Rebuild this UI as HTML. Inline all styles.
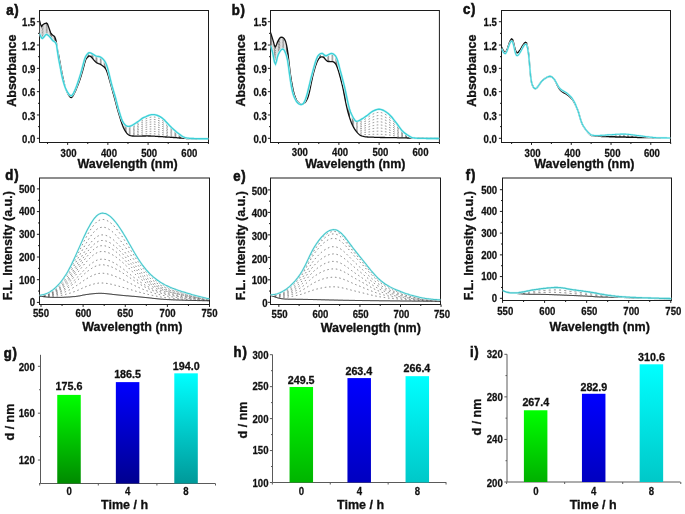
<!DOCTYPE html>
<html><head><meta charset="utf-8"><style>
html,body{margin:0;padding:0;background:#fff;}
svg{display:block;will-change:transform;}
text{font-family:"Liberation Sans",sans-serif;font-weight:bold;fill:#111;}
</style></head><body>
<svg width="685" height="514" viewBox="0 0 685 514">
<defs><clipPath id="ca"><rect x="39.5" y="10.5" width="169.00" height="132.00"/></clipPath><clipPath id="cb"><rect x="270.5" y="10.5" width="168.90" height="132.00"/></clipPath><clipPath id="cc"><rect x="501.5" y="10.5" width="169.00" height="132.00"/></clipPath><clipPath id="cd"><rect x="39.5" y="178.0" width="170.00" height="126.50"/></clipPath><clipPath id="ce"><rect x="270.5" y="178.0" width="170.00" height="126.50"/></clipPath><clipPath id="cf"><rect x="502.5" y="178.0" width="169.00" height="122.50"/></clipPath><linearGradient id="gg0" x1="0" y1="0" x2="0" y2="1"><stop offset="0" stop-color="#00ff00"/><stop offset="1" stop-color="#008a00"/></linearGradient><linearGradient id="gg1" x1="0" y1="0" x2="0" y2="1"><stop offset="0" stop-color="#0000ff"/><stop offset="1" stop-color="#000090"/></linearGradient><linearGradient id="gg2" x1="0" y1="0" x2="0" y2="1"><stop offset="0" stop-color="#00ffff"/><stop offset="1" stop-color="#009999"/></linearGradient><linearGradient id="gh0" x1="0" y1="0" x2="0" y2="1"><stop offset="0" stop-color="#00ff00"/><stop offset="1" stop-color="#00b400"/></linearGradient><linearGradient id="gh1" x1="0" y1="0" x2="0" y2="1"><stop offset="0" stop-color="#0000ff"/><stop offset="1" stop-color="#0000c0"/></linearGradient><linearGradient id="gh2" x1="0" y1="0" x2="0" y2="1"><stop offset="0" stop-color="#00ffff"/><stop offset="1" stop-color="#00c8c8"/></linearGradient><linearGradient id="gi0" x1="0" y1="0" x2="0" y2="1"><stop offset="0" stop-color="#00ff00"/><stop offset="1" stop-color="#00b000"/></linearGradient><linearGradient id="gi1" x1="0" y1="0" x2="0" y2="1"><stop offset="0" stop-color="#0000ff"/><stop offset="1" stop-color="#0000c0"/></linearGradient><linearGradient id="gi2" x1="0" y1="0" x2="0" y2="1"><stop offset="0" stop-color="#00ffff"/><stop offset="1" stop-color="#00c8c8"/></linearGradient></defs>
<rect width="685" height="514" fill="#fff"/>
<rect x="39.50" y="10.50" width="169.00" height="132.00" fill="none" stroke="#1c1c1c" stroke-width="1.0"/>
<path d="M36.90 138.30L39.50 138.30" stroke="#1c1c1c" stroke-width="1.0"/>
<path d="M36.90 114.98L39.50 114.98" stroke="#1c1c1c" stroke-width="1.0"/>
<path d="M36.90 91.66L39.50 91.66" stroke="#1c1c1c" stroke-width="1.0"/>
<path d="M36.90 68.34L39.50 68.34" stroke="#1c1c1c" stroke-width="1.0"/>
<path d="M36.90 45.02L39.50 45.02" stroke="#1c1c1c" stroke-width="1.0"/>
<path d="M36.90 21.71L39.50 21.71" stroke="#1c1c1c" stroke-width="1.0"/>
<path d="M38.00 126.64L39.50 126.64" stroke="#1c1c1c" stroke-width="1.0"/>
<path d="M38.00 103.32L39.50 103.32" stroke="#1c1c1c" stroke-width="1.0"/>
<path d="M38.00 80.00L39.50 80.00" stroke="#1c1c1c" stroke-width="1.0"/>
<path d="M38.00 56.68L39.50 56.68" stroke="#1c1c1c" stroke-width="1.0"/>
<path d="M38.00 33.36L39.50 33.36" stroke="#1c1c1c" stroke-width="1.0"/>
<path d="M67.65 142.50L67.65 144.90" stroke="#1c1c1c" stroke-width="1.0"/>
<path d="M107.87 142.50L107.87 144.90" stroke="#1c1c1c" stroke-width="1.0"/>
<path d="M148.09 142.50L148.09 144.90" stroke="#1c1c1c" stroke-width="1.0"/>
<path d="M188.31 142.50L188.31 144.90" stroke="#1c1c1c" stroke-width="1.0"/>
<path d="M47.54 142.50L47.54 144.00" stroke="#1c1c1c" stroke-width="1.0"/>
<path d="M87.76 142.50L87.76 144.00" stroke="#1c1c1c" stroke-width="1.0"/>
<path d="M127.98 142.50L127.98 144.00" stroke="#1c1c1c" stroke-width="1.0"/>
<path d="M168.20 142.50L168.20 144.00" stroke="#1c1c1c" stroke-width="1.0"/>
<path d="M208.42 142.50L208.42 144.00" stroke="#1c1c1c" stroke-width="1.0"/>
<rect x="270.50" y="10.50" width="168.90" height="132.00" fill="none" stroke="#1c1c1c" stroke-width="1.0"/>
<path d="M267.90 138.30L270.50 138.30" stroke="#1c1c1c" stroke-width="1.0"/>
<path d="M267.90 114.98L270.50 114.98" stroke="#1c1c1c" stroke-width="1.0"/>
<path d="M267.90 91.66L270.50 91.66" stroke="#1c1c1c" stroke-width="1.0"/>
<path d="M267.90 68.34L270.50 68.34" stroke="#1c1c1c" stroke-width="1.0"/>
<path d="M267.90 45.02L270.50 45.02" stroke="#1c1c1c" stroke-width="1.0"/>
<path d="M267.90 21.71L270.50 21.71" stroke="#1c1c1c" stroke-width="1.0"/>
<path d="M269.00 126.64L270.50 126.64" stroke="#1c1c1c" stroke-width="1.0"/>
<path d="M269.00 103.32L270.50 103.32" stroke="#1c1c1c" stroke-width="1.0"/>
<path d="M269.00 80.00L270.50 80.00" stroke="#1c1c1c" stroke-width="1.0"/>
<path d="M269.00 56.68L270.50 56.68" stroke="#1c1c1c" stroke-width="1.0"/>
<path d="M269.00 33.36L270.50 33.36" stroke="#1c1c1c" stroke-width="1.0"/>
<path d="M298.66 142.50L298.66 144.90" stroke="#1c1c1c" stroke-width="1.0"/>
<path d="M338.89 142.50L338.89 144.90" stroke="#1c1c1c" stroke-width="1.0"/>
<path d="M379.12 142.50L379.12 144.90" stroke="#1c1c1c" stroke-width="1.0"/>
<path d="M419.35 142.50L419.35 144.90" stroke="#1c1c1c" stroke-width="1.0"/>
<path d="M278.55 142.50L278.55 144.00" stroke="#1c1c1c" stroke-width="1.0"/>
<path d="M318.78 142.50L318.78 144.00" stroke="#1c1c1c" stroke-width="1.0"/>
<path d="M359.01 142.50L359.01 144.00" stroke="#1c1c1c" stroke-width="1.0"/>
<path d="M399.24 142.50L399.24 144.00" stroke="#1c1c1c" stroke-width="1.0"/>
<path d="M439.47 142.50L439.47 144.00" stroke="#1c1c1c" stroke-width="1.0"/>
<rect x="501.50" y="10.50" width="169.00" height="132.00" fill="none" stroke="#1c1c1c" stroke-width="1.0"/>
<path d="M498.90 138.30L501.50 138.30" stroke="#1c1c1c" stroke-width="1.0"/>
<path d="M498.90 114.98L501.50 114.98" stroke="#1c1c1c" stroke-width="1.0"/>
<path d="M498.90 91.66L501.50 91.66" stroke="#1c1c1c" stroke-width="1.0"/>
<path d="M498.90 68.34L501.50 68.34" stroke="#1c1c1c" stroke-width="1.0"/>
<path d="M498.90 45.02L501.50 45.02" stroke="#1c1c1c" stroke-width="1.0"/>
<path d="M498.90 21.71L501.50 21.71" stroke="#1c1c1c" stroke-width="1.0"/>
<path d="M500.00 126.64L501.50 126.64" stroke="#1c1c1c" stroke-width="1.0"/>
<path d="M500.00 103.32L501.50 103.32" stroke="#1c1c1c" stroke-width="1.0"/>
<path d="M500.00 80.00L501.50 80.00" stroke="#1c1c1c" stroke-width="1.0"/>
<path d="M500.00 56.68L501.50 56.68" stroke="#1c1c1c" stroke-width="1.0"/>
<path d="M500.00 33.36L501.50 33.36" stroke="#1c1c1c" stroke-width="1.0"/>
<path d="M531.50 142.50L531.50 144.90" stroke="#1c1c1c" stroke-width="1.0"/>
<path d="M571.27 142.50L571.27 144.90" stroke="#1c1c1c" stroke-width="1.0"/>
<path d="M611.04 142.50L611.04 144.90" stroke="#1c1c1c" stroke-width="1.0"/>
<path d="M650.81 142.50L650.81 144.90" stroke="#1c1c1c" stroke-width="1.0"/>
<path d="M511.62 142.50L511.62 144.00" stroke="#1c1c1c" stroke-width="1.0"/>
<path d="M551.38 142.50L551.38 144.00" stroke="#1c1c1c" stroke-width="1.0"/>
<path d="M591.15 142.50L591.15 144.00" stroke="#1c1c1c" stroke-width="1.0"/>
<path d="M630.92 142.50L630.92 144.00" stroke="#1c1c1c" stroke-width="1.0"/>
<path d="M670.69 142.50L670.69 144.00" stroke="#1c1c1c" stroke-width="1.0"/>
<g clip-path="url(#ca)" fill="none">
<path d="M39.5 20.5L40.5 24.2L41.5 26.4L42.5 25.0L43.5 24.2L44.5 23.7L45.5 23.4L46.5 23.1L47.5 24.0L48.5 26.6L49.5 29.5L50.5 32.5L51.5 34.1L52.5 35.0L53.5 35.7L54.5 36.5L55.5 38.6L56.5 43.2L57.5 50.0L57.5 51.7L56.5 44.7L55.5 42.6L54.5 41.7L53.5 41.2L52.5 40.3L51.5 39.0L50.5 37.7L49.5 36.6L48.5 35.6L47.5 34.8L46.5 34.3L45.5 34.9L44.5 36.3L43.5 37.5L42.5 38.5L41.5 37.9L40.5 35.9L39.5 33.6Z" fill="#e0e0e0" stroke="none"/>
<path d="M41.8 27.6L42.6 26.4L43.4 25.8M45.9 24.5L46.7 24.4L47.5 25.3M50.1 32.0L50.9 33.8L51.7 34.8M54.2 36.9L55.0 37.9L55.8 40.3M58.4 54.4L59.2 58.6L60.0 62.8M62.5 76.2L63.3 79.8L64.1 83.0M66.7 91.1L67.5 92.9L68.3 94.4M70.8 97.5L71.6 97.4L72.4 96.6M75.0 91.8L75.8 90.0L76.6 88.1M79.1 81.4L79.9 79.1L80.7 76.6M83.3 67.7L84.1 64.7L84.9 61.7M87.4 57.1L88.2 56.3L89.0 55.6M91.6 56.9L92.4 57.8L93.2 58.8M95.7 61.4L96.5 61.9L97.3 62.3M99.9 63.3L100.7 63.7L101.5 64.2M104.0 66.1L104.8 67.0L105.6 68.2M108.2 74.8L109.0 77.7L109.8 80.6M112.3 89.8L113.1 92.7L113.9 95.6M116.5 105.3L117.3 108.2L118.1 111.0M120.6 119.4L121.4 121.9L122.2 124.1M124.8 129.7L125.6 130.9L126.4 132.0M128.9 134.1L129.8 134.4L130.5 134.6M133.1 134.7L133.9 134.7L134.7 134.7M137.2 134.6L138.1 134.5L138.8 134.5M141.4 134.2L142.2 134.1L143.0 134.0M145.6 133.8L146.4 133.8L147.2 133.7M149.7 133.7L150.5 133.7L151.3 133.7M153.9 133.8L154.7 133.8L155.5 133.9M158.0 134.1L158.8 134.2L159.6 134.3M162.2 134.6L163.0 134.8L163.8 134.9M166.3 135.3L167.1 135.5L167.9 135.6M170.5 136.1L171.3 136.2L172.1 136.4M174.6 136.8L175.4 136.9L176.2 137.0M178.8 137.4L179.6 137.6L180.4 137.7M182.9 138.1L183.7 138.2L184.5 138.2M187.1 138.5L187.9 138.5L188.7 138.6M191.2 138.7L192.0 138.7L192.8 138.7M195.4 138.8L196.2 138.8L197.0 138.8M199.5 138.8L200.3 138.8L201.1 138.8M203.7 138.7L204.5 138.7L205.3 138.7M207.8 138.7L208.2 138.7L208.5 138.7" stroke="#777" stroke-width="0.8"/>
<path d="M41.8 28.9L42.6 27.9L43.4 27.2M45.9 25.7L46.7 25.6L47.5 26.5M50.1 32.7L50.9 34.4L51.7 35.4M54.2 37.5L55.0 38.5L55.8 40.6M58.4 54.8L59.2 59.0L60.0 63.2M62.5 76.5L63.3 80.0L64.1 83.2M66.7 91.1L67.5 92.8L68.3 94.3M70.8 97.3L71.6 97.1L72.4 96.4M75.0 91.6L75.8 89.8L76.6 87.8M79.1 81.0L79.9 78.7L80.7 76.2M83.3 67.3L84.1 64.2L84.9 61.3M87.4 56.7L88.2 55.9L89.0 55.2M91.6 56.5L92.4 57.3L93.2 58.2M95.7 60.7L96.5 61.2L97.3 61.6M99.9 62.5L100.7 62.9L101.5 63.4M104.0 65.4L104.8 66.3L105.6 67.5M108.2 74.3L109.0 77.1L109.8 80.1M112.3 89.4L113.1 92.3L113.9 95.2M116.5 104.8L117.3 107.8L118.1 110.6M120.6 119.0L121.4 121.4L122.2 123.7M124.8 129.0L125.6 130.2L126.4 131.2M128.9 133.1L129.8 133.4L130.5 133.5M133.1 133.5L133.9 133.4L134.7 133.3M137.2 133.0L138.1 132.9L138.8 132.8M141.4 132.3L142.2 132.1L143.0 132.0M145.6 131.7L146.4 131.6L147.2 131.5M149.7 131.4L150.5 131.3L151.3 131.3M153.9 131.4L154.7 131.5L155.5 131.5M158.0 131.8L158.8 131.9L159.6 132.1M162.2 132.6L163.0 132.8L163.8 133.0M166.3 133.7L167.1 133.9L167.9 134.2M170.5 134.9L171.3 135.1L172.1 135.3M174.6 136.0L175.4 136.2L176.2 136.4M178.8 137.0L179.6 137.1L180.4 137.3M182.9 137.9L183.7 138.0L184.5 138.1M187.1 138.4L187.9 138.5L188.7 138.5M191.2 138.6L192.0 138.7L192.8 138.7M195.4 138.7L196.2 138.7L197.0 138.8M199.5 138.8L200.3 138.8L201.1 138.8M203.7 138.7L204.5 138.7L205.3 138.7M207.8 138.7L208.2 138.7L208.5 138.7" stroke="#777" stroke-width="0.8"/>
<path d="M41.8 30.3L42.6 29.4L43.4 28.7M45.9 27.0L46.7 26.9L47.5 27.7M50.1 33.3L50.9 34.9L51.7 35.9M54.2 38.1L55.0 39.0L55.8 41.0M58.4 55.2L59.2 59.4L60.0 63.6M62.5 76.8L63.3 80.2L64.1 83.4M66.7 91.0L67.5 92.7L68.3 94.2M70.8 97.0L71.6 96.9L72.4 96.1M75.0 91.3L75.8 89.5L76.6 87.6M79.1 80.6L79.9 78.3L80.7 75.8M83.3 66.8L84.1 63.7L84.9 60.8M87.4 56.3L88.2 55.5L89.0 54.9M91.6 56.0L92.4 56.8L93.2 57.7M95.7 60.0L96.5 60.5L97.3 60.9M99.9 61.7L100.7 62.1L101.5 62.6M104.0 64.7L104.8 65.6L105.6 66.9M108.2 73.7L109.0 76.6L109.8 79.7M112.3 89.1L113.1 91.9L113.9 94.8M116.5 104.4L117.3 107.4L118.1 110.2M120.6 118.6L121.4 121.0L122.2 123.2M124.8 128.4L125.6 129.5L126.4 130.4M128.9 132.2L129.8 132.4L130.5 132.5M133.1 132.2L133.9 132.1L134.7 132.0M137.2 131.5L138.1 131.3L138.8 131.1M141.4 130.4L142.2 130.2L143.0 130.0M145.6 129.5L146.4 129.4L147.2 129.3M149.7 129.0L150.5 129.0L151.3 129.0M153.9 129.0L154.7 129.1L155.5 129.1M158.0 129.5L158.8 129.7L159.6 129.8M162.2 130.5L163.0 130.7L163.8 131.0M166.3 132.0L167.1 132.3L167.9 132.7M170.5 133.7L171.3 134.0L172.1 134.3M174.6 135.2L175.4 135.4L176.2 135.7M178.8 136.5L179.6 136.7L180.4 137.0M182.9 137.7L183.7 137.9L184.5 138.0M187.1 138.4L187.9 138.4L188.7 138.5M191.2 138.6L192.0 138.6L192.8 138.7M195.4 138.7L196.2 138.7L197.0 138.7M199.5 138.7L200.3 138.7L201.1 138.7M203.7 138.7L204.5 138.7L205.3 138.7M207.8 138.7L208.2 138.7L208.5 138.7" stroke="#777" stroke-width="0.8"/>
<path d="M41.8 31.6L42.6 30.9L43.4 30.2M45.9 28.2L46.7 28.1L47.5 28.9M50.1 34.0L50.9 35.4L51.7 36.5M54.2 38.6L55.0 39.5L55.8 41.3M58.4 55.6L59.2 59.8L60.0 64.0M62.5 77.1L63.3 80.5L64.1 83.5M66.7 91.0L67.5 92.6L68.3 94.0M70.8 96.8L71.6 96.7L72.4 95.9M75.0 91.1L75.8 89.3L76.6 87.3M79.1 80.3L79.9 77.9L80.7 75.4M83.3 66.3L84.1 63.2L84.9 60.4M87.4 55.9L88.2 55.1L89.0 54.5M91.6 55.6L92.4 56.3L93.2 57.1M95.7 59.3L96.5 59.8L97.3 60.1M99.9 60.9L100.7 61.3L101.5 61.8M104.0 63.9L104.8 64.9L105.6 66.2M108.2 73.2L109.0 76.1L109.8 79.2M112.3 88.7L113.1 91.6L113.9 94.4M116.5 103.9L117.3 106.9L118.1 109.7M120.6 118.2L121.4 120.6L122.2 122.8M124.8 127.8L125.6 128.8L126.4 129.7M128.9 131.2L129.8 131.4L130.5 131.4M133.1 131.0L133.9 130.8L134.7 130.6M137.2 129.9L138.1 129.7L138.8 129.4M141.4 128.5L142.2 128.2L143.0 128.0M145.6 127.4L146.4 127.3L147.2 127.1M149.7 126.7L150.5 126.6L151.3 126.6M153.9 126.6L154.7 126.7L155.5 126.8M158.0 127.2L158.8 127.4L159.6 127.6M162.2 128.4L163.0 128.7L163.8 129.1M166.3 130.3L167.1 130.8L167.9 131.2M170.5 132.5L171.3 132.9L172.1 133.2M174.6 134.4L175.4 134.7L176.2 135.0M178.8 136.0L179.6 136.3L180.4 136.6M182.9 137.5L183.7 137.8L184.5 137.9M187.1 138.3L187.9 138.4L188.7 138.4M191.2 138.6L192.0 138.6L192.8 138.6M195.4 138.7L196.2 138.7L197.0 138.7M199.5 138.7L200.3 138.7L201.1 138.7M203.7 138.7L204.5 138.7L205.3 138.7M207.8 138.7L208.2 138.7L208.5 138.7" stroke="#777" stroke-width="0.8"/>
<path d="M41.8 32.9L42.6 32.4L43.4 31.7M45.9 29.5L46.7 29.4L47.5 30.1M50.1 34.6L50.9 36.0L51.7 37.0M54.2 39.2L55.0 40.0L55.8 41.7M58.4 56.0L59.2 60.2L60.0 64.4M62.5 77.4L63.3 80.7L64.1 83.7M66.7 90.9L67.5 92.5L68.3 93.9M70.8 96.6L71.6 96.5L72.4 95.7M75.0 90.9L75.8 89.0L76.6 87.0M79.1 79.9L79.9 77.5L80.7 75.0M83.3 65.8L84.1 62.8L84.9 60.0M87.4 55.6L88.2 54.7L89.0 54.1M91.6 55.1L92.4 55.8L93.2 56.6M95.7 58.7L96.5 59.1L97.3 59.4M99.9 60.1L100.7 60.5L101.5 61.0M104.0 63.2L104.8 64.2L105.6 65.5M108.2 72.6L109.0 75.6L109.8 78.7M112.3 88.4L113.1 91.2L113.9 94.0M116.5 103.5L117.3 106.5L118.1 109.3M120.6 117.8L121.4 120.2L122.2 122.3M124.8 127.1L125.6 128.1L126.4 128.9M128.9 130.2L129.8 130.3L130.5 130.3M133.1 129.7L133.9 129.5L134.7 129.2M137.2 128.3L138.1 128.1L138.8 127.7M141.4 126.6L142.2 126.3L143.0 126.0M145.6 125.3L146.4 125.1L147.2 124.9M149.7 124.4L150.5 124.3L151.3 124.2M153.9 124.2L154.7 124.3L155.5 124.4M158.0 124.9L158.8 125.1L159.6 125.4M162.2 126.3L163.0 126.7L163.8 127.1M166.3 128.7L167.1 129.2L167.9 129.7M170.5 131.3L171.3 131.7L172.1 132.2M174.6 133.6L175.4 134.0L176.2 134.4M178.8 135.6L179.6 135.9L180.4 136.3M182.9 137.4L183.7 137.6L184.5 137.8M187.1 138.2L187.9 138.3L188.7 138.4M191.2 138.6L192.0 138.6L192.8 138.6M195.4 138.7L196.2 138.7L197.0 138.7M199.5 138.7L200.3 138.7L201.1 138.7M203.7 138.7L204.5 138.7L205.3 138.7M207.8 138.7L208.2 138.7L208.5 138.7" stroke="#777" stroke-width="0.8"/>
<path d="M41.8 34.3L42.6 33.9L43.4 33.2M45.9 30.7L46.7 30.6L47.5 31.2M50.1 35.3L50.9 36.5L51.7 37.6M54.2 39.8L55.0 40.5L55.8 42.0M58.4 56.4L59.2 60.6L60.0 64.9M62.5 77.8L63.3 81.0L64.1 83.9M66.7 90.9L67.5 92.4L68.3 93.8M70.8 96.4L71.6 96.3L72.4 95.5M75.0 90.7L75.8 88.8L76.6 86.7M79.1 79.6L79.9 77.1L80.7 74.6M83.3 65.3L84.1 62.3L84.9 59.5M87.4 55.2L88.2 54.3L89.0 53.8M91.6 54.7L92.4 55.3L93.2 56.0M95.7 58.0L96.5 58.4L97.3 58.6M99.9 59.3L100.7 59.6L101.5 60.2M104.0 62.4L104.8 63.5L105.6 64.8M108.2 72.1L109.0 75.1L109.8 78.3M112.3 88.0L113.1 90.8L113.9 93.6M116.5 103.0L117.3 106.1L118.1 108.9M120.6 117.4L121.4 119.8L122.2 121.9M124.8 126.5L125.6 127.4L126.4 128.1M128.9 129.3L129.8 129.3L130.5 129.2M133.1 128.5L133.9 128.2L134.7 127.8M137.2 126.8L138.1 126.4L138.8 126.1M141.4 124.7L142.2 124.3L143.0 124.0M145.6 123.1L146.4 122.9L147.2 122.7M149.7 122.1L150.5 122.0L151.3 121.9M153.9 121.8L154.7 121.9L155.5 122.0M158.0 122.6L158.8 122.8L159.6 123.1M162.2 124.3L163.0 124.7L163.8 125.2M166.3 127.0L167.1 127.6L167.9 128.2M170.5 130.1L171.3 130.6L172.1 131.1M174.6 132.7L175.4 133.2L176.2 133.7M178.8 135.1L179.6 135.5L180.4 135.9M182.9 137.2L183.7 137.5L184.5 137.7M187.1 138.2L187.9 138.3L188.7 138.4M191.2 138.5L192.0 138.6L192.8 138.6M195.4 138.7L196.2 138.7L197.0 138.7M199.5 138.7L200.3 138.7L201.1 138.7M203.7 138.7L204.5 138.7L205.3 138.7M207.8 138.7L208.2 138.7L208.5 138.7" stroke="#777" stroke-width="0.8"/>
<path d="M41.8 35.6L42.6 35.5L43.4 34.7M45.9 31.9L46.7 31.9L47.5 32.4M50.1 35.9L50.9 37.1L51.7 38.1M54.2 40.4L55.0 41.1L55.8 42.4M58.4 56.7L59.2 61.1L60.0 65.3M62.5 78.1L63.3 81.2L64.1 84.0M66.7 90.9L67.5 92.4L68.3 93.6M70.8 96.2L71.6 96.1L72.4 95.3M75.0 90.5L75.8 88.5L76.6 86.5M79.1 79.2L79.9 76.7L80.7 74.2M83.3 64.9L84.1 61.8L84.9 59.1M87.4 54.8L88.2 53.9L89.0 53.4M91.6 54.2L92.4 54.8L93.2 55.5M95.7 57.3L96.5 57.7L97.3 57.9M99.9 58.4L100.7 58.8L101.5 59.4M104.0 61.7L104.8 62.8L105.6 64.1M108.2 71.5L109.0 74.6L109.8 77.8M112.3 87.7L113.1 90.5L113.9 93.2M116.5 102.6L117.3 105.6L118.1 108.5M120.6 117.0L121.4 119.4L122.2 121.4M124.8 125.8L125.6 126.7L126.4 127.4M128.9 128.3L129.8 128.3L130.5 128.1M133.1 127.2L133.9 126.9L134.7 126.5M137.2 125.2L138.1 124.8L138.8 124.4M141.4 122.8L142.2 122.3L143.0 122.0M145.6 121.0L146.4 120.7L147.2 120.5M149.7 119.8L150.5 119.6L151.3 119.5M153.9 119.4L154.7 119.5L155.5 119.6M158.0 120.3L158.8 120.6L159.6 120.9M162.2 122.2L163.0 122.7L163.8 123.3M166.3 125.3L167.1 126.0L167.9 126.7M170.5 128.9L171.3 129.5L172.1 130.1M174.6 131.9L175.4 132.5L176.2 133.0M178.8 134.6L179.6 135.1L180.4 135.6M182.9 137.0L183.7 137.4L184.5 137.6M187.1 138.1L187.9 138.2L188.7 138.3M191.2 138.5L192.0 138.5L192.8 138.6M195.4 138.6L196.2 138.7L197.0 138.7M199.5 138.7L200.3 138.7L201.1 138.7M203.7 138.7L204.5 138.7L205.3 138.7M207.8 138.7L208.2 138.7L208.5 138.7" stroke="#777" stroke-width="0.8"/>
<path d="M41.8 37.0L42.6 37.0L43.4 36.2M45.9 33.2L46.7 33.1L47.5 33.6M50.1 36.6L50.9 37.6L51.7 38.7M54.2 41.0L55.0 41.6L55.8 42.8M58.4 57.1L59.2 61.5L60.0 65.7M62.5 78.4L63.3 81.4L64.1 84.2M66.7 90.8L67.5 92.3L68.3 93.5M70.8 96.0L71.6 95.9L72.4 95.1M75.0 90.2L75.8 88.3L76.6 86.2M79.1 78.9L79.9 76.4L80.7 73.8M83.3 64.4L84.1 61.3L84.9 58.7M87.4 54.4L88.2 53.5L89.0 53.0M91.6 53.8L92.4 54.3L93.2 54.9M95.7 56.6L96.5 56.9L97.3 57.1M99.9 57.6L100.7 58.0L101.5 58.6M104.0 60.9L104.8 62.1L105.6 63.5M108.2 71.0L109.0 74.1L109.8 77.3M112.3 87.3L113.1 90.1L113.9 92.8M116.5 102.2L117.3 105.2L118.1 108.1M120.6 116.6L121.4 118.9L122.2 121.0M124.8 125.2L125.6 126.0L126.4 126.6M128.9 127.4L129.8 127.3L130.5 127.1M133.1 126.0L133.9 125.5L134.7 125.1M137.2 123.6L138.1 123.2L138.8 122.7M141.4 120.9L142.2 120.4L143.0 120.0M145.6 118.9L146.4 118.6L147.2 118.3M149.7 117.5L150.5 117.3L151.3 117.1M153.9 117.0L154.7 117.1L155.5 117.2M158.0 118.0L158.8 118.3L159.6 118.6M162.2 120.1L163.0 120.7L163.8 121.3M166.3 123.7L167.1 124.5L167.9 125.3M170.5 127.7L171.3 128.4L172.1 129.0M174.6 131.1L175.4 131.8L176.2 132.4M178.8 134.2L179.6 134.7L180.4 135.2M182.9 136.9L183.7 137.2L184.5 137.5M187.1 138.1L187.9 138.2L188.7 138.3M191.2 138.5L192.0 138.5L192.8 138.5M195.4 138.6L196.2 138.6L197.0 138.6M199.5 138.7L200.3 138.7L201.1 138.7M203.7 138.7L204.5 138.7L205.3 138.7M207.8 138.7L208.2 138.7L208.5 138.7" stroke="#777" stroke-width="0.8"/>
<path d="M39.5 20.5L40.5 24.2L41.5 26.4L42.5 25.0L43.5 24.2L44.5 23.7L45.5 23.4L46.5 23.1L47.5 24.0L48.5 26.6L49.5 29.5L50.5 32.5L51.5 34.1L52.5 35.0L53.5 35.7L54.5 36.5L55.5 38.6L56.5 43.2L57.5 50.0L58.5 54.5L59.5 59.8L60.5 65.0L61.5 70.3L62.5 75.6L63.5 80.1L64.5 84.3L65.5 87.9L66.5 90.7L67.5 93.0L68.5 94.9L69.5 96.4L70.5 97.5L71.5 97.6L72.5 96.7L73.5 95.0L74.5 93.0L75.5 90.9L76.5 88.6L77.5 86.1L78.5 83.5L79.5 80.7L80.5 77.8L81.5 74.6L82.5 71.2L83.5 67.5L84.5 63.6L85.5 60.2L86.5 58.2L87.5 57.5L88.5 56.4L89.5 55.9L90.5 56.3L91.5 57.3L92.5 58.4L93.5 59.7L94.5 60.8L95.5 61.8L96.5 62.6L97.5 63.2L98.5 63.6L99.5 63.9L100.5 64.4L101.5 65.0L102.5 65.7L103.5 66.4L104.5 67.3L105.5 68.7L106.5 70.5L107.5 73.2L108.5 76.4L109.5 80.0L110.5 83.6L111.5 87.1L112.5 90.7L113.5 94.3L114.5 98.0L115.5 101.8L116.5 105.7L117.5 109.3L118.5 112.7L119.5 116.1L120.5 119.3L121.5 122.4L122.5 125.3L123.5 127.7L124.5 129.8L125.5 131.5L126.5 132.9L127.5 133.9L128.5 134.7L129.5 135.3L130.5 135.7L131.5 135.9L132.5 136.0L133.5 136.0L134.5 136.1L135.5 136.1L136.5 136.1L137.5 136.2L138.5 136.1L139.5 136.1L140.5 136.1L141.5 136.1L142.5 136.0L143.5 136.0L144.5 136.0L145.5 136.0L146.5 135.9L147.5 135.9L148.5 136.0L149.5 136.0L150.5 136.0L151.5 136.1L152.5 136.1L153.5 136.2L154.5 136.2L155.5 136.3L156.5 136.3L157.5 136.4L158.5 136.5L159.5 136.5L160.5 136.6L161.5 136.7L162.5 136.7L163.5 136.8L164.5 136.9L165.5 137.0L166.5 137.0L167.5 137.1L168.5 137.2L169.5 137.2L170.5 137.3L171.5 137.4L172.5 137.4L173.5 137.5L174.5 137.6L175.5 137.7L176.5 137.7L177.5 137.8L178.5 137.9L179.5 138.0L180.5 138.0L181.5 138.1L182.5 138.2L183.5 138.3L184.5 138.3L185.5 138.4L186.5 138.5L187.5 138.5L188.5 138.6L189.5 138.6L190.5 138.7L191.5 138.7L192.5 138.7L193.5 138.8L194.5 138.8L195.5 138.8L196.5 138.8L197.5 138.8L198.5 138.8L199.5 138.8L200.5 138.8L201.5 138.8L202.5 138.8L203.5 138.8L204.5 138.7L205.5 138.7L206.5 138.7L207.5 138.7L208.5 138.7" stroke="#111" stroke-width="1.3"/>
<path d="M39.5 33.6L40.5 35.9L41.5 37.9L42.5 38.5L43.5 37.5L44.5 36.3L45.5 34.9L46.5 34.3L47.5 34.8L48.5 35.6L49.5 36.6L50.5 37.7L51.5 39.0L52.5 40.3L53.5 41.2L54.5 41.7L55.5 42.6L56.5 44.7L57.5 51.7L58.5 58.1L59.5 63.5L60.5 68.7L61.5 74.0L62.5 78.5L63.5 82.2L64.5 85.5L65.5 88.2L66.5 90.4L67.5 92.2L68.5 93.7L69.5 94.9L70.5 95.6L71.5 95.7L72.5 94.8L73.5 93.1L74.5 91.1L75.5 88.8L76.5 86.2L77.5 83.4L78.5 80.5L79.5 77.4L80.5 74.2L81.5 70.8L82.5 67.0L83.5 63.1L84.5 59.5L85.5 56.7L86.5 55.1L87.5 53.9L88.5 52.9L89.5 52.6L90.5 52.8L91.5 53.3L92.5 53.9L93.5 54.6L94.5 55.2L95.5 55.8L96.5 56.2L97.5 56.4L98.5 56.5L99.5 56.7L100.5 57.1L101.5 57.8L102.5 58.6L103.5 59.6L104.5 60.8L105.5 62.5L106.5 64.8L107.5 67.9L108.5 71.6L109.5 75.6L110.5 79.8L111.5 83.8L112.5 87.5L113.5 90.9L114.5 94.2L115.5 97.8L116.5 101.7L117.5 105.5L118.5 109.1L119.5 112.4L120.5 115.7L121.5 118.7L122.5 121.1L123.5 122.9L124.5 124.2L125.5 125.2L126.5 125.9L127.5 126.3L128.5 126.4L129.5 126.3L130.5 126.0L131.5 125.6L132.5 125.1L133.5 124.5L134.5 123.9L135.5 123.2L136.5 122.6L137.5 121.9L138.5 121.3L139.5 120.5L140.5 119.7L141.5 118.9L142.5 118.2L143.5 117.7L144.5 117.2L145.5 116.8L146.5 116.3L147.5 115.9L148.5 115.5L149.5 115.2L150.5 114.9L151.5 114.7L152.5 114.6L153.5 114.6L154.5 114.7L155.5 114.9L156.5 115.1L157.5 115.5L158.5 115.9L159.5 116.4L160.5 116.9L161.5 117.6L162.5 118.3L163.5 119.2L164.5 120.1L165.5 121.2L166.5 122.2L167.5 123.3L168.5 124.4L169.5 125.5L170.5 126.5L171.5 127.5L172.5 128.4L173.5 129.3L174.5 130.2L175.5 131.1L176.5 132.0L177.5 132.8L178.5 133.5L179.5 134.2L180.5 135.0L181.5 135.8L182.5 136.5L183.5 137.0L184.5 137.4L185.5 137.7L186.5 137.9L187.5 138.1L188.5 138.2L189.5 138.3L190.5 138.4L191.5 138.5L192.5 138.5L193.5 138.5L194.5 138.6L195.5 138.6L196.5 138.6L197.5 138.6L198.5 138.7L199.5 138.7L200.5 138.7L201.5 138.7L202.5 138.7L203.5 138.7L204.5 138.7L205.5 138.7L206.5 138.7L207.5 138.7L208.5 138.7" stroke="#d0f7f9" stroke-width="2.35"/>
<path d="M39.5 33.6L40.5 35.9L41.5 37.9L42.5 38.5L43.5 37.5L44.5 36.3L45.5 34.9L46.5 34.3L47.5 34.8L48.5 35.6L49.5 36.6L50.5 37.7L51.5 39.0L52.5 40.3L53.5 41.2L54.5 41.7L55.5 42.6L56.5 44.7L57.5 51.7L58.5 58.1L59.5 63.5L60.5 68.7L61.5 74.0L62.5 78.5L63.5 82.2L64.5 85.5L65.5 88.2L66.5 90.4L67.5 92.2L68.5 93.7L69.5 94.9L70.5 95.6L71.5 95.7L72.5 94.8L73.5 93.1L74.5 91.1L75.5 88.8L76.5 86.2L77.5 83.4L78.5 80.5L79.5 77.4L80.5 74.2L81.5 70.8L82.5 67.0L83.5 63.1L84.5 59.5L85.5 56.7L86.5 55.1L87.5 53.9L88.5 52.9L89.5 52.6L90.5 52.8L91.5 53.3L92.5 53.9L93.5 54.6L94.5 55.2L95.5 55.8L96.5 56.2L97.5 56.4L98.5 56.5L99.5 56.7L100.5 57.1L101.5 57.8L102.5 58.6L103.5 59.6L104.5 60.8L105.5 62.5L106.5 64.8L107.5 67.9L108.5 71.6L109.5 75.6L110.5 79.8L111.5 83.8L112.5 87.5L113.5 90.9L114.5 94.2L115.5 97.8L116.5 101.7L117.5 105.5L118.5 109.1L119.5 112.4L120.5 115.7L121.5 118.7L122.5 121.1L123.5 122.9L124.5 124.2L125.5 125.2L126.5 125.9L127.5 126.3L128.5 126.4L129.5 126.3L130.5 126.0L131.5 125.6L132.5 125.1L133.5 124.5L134.5 123.9L135.5 123.2L136.5 122.6L137.5 121.9L138.5 121.3L139.5 120.5L140.5 119.7L141.5 118.9L142.5 118.2L143.5 117.7L144.5 117.2L145.5 116.8L146.5 116.3L147.5 115.9L148.5 115.5L149.5 115.2L150.5 114.9L151.5 114.7L152.5 114.6L153.5 114.6L154.5 114.7L155.5 114.9L156.5 115.1L157.5 115.5L158.5 115.9L159.5 116.4L160.5 116.9L161.5 117.6L162.5 118.3L163.5 119.2L164.5 120.1L165.5 121.2L166.5 122.2L167.5 123.3L168.5 124.4L169.5 125.5L170.5 126.5L171.5 127.5L172.5 128.4L173.5 129.3L174.5 130.2L175.5 131.1L176.5 132.0L177.5 132.8L178.5 133.5L179.5 134.2L180.5 135.0L181.5 135.8L182.5 136.5L183.5 137.0L184.5 137.4L185.5 137.7L186.5 137.9L187.5 138.1L188.5 138.2L189.5 138.3L190.5 138.4L191.5 138.5L192.5 138.5L193.5 138.5L194.5 138.6L195.5 138.6L196.5 138.6L197.5 138.6L198.5 138.7L199.5 138.7L200.5 138.7L201.5 138.7L202.5 138.7L203.5 138.7L204.5 138.7L205.5 138.7L206.5 138.7L207.5 138.7L208.5 138.7" stroke="#3ccfd6" stroke-width="1.35"/>
</g>
<g clip-path="url(#cb)" fill="none">
<path d="M270.5 32.5L271.5 35.5L272.5 38.6L273.5 41.9L274.5 45.9L275.5 46.9L276.5 44.8L277.5 42.1L278.5 40.1L279.5 38.5L280.5 37.3L281.5 37.1L282.5 37.3L283.5 38.0L284.5 39.1L285.5 41.2L286.5 44.9L287.5 50.4L288.5 58.1L289.5 66.8L289.5 74.1L288.5 66.6L287.5 60.0L286.5 55.9L285.5 52.9L284.5 50.7L283.5 49.4L282.5 49.0L281.5 49.5L280.5 50.6L279.5 52.1L278.5 53.9L277.5 56.7L276.5 61.2L275.5 64.1L274.5 62.2L273.5 57.2L272.5 52.0L271.5 48.5L270.5 45.5Z" fill="#e0e0e0" stroke="none"/>
<path d="M270.5 33.9L271.1 35.8L271.7 37.6M274.2 46.6L275.0 48.7L275.8 48.4M278.3 42.0L279.1 40.6L279.9 39.4M282.4 38.6L283.2 39.0L284.0 39.7M286.5 46.1L287.3 50.2L288.1 55.9M290.6 76.3L291.4 81.4L292.2 85.7M294.7 95.9L295.5 98.0L296.3 99.8M298.8 103.0L299.6 103.7L300.4 104.2M302.9 104.1L303.7 103.6L304.5 102.9M307.0 99.0L307.8 97.0L308.6 94.5M311.1 83.1L311.9 79.2L312.7 75.7M315.2 66.6L316.0 64.1L316.8 62.0M319.3 57.7L320.1 57.1L320.9 56.7M323.4 57.0L324.2 57.7L325.0 58.5M327.5 60.6L328.3 60.7L329.1 60.7M331.6 60.7L332.4 60.7L333.2 60.9M335.7 63.2L336.5 64.6L337.3 66.6M339.8 74.8L340.6 77.8L341.4 80.9M343.9 91.9L344.7 96.0L345.5 100.1M348.0 111.2L348.8 114.1L349.6 116.8M352.1 123.4L352.9 125.1L353.7 126.5M356.2 130.2L357.0 131.1L357.8 131.9M360.3 133.6L361.1 133.9L361.9 134.1M364.4 134.5L365.2 134.6L366.0 134.6M368.5 134.5L369.3 134.5L370.1 134.5M372.6 134.3L373.4 134.3L374.2 134.3M376.7 134.3L377.5 134.3L378.3 134.3M380.8 134.3L381.6 134.4L382.4 134.4M384.9 134.6L385.7 134.7L386.5 134.8M389.0 135.0L389.8 135.1L390.6 135.2M393.1 135.6L393.9 135.7L394.7 135.8M397.2 136.2L398.0 136.4L398.8 136.5M401.3 136.9L402.1 137.0L402.9 137.2M405.4 137.4L406.2 137.5L407.0 137.6M409.5 137.8L410.3 137.9L411.1 137.9M413.6 138.1L414.4 138.1L415.2 138.1M417.7 138.2L418.5 138.2L419.3 138.2M421.8 138.2L422.6 138.2L423.4 138.3M425.9 138.3L426.7 138.3L427.5 138.3M430.0 138.4L430.8 138.4L431.6 138.4M434.1 138.4L434.9 138.4L435.7 138.4M438.2 138.5L438.8 138.5L439.4 138.5" stroke="#777" stroke-width="0.8"/>
<path d="M270.5 35.4L271.1 37.2L271.7 39.0M274.2 48.4L275.0 50.6L275.8 50.3M278.3 43.6L279.1 42.1L279.9 40.9M282.4 39.9L283.2 40.3L284.0 41.0M286.5 47.4L287.3 51.3L288.1 56.8M290.6 77.0L291.4 82.0L292.2 86.3M294.7 96.1L295.5 98.3L296.3 100.0M298.8 103.1L299.6 103.7L300.4 104.2M302.9 104.1L303.7 103.5L304.5 102.8M307.0 98.4L307.8 96.3L308.6 93.7M311.1 82.4L311.9 78.7L312.7 75.2M315.2 66.1L316.0 63.6L316.8 61.5M319.3 57.3L320.1 56.7L320.9 56.3M323.4 56.6L324.2 57.3L325.0 58.2M327.5 59.9L328.3 60.0L329.1 59.9M331.6 59.8L332.4 59.8L333.2 60.0M335.7 62.3L336.5 63.8L337.3 65.7M339.8 74.1L340.6 77.0L341.4 80.1M343.9 91.0L344.7 95.0L345.5 99.0M348.0 110.2L348.8 113.2L349.6 115.9M352.1 122.4L352.9 124.1L353.7 125.5M356.2 129.1L357.0 129.9L357.8 130.5M360.3 131.9L361.1 132.1L361.9 132.2M364.4 132.4L365.2 132.3L366.0 132.3M368.5 132.0L369.3 131.9L370.1 131.8M372.6 131.5L373.4 131.4L374.2 131.3M376.7 131.2L377.5 131.2L378.3 131.1M380.8 131.2L381.6 131.3L382.4 131.4M384.9 131.7L385.7 131.8L386.5 131.9M389.0 132.4L389.8 132.6L390.6 132.8M393.1 133.5L393.9 133.7L394.7 134.0M397.2 134.7L398.0 135.0L398.8 135.2M401.3 136.0L402.1 136.2L402.9 136.4M405.4 137.0L406.2 137.1L407.0 137.2M409.5 137.6L410.3 137.7L411.1 137.8M413.6 138.0L414.4 138.1L415.2 138.1M417.7 138.2L418.5 138.2L419.3 138.2M421.8 138.3L422.6 138.3L423.4 138.3M425.9 138.3L426.7 138.3L427.5 138.3M430.0 138.4L430.8 138.4L431.6 138.4M434.1 138.4L434.9 138.4L435.7 138.4M438.2 138.5L438.8 138.5L439.4 138.5" stroke="#777" stroke-width="0.8"/>
<path d="M270.5 36.8L271.1 38.6L271.7 40.5M274.2 50.2L275.0 52.5L275.8 52.2M278.3 45.1L279.1 43.6L279.9 42.4M282.4 41.2L283.2 41.5L284.0 42.3M286.5 48.6L287.3 52.4L288.1 57.8M290.6 77.7L291.4 82.6L292.2 86.9M294.7 96.4L295.5 98.5L296.3 100.1M298.8 103.2L299.6 103.8L300.4 104.2M302.9 104.0L303.7 103.5L304.5 102.6M307.0 97.8L307.8 95.6L308.6 92.9M311.1 81.7L311.9 78.1L312.7 74.7M315.2 65.7L316.0 63.2L316.8 61.0M319.3 56.9L320.1 56.3L320.9 55.9M323.4 56.3L324.2 57.0L325.0 57.8M327.5 59.3L328.3 59.3L329.1 59.1M331.6 58.9L332.4 58.9L333.2 59.1M335.7 61.5L336.5 62.9L337.3 64.9M339.8 73.3L340.6 76.3L341.4 79.3M343.9 90.0L344.7 93.9L345.5 97.9M348.0 109.2L348.8 112.2L349.6 114.9M352.1 121.4L352.9 123.1L353.7 124.5M356.2 128.0L357.0 128.6L357.8 129.2M360.3 130.2L361.1 130.3L361.9 130.3M364.4 130.2L365.2 130.1L366.0 130.0M368.5 129.5L369.3 129.3L370.1 129.1M372.6 128.6L373.4 128.5L374.2 128.4M376.7 128.1L377.5 128.0L378.3 128.0M380.8 128.1L381.6 128.2L382.4 128.3M384.9 128.8L385.7 128.9L386.5 129.1M389.0 129.8L389.8 130.1L390.6 130.4M393.1 131.4L393.9 131.7L394.7 132.1M397.2 133.2L398.0 133.6L398.8 134.0M401.3 135.1L402.1 135.4L402.9 135.7M405.4 136.5L406.2 136.7L407.0 136.8M409.5 137.4L410.3 137.6L411.1 137.8M413.6 138.0L414.4 138.1L415.2 138.1M417.7 138.2L418.5 138.2L419.3 138.2M421.8 138.3L422.6 138.3L423.4 138.3M425.9 138.3L426.7 138.3L427.5 138.4M430.0 138.4L430.8 138.4L431.6 138.4M434.1 138.4L434.9 138.4L435.7 138.5M438.2 138.5L438.8 138.5L439.4 138.5" stroke="#777" stroke-width="0.8"/>
<path d="M270.5 38.3L271.1 40.1L271.7 41.9M274.2 52.0L275.0 54.4L275.8 54.1M278.3 46.7L279.1 45.2L279.9 43.9M282.4 42.5L283.2 42.8L284.0 43.6M286.5 49.8L287.3 53.5L288.1 58.8M290.6 78.4L291.4 83.3L292.2 87.5M294.7 96.7L295.5 98.7L296.3 100.3M298.8 103.3L299.6 103.9L300.4 104.3M302.9 104.0L303.7 103.4L304.5 102.4M307.0 97.3L307.8 94.9L308.6 92.1M311.1 81.1L311.9 77.5L312.7 74.2M315.2 65.2L316.0 62.7L316.8 60.6M319.3 56.5L320.1 55.9L320.9 55.5M323.4 55.9L324.2 56.6L325.0 57.4M327.5 58.6L328.3 58.5L329.1 58.3M331.6 58.0L332.4 58.0L333.2 58.3M335.7 60.6L336.5 62.0L337.3 64.0M339.8 72.6L340.6 75.5L341.4 78.6M343.9 89.0L344.7 92.9L345.5 96.8M348.0 108.2L348.8 111.3L349.6 114.0M352.1 120.5L352.9 122.1L353.7 123.5M356.2 126.9L357.0 127.4L357.8 127.8M360.3 128.5L361.1 128.5L361.9 128.4M364.4 128.1L365.2 127.9L366.0 127.7M368.5 127.0L369.3 126.7L370.1 126.4M372.6 125.7L373.4 125.6L374.2 125.4M376.7 125.0L377.5 124.9L378.3 124.9M380.8 125.0L381.6 125.1L382.4 125.2M384.9 125.8L385.7 126.1L386.5 126.3M389.0 127.2L389.8 127.6L390.6 127.9M393.1 129.3L393.9 129.7L394.7 130.2M397.2 131.7L398.0 132.2L398.8 132.7M401.3 134.2L402.1 134.7L402.9 135.0M405.4 136.0L406.2 136.3L407.0 136.5M409.5 137.2L410.3 137.5L411.1 137.7M413.6 138.0L414.4 138.0L415.2 138.1M417.7 138.2L418.5 138.2L419.3 138.2M421.8 138.3L422.6 138.3L423.4 138.3M425.9 138.4L426.7 138.4L427.5 138.4M430.0 138.4L430.8 138.4L431.6 138.4M434.1 138.4L434.9 138.5L435.7 138.5M438.2 138.5L438.8 138.5L439.4 138.5" stroke="#777" stroke-width="0.8"/>
<path d="M270.5 39.7L271.1 41.5L271.7 43.4M274.2 53.8L275.0 56.2L275.8 56.0M278.3 48.2L279.1 46.7L279.9 45.4M282.4 43.8L283.2 44.1L284.0 44.8M286.5 51.0L287.3 54.6L288.1 59.7M290.6 79.1L291.4 83.9L292.2 88.1M294.7 97.0L295.5 98.9L296.3 100.5M298.8 103.4L299.6 104.0L300.4 104.3M302.9 104.0L303.7 103.3L304.5 102.3M307.0 96.7L307.8 94.2L308.6 91.3M311.1 80.4L311.9 76.9L312.7 73.7M315.2 64.7L316.0 62.2L316.8 60.1M319.3 56.0L320.1 55.5L320.9 55.1M323.4 55.6L324.2 56.3L325.0 57.0M327.5 57.9L328.3 57.8L329.1 57.5M331.6 57.0L332.4 57.1L333.2 57.4M335.7 59.7L336.5 61.2L337.3 63.1M339.8 71.8L340.6 74.8L341.4 77.8M343.9 88.1L344.7 91.8L345.5 95.7M348.0 107.2L348.8 110.3L349.6 113.0M352.1 119.5L352.9 121.1L353.7 122.5M356.2 125.7L357.0 126.2L357.8 126.5M360.3 126.8L361.1 126.7L361.9 126.5M364.4 125.9L365.2 125.7L366.0 125.4M368.5 124.4L369.3 124.1L370.1 123.7M372.6 122.8L373.4 122.6L374.2 122.4M376.7 121.9L377.5 121.8L378.3 121.8M380.8 121.9L381.6 122.0L382.4 122.2M384.9 122.9L385.7 123.2L386.5 123.5M389.0 124.6L389.8 125.0L390.6 125.5M393.1 127.2L393.9 127.8L394.7 128.4M397.2 130.2L398.0 130.8L398.8 131.4M401.3 133.3L402.1 133.9L402.9 134.3M405.4 135.5L406.2 135.8L407.0 136.1M409.5 137.0L410.3 137.3L411.1 137.6M413.6 138.0L414.4 138.0L415.2 138.1M417.7 138.2L418.5 138.2L419.3 138.3M421.8 138.3L422.6 138.3L423.4 138.3M425.9 138.4L426.7 138.4L427.5 138.4M430.0 138.4L430.8 138.4L431.6 138.4M434.1 138.5L434.9 138.5L435.7 138.5M438.2 138.5L438.8 138.5L439.4 138.5" stroke="#777" stroke-width="0.8"/>
<path d="M270.5 41.2L271.1 43.0L271.7 44.8M274.2 55.5L275.0 58.1L275.8 57.9M278.3 49.7L279.1 48.2L279.9 46.9M282.4 45.1L283.2 45.4L284.0 46.1M286.5 52.2L287.3 55.8L288.1 60.7M290.6 79.8L291.4 84.5L292.2 88.7M294.7 97.3L295.5 99.1L296.3 100.6M298.8 103.5L299.6 104.0L300.4 104.4M302.9 104.0L303.7 103.2L304.5 102.1M307.0 96.1L307.8 93.5L308.6 90.5M311.1 79.7L311.9 76.4L312.7 73.2M315.2 64.2L316.0 61.7L316.8 59.6M319.3 55.6L320.1 55.1L320.9 54.8M323.4 55.2L324.2 55.9L325.0 56.6M327.5 57.3L328.3 57.0L329.1 56.7M331.6 56.1L332.4 56.2L333.2 56.5M335.7 58.9L336.5 60.3L337.3 62.3M339.8 71.1L340.6 74.0L341.4 77.0M343.9 87.1L344.7 90.7L345.5 94.5M348.0 106.1L348.8 109.3L349.6 112.1M352.1 118.5L352.9 120.1L353.7 121.5M356.2 124.6L357.0 125.0L357.8 125.1M360.3 125.1L361.1 124.9L361.9 124.7M364.4 123.8L365.2 123.5L366.0 123.2M368.5 121.9L369.3 121.5L370.1 121.1M372.6 120.0L373.4 119.7L374.2 119.5M376.7 118.8L377.5 118.7L378.3 118.6M380.8 118.8L381.6 118.9L382.4 119.1M384.9 120.0L385.7 120.3L386.5 120.7M389.0 122.0L389.8 122.5L390.6 123.1M393.1 125.1L393.9 125.8L394.7 126.5M397.2 128.7L398.0 129.4L398.8 130.1M401.3 132.4L402.1 133.1L402.9 133.6M405.4 135.0L406.2 135.4L407.0 135.8M409.5 136.8L410.3 137.2L411.1 137.5M413.6 137.9L414.4 138.0L415.2 138.1M417.7 138.2L418.5 138.2L419.3 138.3M421.8 138.3L422.6 138.3L423.4 138.4M425.9 138.4L426.7 138.4L427.5 138.4M430.0 138.4L430.8 138.4L431.6 138.4M434.1 138.5L434.9 138.5L435.7 138.5M438.2 138.5L438.8 138.5L439.4 138.5" stroke="#777" stroke-width="0.8"/>
<path d="M270.5 42.6L271.1 44.4L271.7 46.3M274.2 57.3L275.0 60.0L275.8 59.8M278.3 51.3L279.1 49.7L279.9 48.4M282.4 46.4L283.2 46.6L284.0 47.4M286.5 53.5L287.3 56.9L288.1 61.7M290.6 80.5L291.4 85.2L292.2 89.3M294.7 97.6L295.5 99.4L296.3 100.8M298.8 103.6L299.6 104.1L300.4 104.4M302.9 103.9L303.7 103.2L304.5 102.0M307.0 95.6L307.8 92.8L308.6 89.7M311.1 79.0L311.9 75.8L312.7 72.7M315.2 63.7L316.0 61.3L316.8 59.2M319.3 55.2L320.1 54.7L320.9 54.4M323.4 54.8L324.2 55.6L325.0 56.3M327.5 56.6L328.3 56.3L329.1 55.9M331.6 55.2L332.4 55.4L333.2 55.7M335.7 58.0L336.5 59.4L337.3 61.4M339.8 70.3L340.6 73.3L341.4 76.2M343.9 86.2L344.7 89.7L345.5 93.4M348.0 105.1L348.8 108.4L349.6 111.1M352.1 117.5L352.9 119.1L353.7 120.4M356.2 123.5L357.0 123.7L357.8 123.8M360.3 123.4L361.1 123.1L361.9 122.8M364.4 121.6L365.2 121.3L366.0 120.9M368.5 119.4L369.3 118.9L370.1 118.4M372.6 117.1L373.4 116.8L374.2 116.5M376.7 115.8L377.5 115.6L378.3 115.5M380.8 115.7L381.6 115.8L382.4 116.1M384.9 117.1L385.7 117.4L386.5 117.9M389.0 119.4L389.8 120.0L390.6 120.6M393.1 123.0L393.9 123.8L394.7 124.6M397.2 127.2L398.0 128.0L398.8 128.9M401.3 131.5L402.1 132.3L402.9 132.9M405.4 134.6L406.2 135.0L407.0 135.4M409.5 136.6L410.3 137.0L411.1 137.4M413.6 137.9L414.4 138.0L415.2 138.1M417.7 138.2L418.5 138.3L419.3 138.3M421.8 138.4L422.6 138.4L423.4 138.4M425.9 138.4L426.7 138.4L427.5 138.4M430.0 138.4L430.8 138.5L431.6 138.5M434.1 138.5L434.9 138.5L435.7 138.5M438.2 138.5L438.8 138.5L439.4 138.5" stroke="#777" stroke-width="0.8"/>
<path d="M270.5 44.1L271.1 45.9L271.7 47.7M274.2 59.1L275.0 61.9L275.8 61.8M278.3 52.8L279.1 51.3L279.9 49.9M282.4 47.7L283.2 47.9L284.0 48.7M286.5 54.7L287.3 58.0L288.1 62.6M290.6 81.1L291.4 85.8L292.2 89.9M294.7 97.9L295.5 99.6L296.3 101.0M298.8 103.7L299.6 104.2L300.4 104.5M302.9 103.9L303.7 103.1L304.5 101.8M307.0 95.0L307.8 92.0L308.6 88.9M311.1 78.3L311.9 75.2L312.7 72.2M315.2 63.3L316.0 60.8L316.8 58.7M319.3 54.8L320.1 54.3L320.9 54.0M323.4 54.5L324.2 55.3L325.0 55.9M327.5 55.9L328.3 55.5L329.1 55.1M331.6 54.3L332.4 54.5L333.2 54.8M335.7 57.2L336.5 58.6L337.3 60.5M339.8 69.6L340.6 72.5L341.4 75.4M343.9 85.2L344.7 88.6L345.5 92.3M348.0 104.1L348.8 107.4L349.6 110.2M352.1 116.5L352.9 118.1L353.7 119.4M356.2 122.4L357.0 122.5L357.8 122.5M360.3 121.7L361.1 121.3L361.9 120.9M364.4 119.5L365.2 119.0L366.0 118.6M368.5 116.9L369.3 116.3L370.1 115.7M372.6 114.2L373.4 113.9L374.2 113.5M376.7 112.7L377.5 112.5L378.3 112.4M380.8 112.5L381.6 112.7L382.4 113.0M384.9 114.1L385.7 114.6L386.5 115.1M389.0 116.8L389.8 117.5L390.6 118.2M393.1 120.9L393.9 121.8L394.7 122.8M397.2 125.7L398.0 126.6L398.8 127.6M401.3 130.6L402.1 131.5L402.9 132.2M405.4 134.1L406.2 134.6L407.0 135.0M409.5 136.4L410.3 136.9L411.1 137.3M413.6 137.9L414.4 138.0L415.2 138.1M417.7 138.3L418.5 138.3L419.3 138.3M421.8 138.4L422.6 138.4L423.4 138.4M425.9 138.4L426.7 138.4L427.5 138.4M430.0 138.5L430.8 138.5L431.6 138.5M434.1 138.5L434.9 138.5L435.7 138.5M438.2 138.5L438.8 138.5L439.4 138.5" stroke="#777" stroke-width="0.8"/>
<path d="M270.5 32.5L271.5 35.5L272.5 38.6L273.5 41.9L274.5 45.9L275.5 46.9L276.5 44.8L277.5 42.1L278.5 40.1L279.5 38.5L280.5 37.3L281.5 37.1L282.5 37.3L283.5 38.0L284.5 39.1L285.5 41.2L286.5 44.9L287.5 50.4L288.5 58.1L289.5 66.8L290.5 74.9L291.5 81.3L292.5 86.6L293.5 91.3L294.5 94.9L295.5 97.8L296.5 100.0L297.5 101.5L298.5 102.6L299.5 103.5L300.5 104.2L301.5 104.4L302.5 104.3L303.5 103.8L304.5 103.1L305.5 102.0L306.5 100.5L307.5 98.5L308.5 95.6L309.5 91.6L310.5 86.8L311.5 81.8L312.5 77.1L313.5 73.1L314.5 69.5L315.5 66.1L316.5 63.2L317.5 60.8L318.5 59.1L319.5 57.9L320.5 57.2L321.5 56.9L322.5 56.9L323.5 57.4L324.5 58.4L325.5 59.5L326.5 60.6L327.5 61.3L328.5 61.5L329.5 61.5L330.5 61.6L331.5 61.6L332.5 61.6L333.5 61.9L334.5 62.6L335.5 63.7L336.5 65.5L337.5 68.0L338.5 71.1L339.5 74.5L340.5 78.2L341.5 82.1L342.5 86.2L343.5 90.9L344.5 96.0L345.5 101.3L346.5 106.1L347.5 110.3L348.5 114.0L349.5 117.4L350.5 120.4L351.5 123.0L352.5 125.2L353.5 127.2L354.5 128.9L355.5 130.4L356.5 131.7L357.5 132.9L358.5 133.9L359.5 134.8L360.5 135.4L361.5 135.9L362.5 136.2L363.5 136.4L364.5 136.7L365.5 136.8L366.5 136.9L367.5 137.0L368.5 137.1L369.5 137.1L370.5 137.1L371.5 137.2L372.5 137.2L373.5 137.2L374.5 137.3L375.5 137.3L376.5 137.3L377.5 137.4L378.5 137.4L379.5 137.4L380.5 137.5L381.5 137.5L382.5 137.5L383.5 137.5L384.5 137.5L385.5 137.6L386.5 137.6L387.5 137.6L388.5 137.6L389.5 137.6L390.5 137.6L391.5 137.7L392.5 137.7L393.5 137.7L394.5 137.7L395.5 137.7L396.5 137.7L397.5 137.8L398.5 137.8L399.5 137.8L400.5 137.8L401.5 137.8L402.5 137.9L403.5 137.9L404.5 137.9L405.5 137.9L406.5 137.9L407.5 138.0L408.5 138.0L409.5 138.0L410.5 138.0L411.5 138.0L412.5 138.1L413.5 138.1L414.5 138.1L415.5 138.1L416.5 138.1L417.5 138.1L418.5 138.2L419.5 138.2L420.5 138.2L421.5 138.2L422.5 138.2L423.5 138.2L424.5 138.3L425.5 138.3L426.5 138.3L427.5 138.3L428.5 138.3L429.5 138.3L430.5 138.4L431.5 138.4L432.5 138.4L433.5 138.4L434.5 138.4L435.5 138.4L436.5 138.5L437.5 138.5L438.5 138.5L439.4 138.5" stroke="#111" stroke-width="1.3"/>
<path d="M270.5 45.5L271.5 48.5L272.5 52.0L273.5 57.2L274.5 62.2L275.5 64.1L276.5 61.2L277.5 56.7L278.5 53.9L279.5 52.1L280.5 50.6L281.5 49.5L282.5 49.0L283.5 49.4L284.5 50.7L285.5 52.9L286.5 55.9L287.5 60.0L288.5 66.6L289.5 74.1L290.5 81.2L291.5 87.0L292.5 91.8L293.5 95.2L294.5 97.7L295.5 99.8L296.5 101.5L297.5 102.7L298.5 103.6L299.5 104.2L300.5 104.6L301.5 104.6L302.5 104.2L303.5 103.3L304.5 101.7L305.5 99.2L306.5 96.2L307.5 92.6L308.5 88.5L309.5 84.3L310.5 80.1L311.5 76.1L312.5 72.4L313.5 68.7L314.5 65.1L315.5 61.8L316.5 58.9L317.5 56.7L318.5 55.2L319.5 54.2L320.5 53.7L321.5 53.5L322.5 53.5L323.5 54.2L324.5 55.2L325.5 55.7L326.5 55.7L327.5 55.2L328.5 54.7L329.5 54.1L330.5 53.6L331.5 53.4L332.5 53.6L333.5 54.1L334.5 54.9L335.5 56.0L336.5 57.7L337.5 60.3L338.5 63.8L339.5 67.7L340.5 71.4L341.5 75.0L342.5 78.8L343.5 82.7L344.5 86.7L345.5 91.2L346.5 96.0L347.5 100.8L348.5 105.2L349.5 108.9L350.5 111.9L351.5 114.3L352.5 116.3L353.5 118.1L354.5 119.7L355.5 121.0L356.5 121.3L357.5 121.2L358.5 120.9L359.5 120.4L360.5 119.8L361.5 119.2L362.5 118.6L363.5 118.0L364.5 117.3L365.5 116.6L366.5 115.9L367.5 115.2L368.5 114.4L369.5 113.5L370.5 112.7L371.5 112.0L372.5 111.4L373.5 110.9L374.5 110.4L375.5 110.0L376.5 109.6L377.5 109.4L378.5 109.2L379.5 109.2L380.5 109.3L381.5 109.6L382.5 110.0L383.5 110.4L384.5 111.0L385.5 111.6L386.5 112.2L387.5 113.0L388.5 113.8L389.5 114.7L390.5 115.7L391.5 116.8L392.5 118.0L393.5 119.3L394.5 120.6L395.5 121.9L396.5 123.2L397.5 124.5L398.5 125.9L399.5 127.3L400.5 128.7L401.5 130.0L402.5 131.1L403.5 132.1L404.5 132.9L405.5 133.7L406.5 134.3L407.5 135.0L408.5 135.5L409.5 136.2L410.5 136.9L411.5 137.4L412.5 137.7L413.5 137.9L414.5 138.0L415.5 138.1L416.5 138.2L417.5 138.3L418.5 138.3L419.5 138.3L420.5 138.4L421.5 138.4L422.5 138.4L423.5 138.4L424.5 138.4L425.5 138.4L426.5 138.5L427.5 138.5L428.5 138.5L429.5 138.5L430.5 138.5L431.5 138.5L432.5 138.5L433.5 138.5L434.5 138.5L435.5 138.5L436.5 138.5L437.5 138.5L438.5 138.5L439.4 138.5" stroke="#d0f7f9" stroke-width="2.35"/>
<path d="M270.5 45.5L271.5 48.5L272.5 52.0L273.5 57.2L274.5 62.2L275.5 64.1L276.5 61.2L277.5 56.7L278.5 53.9L279.5 52.1L280.5 50.6L281.5 49.5L282.5 49.0L283.5 49.4L284.5 50.7L285.5 52.9L286.5 55.9L287.5 60.0L288.5 66.6L289.5 74.1L290.5 81.2L291.5 87.0L292.5 91.8L293.5 95.2L294.5 97.7L295.5 99.8L296.5 101.5L297.5 102.7L298.5 103.6L299.5 104.2L300.5 104.6L301.5 104.6L302.5 104.2L303.5 103.3L304.5 101.7L305.5 99.2L306.5 96.2L307.5 92.6L308.5 88.5L309.5 84.3L310.5 80.1L311.5 76.1L312.5 72.4L313.5 68.7L314.5 65.1L315.5 61.8L316.5 58.9L317.5 56.7L318.5 55.2L319.5 54.2L320.5 53.7L321.5 53.5L322.5 53.5L323.5 54.2L324.5 55.2L325.5 55.7L326.5 55.7L327.5 55.2L328.5 54.7L329.5 54.1L330.5 53.6L331.5 53.4L332.5 53.6L333.5 54.1L334.5 54.9L335.5 56.0L336.5 57.7L337.5 60.3L338.5 63.8L339.5 67.7L340.5 71.4L341.5 75.0L342.5 78.8L343.5 82.7L344.5 86.7L345.5 91.2L346.5 96.0L347.5 100.8L348.5 105.2L349.5 108.9L350.5 111.9L351.5 114.3L352.5 116.3L353.5 118.1L354.5 119.7L355.5 121.0L356.5 121.3L357.5 121.2L358.5 120.9L359.5 120.4L360.5 119.8L361.5 119.2L362.5 118.6L363.5 118.0L364.5 117.3L365.5 116.6L366.5 115.9L367.5 115.2L368.5 114.4L369.5 113.5L370.5 112.7L371.5 112.0L372.5 111.4L373.5 110.9L374.5 110.4L375.5 110.0L376.5 109.6L377.5 109.4L378.5 109.2L379.5 109.2L380.5 109.3L381.5 109.6L382.5 110.0L383.5 110.4L384.5 111.0L385.5 111.6L386.5 112.2L387.5 113.0L388.5 113.8L389.5 114.7L390.5 115.7L391.5 116.8L392.5 118.0L393.5 119.3L394.5 120.6L395.5 121.9L396.5 123.2L397.5 124.5L398.5 125.9L399.5 127.3L400.5 128.7L401.5 130.0L402.5 131.1L403.5 132.1L404.5 132.9L405.5 133.7L406.5 134.3L407.5 135.0L408.5 135.5L409.5 136.2L410.5 136.9L411.5 137.4L412.5 137.7L413.5 137.9L414.5 138.0L415.5 138.1L416.5 138.2L417.5 138.3L418.5 138.3L419.5 138.3L420.5 138.4L421.5 138.4L422.5 138.4L423.5 138.4L424.5 138.4L425.5 138.4L426.5 138.5L427.5 138.5L428.5 138.5L429.5 138.5L430.5 138.5L431.5 138.5L432.5 138.5L433.5 138.5L434.5 138.5L435.5 138.5L436.5 138.5L437.5 138.5L438.5 138.5L439.4 138.5" stroke="#3ccfd6" stroke-width="1.35"/>
</g>
<g clip-path="url(#cc)" fill="none">
<path d="M502.8 50.0L503.6 51.5L504.4 52.5M506.9 50.2L507.7 48.1L508.5 45.7M511.1 39.7L511.9 39.3L512.7 40.4M515.2 50.3L516.0 52.6L516.8 53.5M519.4 51.6L520.2 50.4L521.0 49.1M523.5 44.7L524.3 43.6L525.1 42.9M527.7 47.9L528.5 53.1L529.3 61.3M531.8 83.3L532.6 85.7L533.4 87.3M536.0 88.5L536.8 87.9L537.6 87.0M540.1 83.4L540.9 82.3L541.7 81.3M544.3 79.0L545.1 78.5L545.9 77.9M548.4 76.7L549.2 76.5L550.0 76.4M552.6 77.5L553.4 78.3L554.2 79.3M556.7 83.8L557.5 85.5L558.3 87.0M560.9 90.4L561.7 91.1L562.5 91.6M565.0 93.0L565.8 93.4L566.6 94.0M569.2 96.0L570.0 96.7L570.8 97.4M573.3 100.7L574.1 102.0L574.9 103.6M577.5 109.6L578.3 111.7L579.1 114.2M581.6 122.7L582.4 124.4L583.2 125.9M585.8 129.7L586.6 130.7L587.4 131.6M589.9 134.2L590.7 135.0L591.5 135.4M594.1 135.7L594.9 135.8L595.7 135.9M598.2 136.0L599.0 136.1L599.8 136.1M602.4 136.2L603.2 136.2L604.0 136.2M606.5 136.3L607.3 136.3L608.1 136.3M610.7 136.3L611.5 136.3L612.3 136.3M614.8 136.4L615.6 136.4L616.4 136.4M619.0 136.4L619.8 136.4L620.6 136.4M623.1 136.5L623.9 136.5L624.7 136.5M627.3 136.6L628.1 136.6L628.9 136.6M631.4 136.7L632.2 136.8L633.0 136.8M635.6 136.9L636.4 136.9L637.2 137.0M639.7 137.1L640.5 137.1L641.3 137.1M643.9 137.2L644.7 137.3L645.5 137.3M648.0 137.4L648.8 137.4L649.6 137.5M652.2 137.6L653.0 137.6L653.8 137.7M656.3 137.8L657.1 137.8L657.9 137.8M660.5 137.9L661.3 138.0L662.1 138.0M664.6 138.1L665.4 138.1L666.2 138.2M668.8 138.2L669.6 138.3L670.4 138.3" stroke="#777" stroke-width="0.8"/>
<path d="M502.8 50.3L503.6 51.8L504.4 52.7M506.9 50.5L507.7 48.4L508.5 46.0M511.1 40.1L511.9 39.7L512.7 40.8M515.2 50.9L516.0 53.1L516.8 54.1M519.4 52.1L520.2 50.9L521.0 49.5M523.5 45.2L524.3 44.0L525.1 43.2M527.7 48.2L528.5 53.3L529.3 61.3M531.8 83.3L532.6 85.7L533.4 87.3M536.0 88.5L536.8 87.9L537.6 87.0M540.1 83.4L540.9 82.3L541.7 81.3M544.3 79.0L545.1 78.5L545.9 77.9M548.4 76.7L549.2 76.5L550.0 76.4M552.6 77.5L553.4 78.3L554.2 79.3M556.7 83.7L557.5 85.3L558.3 86.8M560.9 90.2L561.7 90.8L562.5 91.3M565.0 92.7L565.8 93.2L566.6 93.7M569.2 95.8L570.0 96.5L570.8 97.2M573.3 100.5L574.1 101.9L574.9 103.5M577.5 109.5L578.3 111.7L579.1 114.2M581.6 122.7L582.4 124.4L583.2 125.9M585.8 129.7L586.6 130.7L587.4 131.6M589.9 134.2L590.7 134.9L591.5 135.3M594.1 135.7L594.9 135.7L595.7 135.8M598.2 135.9L599.0 135.9L599.8 135.9M602.4 136.0L603.2 136.0L604.0 136.0M606.5 135.9L607.3 135.9L608.1 135.9M610.7 135.9L611.5 135.9L612.3 135.9M614.8 135.9L615.6 135.9L616.4 135.9M619.0 135.9L619.8 135.9L620.6 135.9M623.1 135.9L623.9 135.9L624.7 135.9M627.3 136.0L628.1 136.1L628.9 136.1M631.4 136.2L632.2 136.3L633.0 136.3M635.6 136.5L636.4 136.5L637.2 136.6M639.7 136.7L640.5 136.8L641.3 136.8M643.9 137.0L644.7 137.0L645.5 137.1M648.0 137.3L648.8 137.3L649.6 137.4M652.2 137.5L653.0 137.6L653.8 137.6M656.3 137.8L657.1 137.8L657.9 137.8M660.5 137.9L661.3 137.9L662.1 138.0M664.6 138.0L665.4 138.1L666.2 138.1M668.8 138.2L669.6 138.2L670.4 138.2" stroke="#777" stroke-width="0.8"/>
<path d="M502.8 50.6L503.6 52.0L504.4 53.0M506.9 50.8L507.7 48.6L508.5 46.3M511.1 40.4L511.9 40.1L512.7 41.2M515.2 51.4L516.0 53.7L516.8 54.7M519.4 52.6L520.2 51.4L521.0 50.0M523.5 45.6L524.3 44.3L525.1 43.6M527.7 48.4L528.5 53.4L529.3 61.4M531.8 83.3L532.6 85.7L533.4 87.3M536.0 88.5L536.8 87.9L537.6 87.0M540.1 83.4L540.9 82.3L541.7 81.3M544.3 79.0L545.1 78.5L545.9 77.9M548.4 76.7L549.2 76.5L550.0 76.4M552.6 77.5L553.4 78.3L554.2 79.3M556.7 83.6L557.5 85.1L558.3 86.6M560.9 89.9L561.7 90.5L562.5 91.0M565.0 92.4L565.8 92.9L566.6 93.4M569.2 95.5L570.0 96.2L570.8 97.0M573.3 100.4L574.1 101.8L574.9 103.4M577.5 109.5L578.3 111.7L579.1 114.2M581.6 122.7L582.4 124.4L583.2 125.9M585.8 129.6L586.6 130.6L587.4 131.6M589.9 134.1L590.7 134.8L591.5 135.2M594.1 135.6L594.9 135.6L595.7 135.7M598.2 135.8L599.0 135.8L599.8 135.8M602.4 135.7L603.2 135.7L604.0 135.7M606.5 135.6L607.3 135.6L608.1 135.6M610.7 135.5L611.5 135.5L612.3 135.5M614.8 135.4L615.6 135.4L616.4 135.4M619.0 135.3L619.8 135.3L620.6 135.3M623.1 135.3L623.9 135.3L624.7 135.3M627.3 135.4L628.1 135.5L628.9 135.5M631.4 135.7L632.2 135.8L633.0 135.9M635.6 136.1L636.4 136.1L637.2 136.2M639.7 136.4L640.5 136.5L641.3 136.6M643.9 136.8L644.7 136.8L645.5 136.9M648.0 137.1L648.8 137.2L649.6 137.3M652.2 137.5L653.0 137.5L653.8 137.6M656.3 137.7L657.1 137.8L657.9 137.8M660.5 137.9L661.3 137.9L662.1 137.9M664.6 138.0L665.4 138.0L666.2 138.0M668.8 138.1L669.6 138.1L670.4 138.1" stroke="#777" stroke-width="0.8"/>
<path d="M502.8 50.9L503.6 52.3L504.4 53.2M506.9 51.0L507.7 48.9L508.5 46.6M511.1 40.8L511.9 40.5L512.7 41.7M515.2 52.0L516.0 54.3L516.8 55.2M519.4 53.2L520.2 51.9L521.0 50.5M523.5 46.0L524.3 44.7L525.1 43.9M527.7 48.7L528.5 53.6L529.3 61.4M531.8 83.3L532.6 85.7L533.4 87.3M536.0 88.5L536.8 87.9L537.6 87.0M540.1 83.4L540.9 82.3L541.7 81.3M544.3 79.0L545.1 78.5L545.9 77.9M548.4 76.7L549.2 76.5L550.0 76.4M552.6 77.5L553.4 78.4L554.2 79.3M556.7 83.5L557.5 85.0L558.3 86.4M560.9 89.6L561.7 90.2L562.5 90.7M565.0 92.1L565.8 92.6L566.6 93.2M569.2 95.3L570.0 96.0L570.8 96.8M573.3 100.2L574.1 101.7L574.9 103.3M577.5 109.5L578.3 111.7L579.1 114.2M581.6 122.7L582.4 124.4L583.2 125.9M585.8 129.6L586.6 130.6L587.4 131.5M589.9 134.0L590.7 134.7L591.5 135.1M594.1 135.5L594.9 135.6L595.7 135.6M598.2 135.6L599.0 135.6L599.8 135.6M602.4 135.5L603.2 135.5L604.0 135.4M606.5 135.3L607.3 135.3L608.1 135.2M610.7 135.2L611.5 135.1L612.3 135.1M614.8 134.9L615.6 134.9L616.4 134.9M619.0 134.7L619.8 134.7L620.6 134.7M623.1 134.7L623.9 134.7L624.7 134.7M627.3 134.8L628.1 134.9L628.9 135.0M631.4 135.2L632.2 135.3L633.0 135.4M635.6 135.7L636.4 135.7L637.2 135.8M639.7 136.1L640.5 136.2L641.3 136.3M643.9 136.5L644.7 136.6L645.5 136.7M648.0 137.0L648.8 137.1L649.6 137.2M652.2 137.4L653.0 137.5L653.8 137.5M656.3 137.7L657.1 137.7L657.9 137.8M660.5 137.9L661.3 137.9L662.1 137.9M664.6 138.0L665.4 138.0L666.2 138.0M668.8 138.0L669.6 138.1L670.4 138.1" stroke="#777" stroke-width="0.8"/>
<path d="M501.5 47.0L502.5 49.2L503.5 51.1L504.5 52.3L505.5 52.4L506.5 51.0L507.5 48.4L508.5 45.5L509.5 42.6L510.5 40.3L511.5 39.0L512.5 39.5L513.5 42.6L514.5 46.9L515.5 50.7L516.5 52.6L517.5 52.8L518.5 52.1L519.5 50.8L520.5 49.3L521.5 47.7L522.5 46.0L523.5 44.4L524.5 43.0L525.5 42.4L526.5 43.0L527.5 46.8L528.5 53.2L529.5 63.5L530.5 75.4L531.5 82.1L532.5 85.4L533.5 87.4L534.5 88.4L535.5 88.7L536.5 88.1L537.5 87.1L538.5 85.7L539.5 84.3L540.5 82.9L541.5 81.6L542.5 80.5L543.5 79.7L544.5 78.9L545.5 78.2L546.5 77.6L547.5 77.0L548.5 76.6L549.5 76.4L550.5 76.4L551.5 76.7L552.5 77.4L553.5 78.4L554.5 79.7L555.5 81.4L556.5 83.5L557.5 85.6L558.5 87.5L559.5 89.1L560.5 90.3L561.5 91.2L562.5 91.9L563.5 92.5L564.5 93.0L565.5 93.5L566.5 94.1L567.5 94.9L568.5 95.7L569.5 96.5L570.5 97.4L571.5 98.4L572.5 99.6L573.5 101.1L574.5 102.9L575.5 104.9L576.5 107.2L577.5 109.6L578.5 112.3L579.5 115.7L580.5 119.3L581.5 122.3L582.5 124.6L583.5 126.4L584.5 127.9L585.5 129.4L586.5 130.6L587.5 131.8L588.5 132.9L589.5 133.9L590.5 134.9L591.5 135.5L592.5 135.6L593.5 135.7L594.5 135.8L595.5 135.9L596.5 136.0L597.5 136.1L598.5 136.2L599.5 136.2L600.5 136.3L601.5 136.4L602.5 136.4L603.5 136.4L604.5 136.5L605.5 136.5L606.5 136.6L607.5 136.6L608.5 136.6L609.5 136.7L610.5 136.7L611.5 136.7L612.5 136.8L613.5 136.8L614.5 136.8L615.5 136.9L616.5 136.9L617.5 136.9L618.5 137.0L619.5 137.0L620.5 137.0L621.5 137.0L622.5 137.1L623.5 137.1L624.5 137.1L625.5 137.1L626.5 137.2L627.5 137.2L628.5 137.2L629.5 137.2L630.5 137.2L631.5 137.3L632.5 137.3L633.5 137.3L634.5 137.3L635.5 137.3L636.5 137.3L637.5 137.4L638.5 137.4L639.5 137.4L640.5 137.4L641.5 137.4L642.5 137.4L643.5 137.5L644.5 137.5L645.5 137.5L646.5 137.5L647.5 137.5L648.5 137.6L649.5 137.6L650.5 137.6L651.5 137.6L652.5 137.7L653.5 137.7L654.5 137.7L655.5 137.8L656.5 137.8L657.5 137.8L658.5 137.9L659.5 137.9L660.5 138.0L661.5 138.0L662.5 138.0L663.5 138.1L664.5 138.1L665.5 138.2L666.5 138.2L667.5 138.3L668.5 138.3L669.5 138.3L670.5 138.4" stroke="#111" stroke-width="1.5"/>
<path d="M501.5 48.6L502.5 50.7L503.5 52.5L504.5 53.5L505.5 53.6L506.5 52.2L507.5 49.8L508.5 47.0L509.5 44.3L510.5 42.1L511.5 41.0L512.5 41.6L513.5 45.0L514.5 49.5L515.5 53.5L516.5 55.5L517.5 55.7L518.5 54.9L519.5 53.5L520.5 51.9L521.5 50.1L522.5 48.2L523.5 46.4L524.5 44.9L525.5 44.2L526.5 44.6L527.5 48.1L528.5 53.9L529.5 63.5L530.5 75.3L531.5 82.1L532.5 85.4L533.5 87.4L534.5 88.4L535.5 88.7L536.5 88.1L537.5 87.1L538.5 85.7L539.5 84.3L540.5 82.9L541.5 81.6L542.5 80.5L543.5 79.7L544.5 78.9L545.5 78.2L546.5 77.6L547.5 77.0L548.5 76.6L549.5 76.4L550.5 76.4L551.5 76.8L552.5 77.5L553.5 78.5L554.5 79.7L555.5 81.2L556.5 83.0L557.5 84.8L558.5 86.5L559.5 87.9L560.5 89.0L561.5 89.8L562.5 90.5L563.5 91.0L564.5 91.6L565.5 92.1L566.5 92.8L567.5 93.6L568.5 94.5L569.5 95.3L570.5 96.3L571.5 97.4L572.5 98.8L573.5 100.4L574.5 102.3L575.5 104.5L576.5 107.0L577.5 109.6L578.5 112.3L579.5 115.8L580.5 119.4L581.5 122.3L582.5 124.6L583.5 126.3L584.5 127.8L585.5 129.2L586.5 130.5L587.5 131.6L588.5 132.6L589.5 133.6L590.5 134.4L591.5 135.0L592.5 135.3L593.5 135.4L594.5 135.5L595.5 135.5L596.5 135.5L597.5 135.5L598.5 135.5L599.5 135.5L600.5 135.4L601.5 135.4L602.5 135.3L603.5 135.2L604.5 135.2L605.5 135.1L606.5 135.0L607.5 134.9L608.5 134.9L609.5 134.8L610.5 134.8L611.5 134.7L612.5 134.6L613.5 134.6L614.5 134.5L615.5 134.4L616.5 134.3L617.5 134.3L618.5 134.2L619.5 134.2L620.5 134.1L621.5 134.1L622.5 134.1L623.5 134.1L624.5 134.1L625.5 134.1L626.5 134.2L627.5 134.3L628.5 134.4L629.5 134.5L630.5 134.6L631.5 134.7L632.5 134.8L633.5 135.0L634.5 135.1L635.5 135.2L636.5 135.4L637.5 135.5L638.5 135.6L639.5 135.8L640.5 135.9L641.5 136.0L642.5 136.1L643.5 136.2L644.5 136.4L645.5 136.5L646.5 136.7L647.5 136.8L648.5 136.9L649.5 137.0L650.5 137.2L651.5 137.3L652.5 137.4L653.5 137.5L654.5 137.6L655.5 137.6L656.5 137.7L657.5 137.7L658.5 137.8L659.5 137.8L660.5 137.8L661.5 137.9L662.5 137.9L663.5 137.9L664.5 137.9L665.5 137.9L666.5 137.9L667.5 138.0L668.5 138.0L669.5 138.0L670.5 138.0" stroke="#d0f7f9" stroke-width="2.1"/>
<path d="M501.5 48.6L502.5 50.7L503.5 52.5L504.5 53.5L505.5 53.6L506.5 52.2L507.5 49.8L508.5 47.0L509.5 44.3L510.5 42.1L511.5 41.0L512.5 41.6L513.5 45.0L514.5 49.5L515.5 53.5L516.5 55.5L517.5 55.7L518.5 54.9L519.5 53.5L520.5 51.9L521.5 50.1L522.5 48.2L523.5 46.4L524.5 44.9L525.5 44.2L526.5 44.6L527.5 48.1L528.5 53.9L529.5 63.5L530.5 75.3L531.5 82.1L532.5 85.4L533.5 87.4L534.5 88.4L535.5 88.7L536.5 88.1L537.5 87.1L538.5 85.7L539.5 84.3L540.5 82.9L541.5 81.6L542.5 80.5L543.5 79.7L544.5 78.9L545.5 78.2L546.5 77.6L547.5 77.0L548.5 76.6L549.5 76.4L550.5 76.4L551.5 76.8L552.5 77.5L553.5 78.5L554.5 79.7L555.5 81.2L556.5 83.0L557.5 84.8L558.5 86.5L559.5 87.9L560.5 89.0L561.5 89.8L562.5 90.5L563.5 91.0L564.5 91.6L565.5 92.1L566.5 92.8L567.5 93.6L568.5 94.5L569.5 95.3L570.5 96.3L571.5 97.4L572.5 98.8L573.5 100.4L574.5 102.3L575.5 104.5L576.5 107.0L577.5 109.6L578.5 112.3L579.5 115.8L580.5 119.4L581.5 122.3L582.5 124.6L583.5 126.3L584.5 127.8L585.5 129.2L586.5 130.5L587.5 131.6L588.5 132.6L589.5 133.6L590.5 134.4L591.5 135.0L592.5 135.3L593.5 135.4L594.5 135.5L595.5 135.5L596.5 135.5L597.5 135.5L598.5 135.5L599.5 135.5L600.5 135.4L601.5 135.4L602.5 135.3L603.5 135.2L604.5 135.2L605.5 135.1L606.5 135.0L607.5 134.9L608.5 134.9L609.5 134.8L610.5 134.8L611.5 134.7L612.5 134.6L613.5 134.6L614.5 134.5L615.5 134.4L616.5 134.3L617.5 134.3L618.5 134.2L619.5 134.2L620.5 134.1L621.5 134.1L622.5 134.1L623.5 134.1L624.5 134.1L625.5 134.1L626.5 134.2L627.5 134.3L628.5 134.4L629.5 134.5L630.5 134.6L631.5 134.7L632.5 134.8L633.5 135.0L634.5 135.1L635.5 135.2L636.5 135.4L637.5 135.5L638.5 135.6L639.5 135.8L640.5 135.9L641.5 136.0L642.5 136.1L643.5 136.2L644.5 136.4L645.5 136.5L646.5 136.7L647.5 136.8L648.5 136.9L649.5 137.0L650.5 137.2L651.5 137.3L652.5 137.4L653.5 137.5L654.5 137.6L655.5 137.6L656.5 137.7L657.5 137.7L658.5 137.8L659.5 137.8L660.5 137.8L661.5 137.9L662.5 137.9L663.5 137.9L664.5 137.9L665.5 137.9L666.5 137.9L667.5 138.0L668.5 138.0L669.5 138.0L670.5 138.0" stroke="#3ccfd6" stroke-width="1.1"/>
</g>
<rect x="39.50" y="178.00" width="170.00" height="126.50" fill="none" stroke="#1c1c1c" stroke-width="1.0"/>
<path d="M36.90 302.40L39.50 302.40" stroke="#1c1c1c" stroke-width="1.0"/>
<path d="M36.90 279.70L39.50 279.70" stroke="#1c1c1c" stroke-width="1.0"/>
<path d="M36.90 257.00L39.50 257.00" stroke="#1c1c1c" stroke-width="1.0"/>
<path d="M36.90 234.30L39.50 234.30" stroke="#1c1c1c" stroke-width="1.0"/>
<path d="M36.90 211.60L39.50 211.60" stroke="#1c1c1c" stroke-width="1.0"/>
<path d="M36.90 188.90L39.50 188.90" stroke="#1c1c1c" stroke-width="1.0"/>
<path d="M38.00 291.05L39.50 291.05" stroke="#1c1c1c" stroke-width="1.0"/>
<path d="M38.00 268.35L39.50 268.35" stroke="#1c1c1c" stroke-width="1.0"/>
<path d="M38.00 245.65L39.50 245.65" stroke="#1c1c1c" stroke-width="1.0"/>
<path d="M38.00 222.95L39.50 222.95" stroke="#1c1c1c" stroke-width="1.0"/>
<path d="M38.00 200.25L39.50 200.25" stroke="#1c1c1c" stroke-width="1.0"/>
<path d="M41.00 304.50L41.00 306.90" stroke="#1c1c1c" stroke-width="1.0"/>
<path d="M83.12 304.50L83.12 306.90" stroke="#1c1c1c" stroke-width="1.0"/>
<path d="M125.25 304.50L125.25 306.90" stroke="#1c1c1c" stroke-width="1.0"/>
<path d="M167.38 304.50L167.38 306.90" stroke="#1c1c1c" stroke-width="1.0"/>
<path d="M209.50 304.50L209.50 306.90" stroke="#1c1c1c" stroke-width="1.0"/>
<path d="M62.06 304.50L62.06 306.00" stroke="#1c1c1c" stroke-width="1.0"/>
<path d="M104.19 304.50L104.19 306.00" stroke="#1c1c1c" stroke-width="1.0"/>
<path d="M146.31 304.50L146.31 306.00" stroke="#1c1c1c" stroke-width="1.0"/>
<path d="M188.44 304.50L188.44 306.00" stroke="#1c1c1c" stroke-width="1.0"/>
<rect x="270.50" y="178.00" width="170.00" height="126.50" fill="none" stroke="#1c1c1c" stroke-width="1.0"/>
<path d="M267.90 302.30L270.50 302.30" stroke="#1c1c1c" stroke-width="1.0"/>
<path d="M267.90 279.82L270.50 279.82" stroke="#1c1c1c" stroke-width="1.0"/>
<path d="M267.90 257.34L270.50 257.34" stroke="#1c1c1c" stroke-width="1.0"/>
<path d="M267.90 234.86L270.50 234.86" stroke="#1c1c1c" stroke-width="1.0"/>
<path d="M267.90 212.38L270.50 212.38" stroke="#1c1c1c" stroke-width="1.0"/>
<path d="M267.90 189.90L270.50 189.90" stroke="#1c1c1c" stroke-width="1.0"/>
<path d="M269.00 291.06L270.50 291.06" stroke="#1c1c1c" stroke-width="1.0"/>
<path d="M269.00 268.58L270.50 268.58" stroke="#1c1c1c" stroke-width="1.0"/>
<path d="M269.00 246.10L270.50 246.10" stroke="#1c1c1c" stroke-width="1.0"/>
<path d="M269.00 223.62L270.50 223.62" stroke="#1c1c1c" stroke-width="1.0"/>
<path d="M269.00 201.14L270.50 201.14" stroke="#1c1c1c" stroke-width="1.0"/>
<path d="M278.85 304.50L278.85 306.90" stroke="#1c1c1c" stroke-width="1.0"/>
<path d="M319.40 304.50L319.40 306.90" stroke="#1c1c1c" stroke-width="1.0"/>
<path d="M359.95 304.50L359.95 306.90" stroke="#1c1c1c" stroke-width="1.0"/>
<path d="M400.50 304.50L400.50 306.90" stroke="#1c1c1c" stroke-width="1.0"/>
<path d="M441.05 304.50L441.05 306.90" stroke="#1c1c1c" stroke-width="1.0"/>
<path d="M299.12 304.50L299.12 306.00" stroke="#1c1c1c" stroke-width="1.0"/>
<path d="M339.68 304.50L339.68 306.00" stroke="#1c1c1c" stroke-width="1.0"/>
<path d="M380.23 304.50L380.23 306.00" stroke="#1c1c1c" stroke-width="1.0"/>
<path d="M420.78 304.50L420.78 306.00" stroke="#1c1c1c" stroke-width="1.0"/>
<rect x="502.50" y="178.00" width="169.00" height="122.50" fill="none" stroke="#1c1c1c" stroke-width="1.0"/>
<path d="M499.90 298.30L502.50 298.30" stroke="#1c1c1c" stroke-width="1.0"/>
<path d="M499.90 276.58L502.50 276.58" stroke="#1c1c1c" stroke-width="1.0"/>
<path d="M499.90 254.86L502.50 254.86" stroke="#1c1c1c" stroke-width="1.0"/>
<path d="M499.90 233.14L502.50 233.14" stroke="#1c1c1c" stroke-width="1.0"/>
<path d="M499.90 211.42L502.50 211.42" stroke="#1c1c1c" stroke-width="1.0"/>
<path d="M499.90 189.70L502.50 189.70" stroke="#1c1c1c" stroke-width="1.0"/>
<path d="M501.00 287.44L502.50 287.44" stroke="#1c1c1c" stroke-width="1.0"/>
<path d="M501.00 265.72L502.50 265.72" stroke="#1c1c1c" stroke-width="1.0"/>
<path d="M501.00 244.00L502.50 244.00" stroke="#1c1c1c" stroke-width="1.0"/>
<path d="M501.00 222.28L502.50 222.28" stroke="#1c1c1c" stroke-width="1.0"/>
<path d="M501.00 200.56L502.50 200.56" stroke="#1c1c1c" stroke-width="1.0"/>
<path d="M502.55 300.50L502.55 302.90" stroke="#1c1c1c" stroke-width="1.0"/>
<path d="M544.60 300.50L544.60 302.90" stroke="#1c1c1c" stroke-width="1.0"/>
<path d="M586.65 300.50L586.65 302.90" stroke="#1c1c1c" stroke-width="1.0"/>
<path d="M628.70 300.50L628.70 302.90" stroke="#1c1c1c" stroke-width="1.0"/>
<path d="M670.75 300.50L670.75 302.90" stroke="#1c1c1c" stroke-width="1.0"/>
<path d="M523.58 300.50L523.58 302.00" stroke="#1c1c1c" stroke-width="1.0"/>
<path d="M565.62 300.50L565.62 302.00" stroke="#1c1c1c" stroke-width="1.0"/>
<path d="M607.67 300.50L607.67 302.00" stroke="#1c1c1c" stroke-width="1.0"/>
<path d="M649.73 300.50L649.73 302.00" stroke="#1c1c1c" stroke-width="1.0"/>
<g clip-path="url(#cd)" fill="none">
<path d="M39.5 295.9L40.5 296.0L41.5 296.2L42.5 296.3L43.5 296.4L44.5 296.5L45.5 296.5L46.5 296.6L47.5 296.6L48.5 296.6L49.5 296.6L50.5 296.5L51.5 296.5L52.5 296.4L53.5 296.4L54.5 296.3L55.5 296.2L56.5 296.1L57.5 295.9L58.5 295.8L59.5 295.6L60.5 295.4L61.5 295.3L62.5 295.1L63.5 294.8L64.5 294.6L65.5 294.4L66.5 294.1L67.5 293.8L68.5 293.6L69.5 293.3L70.5 293.0L71.5 292.6L72.5 292.3L73.5 291.9L74.5 291.6L75.5 291.2L76.5 290.8L77.5 290.4L78.5 290.0L79.5 289.5L80.5 289.1L81.5 288.6L82.5 288.1L83.5 287.7L84.5 287.2L85.5 286.8L86.5 286.4L87.5 286.1L88.5 285.7L89.5 285.3L90.5 285.0L91.5 284.7L92.5 284.4L93.5 284.1L94.5 283.8L95.5 283.6L96.5 283.4L97.5 283.3L98.5 283.1L99.5 283.1L100.5 283.0L101.5 283.0L102.5 283.0L103.5 283.1L104.5 283.1L105.5 283.3L106.5 283.4L107.5 283.5L108.5 283.7L109.5 283.9L110.5 284.1L111.5 284.3L112.5 284.6L113.5 284.8L114.5 285.1L115.5 285.3L116.5 285.6L117.5 285.9L118.5 286.1L119.5 286.4L120.5 286.7L121.5 287.0L122.5 287.3L123.5 287.5L124.5 287.8L125.5 288.1L126.5 288.4L127.5 288.7L128.5 289.0L129.5 289.3L130.5 289.6L131.5 289.9L132.5 290.2L133.5 290.5L134.5 290.8L135.5 291.1L136.5 291.4L137.5 291.7L138.5 291.9L139.5 292.2L140.5 292.5L141.5 292.7L142.5 293.0L143.5 293.3L144.5 293.5L145.5 293.8L146.5 294.0L147.5 294.3L148.5 294.5L149.5 294.8L150.5 295.0L151.5 295.2L152.5 295.4L153.5 295.6L154.5 295.8L155.5 296.0L156.5 296.2L157.5 296.4L158.5 296.6L159.5 296.7L160.5 296.9L161.5 297.1L162.5 297.2L163.5 297.3L164.5 297.5L165.5 297.6L166.5 297.7L167.5 297.8L168.5 297.9L169.5 298.0L170.5 298.1L171.5 298.2L172.5 298.3L173.5 298.4L174.5 298.5L175.5 298.6L176.5 298.6L177.5 298.7L178.5 298.8L179.5 298.9L180.5 298.9L181.5 299.0L182.5 299.1L183.5 299.2L184.5 299.2L185.5 299.3L186.5 299.4L187.5 299.4L188.5 299.5L189.5 299.5L190.5 299.6L191.5 299.7L192.5 299.7L193.5 299.8L194.5 299.8L195.5 299.9L196.5 299.9L197.5 300.0L198.5 300.0L199.5 300.1L200.5 300.1L201.5 300.2L202.5 300.2L203.5 300.3L204.5 300.3L205.5 300.4L206.5 300.4L207.5 300.5L208.5 300.5L209.5 300.6" stroke="#707070" stroke-width="0.9" stroke-dasharray="1.5,2.8"/>
<path d="M39.5 295.8L40.5 295.9L41.5 296.0L42.5 296.1L43.5 296.1L44.5 296.2L45.5 296.2L46.5 296.2L47.5 296.1L48.5 296.0L49.5 295.9L50.5 295.8L51.5 295.7L52.5 295.5L53.5 295.4L54.5 295.2L55.5 295.0L56.5 294.7L57.5 294.5L58.5 294.2L59.5 293.9L60.5 293.6L61.5 293.3L62.5 292.9L63.5 292.5L64.5 292.1L65.5 291.7L66.5 291.2L67.5 290.8L68.5 290.3L69.5 289.8L70.5 289.2L71.5 288.7L72.5 288.1L73.5 287.5L74.5 286.9L75.5 286.3L76.5 285.6L77.5 285.0L78.5 284.3L79.5 283.6L80.5 282.9L81.5 282.1L82.5 281.4L83.5 280.7L84.5 280.0L85.5 279.4L86.5 278.7L87.5 278.2L88.5 277.6L89.5 277.0L90.5 276.5L91.5 276.0L92.5 275.5L93.5 275.1L94.5 274.7L95.5 274.3L96.5 274.0L97.5 273.7L98.5 273.5L99.5 273.4L100.5 273.3L101.5 273.2L102.5 273.2L103.5 273.3L104.5 273.4L105.5 273.5L106.5 273.7L107.5 273.9L108.5 274.1L109.5 274.4L110.5 274.7L111.5 275.0L112.5 275.3L113.5 275.7L114.5 276.1L115.5 276.5L116.5 276.9L117.5 277.3L118.5 277.7L119.5 278.2L120.5 278.6L121.5 279.1L122.5 279.5L123.5 280.0L124.5 280.5L125.5 281.0L126.5 281.5L127.5 282.0L128.5 282.5L129.5 283.0L130.5 283.5L131.5 284.0L132.5 284.5L133.5 285.0L134.5 285.5L135.5 286.0L136.5 286.4L137.5 286.9L138.5 287.4L139.5 287.8L140.5 288.2L141.5 288.7L142.5 289.1L143.5 289.5L144.5 289.9L145.5 290.3L146.5 290.7L147.5 291.0L148.5 291.4L149.5 291.8L150.5 292.1L151.5 292.4L152.5 292.7L153.5 293.0L154.5 293.3L155.5 293.6L156.5 293.9L157.5 294.1L158.5 294.4L159.5 294.6L160.5 294.9L161.5 295.1L162.5 295.3L163.5 295.5L164.5 295.7L165.5 295.8L166.5 296.0L167.5 296.2L168.5 296.3L169.5 296.5L170.5 296.6L171.5 296.8L172.5 296.9L173.5 297.0L174.5 297.1L175.5 297.3L176.5 297.4L177.5 297.5L178.5 297.6L179.5 297.7L180.5 297.8L181.5 297.9L182.5 298.1L183.5 298.2L184.5 298.3L185.5 298.4L186.5 298.5L187.5 298.6L188.5 298.6L189.5 298.7L190.5 298.8L191.5 298.9L192.5 299.0L193.5 299.1L194.5 299.2L195.5 299.3L196.5 299.3L197.5 299.4L198.5 299.5L199.5 299.6L200.5 299.6L201.5 299.7L202.5 299.8L203.5 299.9L204.5 299.9L205.5 300.0L206.5 300.1L207.5 300.2L208.5 300.2L209.5 300.3" stroke="#707070" stroke-width="0.9" stroke-dasharray="1.5,2.8"/>
<path d="M39.5 295.8L40.5 295.8L41.5 295.9L42.5 295.9L43.5 295.9L44.5 295.9L45.5 295.9L46.5 295.8L47.5 295.7L48.5 295.5L49.5 295.4L50.5 295.2L51.5 295.0L52.5 294.8L53.5 294.5L54.5 294.2L55.5 293.9L56.5 293.6L57.5 293.3L58.5 292.9L59.5 292.5L60.5 292.0L61.5 291.6L62.5 291.1L63.5 290.5L64.5 290.0L65.5 289.4L66.5 288.8L67.5 288.1L68.5 287.5L69.5 286.8L70.5 286.0L71.5 285.3L72.5 284.5L73.5 283.7L74.5 282.9L75.5 282.0L76.5 281.1L77.5 280.3L78.5 279.3L79.5 278.4L80.5 277.5L81.5 276.6L82.5 275.6L83.5 274.7L84.5 273.8L85.5 273.0L86.5 272.1L87.5 271.3L88.5 270.6L89.5 269.8L90.5 269.1L91.5 268.5L92.5 267.8L93.5 267.3L94.5 266.7L95.5 266.3L96.5 265.9L97.5 265.5L98.5 265.2L99.5 265.0L100.5 264.9L101.5 264.8L102.5 264.8L103.5 264.8L104.5 265.0L105.5 265.1L106.5 265.3L107.5 265.6L108.5 265.9L109.5 266.2L110.5 266.5L111.5 266.9L112.5 267.4L113.5 267.8L114.5 268.3L115.5 268.8L116.5 269.3L117.5 269.9L118.5 270.5L119.5 271.0L120.5 271.6L121.5 272.3L122.5 272.9L123.5 273.5L124.5 274.2L125.5 274.8L126.5 275.5L127.5 276.2L128.5 276.8L129.5 277.5L130.5 278.2L131.5 278.9L132.5 279.6L133.5 280.2L134.5 280.9L135.5 281.5L136.5 282.2L137.5 282.8L138.5 283.4L139.5 284.0L140.5 284.6L141.5 285.2L142.5 285.7L143.5 286.3L144.5 286.8L145.5 287.3L146.5 287.8L147.5 288.3L148.5 288.7L149.5 289.2L150.5 289.6L151.5 290.0L152.5 290.4L153.5 290.8L154.5 291.2L155.5 291.5L156.5 291.9L157.5 292.2L158.5 292.5L159.5 292.8L160.5 293.1L161.5 293.4L162.5 293.6L163.5 293.9L164.5 294.1L165.5 294.3L166.5 294.5L167.5 294.7L168.5 294.9L169.5 295.1L170.5 295.3L171.5 295.5L172.5 295.7L173.5 295.8L174.5 296.0L175.5 296.1L176.5 296.3L177.5 296.5L178.5 296.6L179.5 296.7L180.5 296.9L181.5 297.0L182.5 297.2L183.5 297.3L184.5 297.4L185.5 297.6L186.5 297.7L187.5 297.8L188.5 297.9L189.5 298.0L190.5 298.2L191.5 298.3L192.5 298.4L193.5 298.5L194.5 298.6L195.5 298.7L196.5 298.8L197.5 298.9L198.5 299.0L199.5 299.1L200.5 299.2L201.5 299.3L202.5 299.4L203.5 299.5L204.5 299.6L205.5 299.7L206.5 299.8L207.5 299.9L208.5 300.0L209.5 300.1" stroke="#707070" stroke-width="0.9" stroke-dasharray="1.5,2.8"/>
<path d="M39.5 295.7L40.5 295.8L41.5 295.8L42.5 295.8L43.5 295.8L44.5 295.7L45.5 295.7L46.5 295.5L47.5 295.4L48.5 295.2L49.5 295.0L50.5 294.8L51.5 294.6L52.5 294.3L53.5 294.0L54.5 293.6L55.5 293.3L56.5 292.9L57.5 292.4L58.5 292.0L59.5 291.5L60.5 291.0L61.5 290.4L62.5 289.8L63.5 289.2L64.5 288.5L65.5 287.9L66.5 287.1L67.5 286.4L68.5 285.6L69.5 284.8L70.5 283.9L71.5 283.0L72.5 282.1L73.5 281.1L74.5 280.2L75.5 279.2L76.5 278.1L77.5 277.1L78.5 276.1L79.5 275.0L80.5 273.9L81.5 272.8L82.5 271.8L83.5 270.7L84.5 269.7L85.5 268.7L86.5 267.7L87.5 266.8L88.5 265.9L89.5 265.1L90.5 264.2L91.5 263.5L92.5 262.8L93.5 262.1L94.5 261.5L95.5 260.9L96.5 260.4L97.5 260.0L98.5 259.7L99.5 259.5L100.5 259.3L101.5 259.2L102.5 259.2L103.5 259.2L104.5 259.3L105.5 259.5L106.5 259.7L107.5 260.0L108.5 260.4L109.5 260.7L110.5 261.1L111.5 261.6L112.5 262.1L113.5 262.6L114.5 263.1L115.5 263.7L116.5 264.3L117.5 265.0L118.5 265.6L119.5 266.3L120.5 267.0L121.5 267.7L122.5 268.5L123.5 269.2L124.5 270.0L125.5 270.7L126.5 271.5L127.5 272.3L128.5 273.1L129.5 273.9L130.5 274.7L131.5 275.5L132.5 276.3L133.5 277.1L134.5 277.8L135.5 278.6L136.5 279.3L137.5 280.1L138.5 280.8L139.5 281.5L140.5 282.2L141.5 282.8L142.5 283.5L143.5 284.1L144.5 284.7L145.5 285.3L146.5 285.9L147.5 286.4L148.5 286.9L149.5 287.5L150.5 287.9L151.5 288.4L152.5 288.9L153.5 289.3L154.5 289.7L155.5 290.1L156.5 290.5L157.5 290.9L158.5 291.2L159.5 291.6L160.5 291.9L161.5 292.2L162.5 292.5L163.5 292.8L164.5 293.1L165.5 293.3L166.5 293.6L167.5 293.8L168.5 294.0L169.5 294.2L170.5 294.5L171.5 294.7L172.5 294.8L173.5 295.0L174.5 295.2L175.5 295.4L176.5 295.6L177.5 295.8L178.5 295.9L179.5 296.1L180.5 296.2L181.5 296.4L182.5 296.6L183.5 296.7L184.5 296.9L185.5 297.0L186.5 297.2L187.5 297.3L188.5 297.4L189.5 297.6L190.5 297.7L191.5 297.9L192.5 298.0L193.5 298.1L194.5 298.2L195.5 298.4L196.5 298.5L197.5 298.6L198.5 298.7L199.5 298.8L200.5 299.0L201.5 299.1L202.5 299.2L203.5 299.3L204.5 299.4L205.5 299.5L206.5 299.6L207.5 299.8L208.5 299.9L209.5 300.0" stroke="#707070" stroke-width="0.9" stroke-dasharray="1.5,2.8"/>
<path d="M39.5 295.6L40.5 295.7L41.5 295.7L42.5 295.6L43.5 295.6L44.5 295.5L45.5 295.4L46.5 295.2L47.5 295.0L48.5 294.8L49.5 294.5L50.5 294.2L51.5 293.9L52.5 293.6L53.5 293.2L54.5 292.8L55.5 292.3L56.5 291.8L57.5 291.3L58.5 290.7L59.5 290.1L60.5 289.5L61.5 288.8L62.5 288.1L63.5 287.4L64.5 286.6L65.5 285.7L66.5 284.9L67.5 284.0L68.5 283.0L69.5 282.0L70.5 281.0L71.5 279.9L72.5 278.8L73.5 277.6L74.5 276.4L75.5 275.2L76.5 274.0L77.5 272.8L78.5 271.5L79.5 270.3L80.5 269.0L81.5 267.7L82.5 266.4L83.5 265.2L84.5 264.0L85.5 262.8L86.5 261.7L87.5 260.6L88.5 259.5L89.5 258.5L90.5 257.5L91.5 256.6L92.5 255.7L93.5 254.9L94.5 254.2L95.5 253.5L96.5 253.0L97.5 252.5L98.5 252.1L99.5 251.8L100.5 251.6L101.5 251.5L102.5 251.4L103.5 251.5L104.5 251.6L105.5 251.8L106.5 252.1L107.5 252.4L108.5 252.8L109.5 253.2L110.5 253.7L111.5 254.2L112.5 254.8L113.5 255.4L114.5 256.0L115.5 256.7L116.5 257.4L117.5 258.2L118.5 259.0L119.5 259.8L120.5 260.6L121.5 261.5L122.5 262.3L123.5 263.2L124.5 264.2L125.5 265.1L126.5 266.0L127.5 267.0L128.5 267.9L129.5 268.9L130.5 269.8L131.5 270.8L132.5 271.7L133.5 272.7L134.5 273.6L135.5 274.5L136.5 275.4L137.5 276.3L138.5 277.2L139.5 278.0L140.5 278.8L141.5 279.6L142.5 280.4L143.5 281.1L144.5 281.8L145.5 282.5L146.5 283.2L147.5 283.9L148.5 284.5L149.5 285.1L150.5 285.7L151.5 286.2L152.5 286.7L153.5 287.3L154.5 287.8L155.5 288.2L156.5 288.7L157.5 289.1L158.5 289.5L159.5 289.9L160.5 290.3L161.5 290.6L162.5 291.0L163.5 291.3L164.5 291.6L165.5 291.9L166.5 292.2L167.5 292.5L168.5 292.8L169.5 293.0L170.5 293.3L171.5 293.5L172.5 293.7L173.5 293.9L174.5 294.2L175.5 294.4L176.5 294.6L177.5 294.8L178.5 295.0L179.5 295.2L180.5 295.4L181.5 295.6L182.5 295.7L183.5 295.9L184.5 296.1L185.5 296.3L186.5 296.5L187.5 296.6L188.5 296.8L189.5 297.0L190.5 297.1L191.5 297.3L192.5 297.4L193.5 297.6L194.5 297.7L195.5 297.9L196.5 298.0L197.5 298.2L198.5 298.3L199.5 298.5L200.5 298.6L201.5 298.7L202.5 298.9L203.5 299.0L204.5 299.1L205.5 299.3L206.5 299.4L207.5 299.5L208.5 299.7L209.5 299.8" stroke="#707070" stroke-width="0.9" stroke-dasharray="1.5,2.8"/>
<path d="M39.5 295.6L40.5 295.6L41.5 295.6L42.5 295.5L43.5 295.4L44.5 295.3L45.5 295.1L46.5 295.0L47.5 294.7L48.5 294.5L49.5 294.2L50.5 293.8L51.5 293.5L52.5 293.1L53.5 292.6L54.5 292.1L55.5 291.6L56.5 291.1L57.5 290.5L58.5 289.8L59.5 289.1L60.5 288.4L61.5 287.7L62.5 286.8L63.5 286.0L64.5 285.1L65.5 284.2L66.5 283.2L67.5 282.1L68.5 281.1L69.5 279.9L70.5 278.8L71.5 277.5L72.5 276.3L73.5 275.0L74.5 273.7L75.5 272.3L76.5 270.9L77.5 269.5L78.5 268.1L79.5 266.7L80.5 265.3L81.5 263.9L82.5 262.5L83.5 261.1L84.5 259.7L85.5 258.4L86.5 257.1L87.5 255.9L88.5 254.7L89.5 253.5L90.5 252.4L91.5 251.4L92.5 250.4L93.5 249.6L94.5 248.7L95.5 248.0L96.5 247.4L97.5 246.8L98.5 246.4L99.5 246.0L100.5 245.8L101.5 245.7L102.5 245.6L103.5 245.7L104.5 245.8L105.5 246.0L106.5 246.3L107.5 246.6L108.5 247.1L109.5 247.5L110.5 248.0L111.5 248.6L112.5 249.3L113.5 249.9L114.5 250.7L115.5 251.4L116.5 252.2L117.5 253.1L118.5 254.0L119.5 254.9L120.5 255.8L121.5 256.8L122.5 257.8L123.5 258.8L124.5 259.8L125.5 260.8L126.5 261.9L127.5 263.0L128.5 264.0L129.5 265.1L130.5 266.2L131.5 267.3L132.5 268.3L133.5 269.4L134.5 270.5L135.5 271.5L136.5 272.5L137.5 273.5L138.5 274.5L139.5 275.4L140.5 276.3L141.5 277.2L142.5 278.1L143.5 278.9L144.5 279.7L145.5 280.5L146.5 281.2L147.5 281.9L148.5 282.6L149.5 283.3L150.5 283.9L151.5 284.6L152.5 285.2L153.5 285.7L154.5 286.3L155.5 286.8L156.5 287.3L157.5 287.8L158.5 288.2L159.5 288.7L160.5 289.1L161.5 289.5L162.5 289.8L163.5 290.2L164.5 290.6L165.5 290.9L166.5 291.2L167.5 291.5L168.5 291.8L169.5 292.1L170.5 292.4L171.5 292.6L172.5 292.9L173.5 293.1L174.5 293.4L175.5 293.6L176.5 293.8L177.5 294.1L178.5 294.3L179.5 294.5L180.5 294.7L181.5 294.9L182.5 295.1L183.5 295.3L184.5 295.5L185.5 295.7L186.5 295.9L187.5 296.1L188.5 296.3L189.5 296.5L190.5 296.7L191.5 296.8L192.5 297.0L193.5 297.2L194.5 297.3L195.5 297.5L196.5 297.7L197.5 297.8L198.5 298.0L199.5 298.2L200.5 298.3L201.5 298.5L202.5 298.6L203.5 298.8L204.5 298.9L205.5 299.1L206.5 299.2L207.5 299.4L208.5 299.5L209.5 299.6" stroke="#707070" stroke-width="0.9" stroke-dasharray="1.5,2.8"/>
<path d="M39.5 295.6L40.5 295.5L41.5 295.5L42.5 295.4L43.5 295.3L44.5 295.1L45.5 295.0L46.5 294.7L47.5 294.5L48.5 294.2L49.5 293.8L50.5 293.5L51.5 293.0L52.5 292.6L53.5 292.1L54.5 291.6L55.5 291.0L56.5 290.4L57.5 289.7L58.5 289.0L59.5 288.2L60.5 287.5L61.5 286.6L62.5 285.7L63.5 284.8L64.5 283.8L65.5 282.8L66.5 281.7L67.5 280.5L68.5 279.3L69.5 278.1L70.5 276.8L71.5 275.5L72.5 274.1L73.5 272.6L74.5 271.2L75.5 269.7L76.5 268.2L77.5 266.7L78.5 265.1L79.5 263.6L80.5 262.0L81.5 260.5L82.5 258.9L83.5 257.4L84.5 255.9L85.5 254.5L86.5 253.1L87.5 251.7L88.5 250.4L89.5 249.2L90.5 248.0L91.5 246.8L92.5 245.8L93.5 244.8L94.5 243.9L95.5 243.1L96.5 242.4L97.5 241.8L98.5 241.3L99.5 241.0L100.5 240.7L101.5 240.5L102.5 240.5L103.5 240.5L104.5 240.7L105.5 240.9L106.5 241.2L107.5 241.6L108.5 242.0L109.5 242.5L110.5 243.1L111.5 243.7L112.5 244.4L113.5 245.2L114.5 245.9L115.5 246.8L116.5 247.7L117.5 248.6L118.5 249.5L119.5 250.5L120.5 251.6L121.5 252.6L122.5 253.7L123.5 254.8L124.5 255.9L125.5 257.1L126.5 258.3L127.5 259.4L128.5 260.6L129.5 261.8L130.5 263.0L131.5 264.2L132.5 265.3L133.5 266.5L134.5 267.7L135.5 268.8L136.5 269.9L137.5 271.0L138.5 272.1L139.5 273.1L140.5 274.1L141.5 275.1L142.5 276.0L143.5 276.9L144.5 277.8L145.5 278.6L146.5 279.5L147.5 280.2L148.5 281.0L149.5 281.7L150.5 282.4L151.5 283.1L152.5 283.7L153.5 284.4L154.5 284.9L155.5 285.5L156.5 286.1L157.5 286.6L158.5 287.1L159.5 287.5L160.5 288.0L161.5 288.4L162.5 288.8L163.5 289.2L164.5 289.6L165.5 290.0L166.5 290.3L167.5 290.6L168.5 291.0L169.5 291.3L170.5 291.6L171.5 291.9L172.5 292.1L173.5 292.4L174.5 292.7L175.5 292.9L176.5 293.2L177.5 293.4L178.5 293.7L179.5 293.9L180.5 294.1L181.5 294.4L182.5 294.6L183.5 294.8L184.5 295.0L185.5 295.2L186.5 295.5L187.5 295.7L188.5 295.9L189.5 296.1L190.5 296.3L191.5 296.4L192.5 296.6L193.5 296.8L194.5 297.0L195.5 297.2L196.5 297.4L197.5 297.5L198.5 297.7L199.5 297.9L200.5 298.1L201.5 298.2L202.5 298.4L203.5 298.6L204.5 298.7L205.5 298.9L206.5 299.0L207.5 299.2L208.5 299.4L209.5 299.5" stroke="#707070" stroke-width="0.9" stroke-dasharray="1.5,2.8"/>
<path d="M39.5 295.5L40.5 295.5L41.5 295.4L42.5 295.3L43.5 295.1L44.5 295.0L45.5 294.8L46.5 294.5L47.5 294.2L48.5 293.9L49.5 293.5L50.5 293.1L51.5 292.6L52.5 292.1L53.5 291.5L54.5 290.9L55.5 290.3L56.5 289.6L57.5 288.9L58.5 288.1L59.5 287.3L60.5 286.4L61.5 285.5L62.5 284.5L63.5 283.4L64.5 282.4L65.5 281.2L66.5 280.0L67.5 278.8L68.5 277.5L69.5 276.1L70.5 274.7L71.5 273.2L72.5 271.7L73.5 270.1L74.5 268.5L75.5 266.9L76.5 265.2L77.5 263.5L78.5 261.8L79.5 260.1L80.5 258.4L81.5 256.7L82.5 255.1L83.5 253.4L84.5 251.8L85.5 250.2L86.5 248.7L87.5 247.2L88.5 245.8L89.5 244.4L90.5 243.1L91.5 241.8L92.5 240.7L93.5 239.6L94.5 238.6L95.5 237.8L96.5 237.0L97.5 236.3L98.5 235.8L99.5 235.4L100.5 235.1L101.5 234.9L102.5 234.9L103.5 234.9L104.5 235.1L105.5 235.3L106.5 235.6L107.5 236.0L108.5 236.5L109.5 237.1L110.5 237.7L111.5 238.4L112.5 239.1L113.5 239.9L114.5 240.8L115.5 241.7L116.5 242.7L117.5 243.7L118.5 244.7L119.5 245.8L120.5 246.9L121.5 248.1L122.5 249.3L123.5 250.5L124.5 251.7L125.5 253.0L126.5 254.3L127.5 255.6L128.5 256.9L129.5 258.2L130.5 259.5L131.5 260.8L132.5 262.1L133.5 263.3L134.5 264.6L135.5 265.8L136.5 267.1L137.5 268.3L138.5 269.4L139.5 270.6L140.5 271.7L141.5 272.7L142.5 273.8L143.5 274.8L144.5 275.7L145.5 276.6L146.5 277.5L147.5 278.4L148.5 279.2L149.5 280.0L150.5 280.8L151.5 281.5L152.5 282.2L153.5 282.9L154.5 283.5L155.5 284.1L156.5 284.7L157.5 285.3L158.5 285.8L159.5 286.3L160.5 286.8L161.5 287.3L162.5 287.7L163.5 288.2L164.5 288.6L165.5 289.0L166.5 289.3L167.5 289.7L168.5 290.0L169.5 290.4L170.5 290.7L171.5 291.0L172.5 291.3L173.5 291.6L174.5 291.9L175.5 292.2L176.5 292.5L177.5 292.7L178.5 293.0L179.5 293.2L180.5 293.5L181.5 293.7L182.5 294.0L183.5 294.2L184.5 294.5L185.5 294.7L186.5 294.9L187.5 295.2L188.5 295.4L189.5 295.6L190.5 295.8L191.5 296.0L192.5 296.2L193.5 296.4L194.5 296.6L195.5 296.8L196.5 297.0L197.5 297.2L198.5 297.4L199.5 297.6L200.5 297.8L201.5 298.0L202.5 298.2L203.5 298.3L204.5 298.5L205.5 298.7L206.5 298.9L207.5 299.0L208.5 299.2L209.5 299.4" stroke="#707070" stroke-width="0.9" stroke-dasharray="1.5,2.8"/>
<path d="M39.5 295.4L40.5 295.4L41.5 295.3L42.5 295.1L43.5 294.9L44.5 294.7L45.5 294.5L46.5 294.2L47.5 293.8L48.5 293.4L49.5 293.0L50.5 292.5L51.5 292.0L52.5 291.4L53.5 290.8L54.5 290.1L55.5 289.4L56.5 288.6L57.5 287.8L58.5 286.9L59.5 285.9L60.5 284.9L61.5 283.9L62.5 282.8L63.5 281.6L64.5 280.4L65.5 279.1L66.5 277.8L67.5 276.4L68.5 274.9L69.5 273.3L70.5 271.7L71.5 270.1L72.5 268.4L73.5 266.6L74.5 264.8L75.5 263.0L76.5 261.1L77.5 259.2L78.5 257.3L79.5 255.4L80.5 253.5L81.5 251.6L82.5 249.8L83.5 247.9L84.5 246.1L85.5 244.3L86.5 242.6L87.5 241.0L88.5 239.4L89.5 237.8L90.5 236.4L91.5 235.0L92.5 233.7L93.5 232.5L94.5 231.4L95.5 230.4L96.5 229.6L97.5 228.8L98.5 228.2L99.5 227.8L100.5 227.5L101.5 227.3L102.5 227.2L103.5 227.2L104.5 227.4L105.5 227.6L106.5 228.0L107.5 228.4L108.5 229.0L109.5 229.6L110.5 230.2L111.5 231.0L112.5 231.8L113.5 232.7L114.5 233.7L115.5 234.7L116.5 235.8L117.5 236.9L118.5 238.1L119.5 239.3L120.5 240.6L121.5 241.9L122.5 243.2L123.5 244.6L124.5 246.0L125.5 247.4L126.5 248.8L127.5 250.3L128.5 251.7L129.5 253.2L130.5 254.6L131.5 256.1L132.5 257.6L133.5 259.0L134.5 260.4L135.5 261.8L136.5 263.2L137.5 264.5L138.5 265.8L139.5 267.1L140.5 268.3L141.5 269.5L142.5 270.7L143.5 271.8L144.5 272.9L145.5 273.9L146.5 274.9L147.5 275.9L148.5 276.8L149.5 277.7L150.5 278.5L151.5 279.3L152.5 280.1L153.5 280.8L154.5 281.5L155.5 282.2L156.5 282.9L157.5 283.5L158.5 284.1L159.5 284.7L160.5 285.2L161.5 285.7L162.5 286.2L163.5 286.7L164.5 287.1L165.5 287.6L166.5 288.0L167.5 288.4L168.5 288.8L169.5 289.2L170.5 289.5L171.5 289.9L172.5 290.2L173.5 290.5L174.5 290.8L175.5 291.2L176.5 291.5L177.5 291.8L178.5 292.1L179.5 292.3L180.5 292.6L181.5 292.9L182.5 293.2L183.5 293.5L184.5 293.7L185.5 294.0L186.5 294.2L187.5 294.5L188.5 294.7L189.5 295.0L190.5 295.2L191.5 295.4L192.5 295.7L193.5 295.9L194.5 296.1L195.5 296.3L196.5 296.6L197.5 296.8L198.5 297.0L199.5 297.2L200.5 297.4L201.5 297.6L202.5 297.8L203.5 298.0L204.5 298.2L205.5 298.4L206.5 298.6L207.5 298.8L208.5 299.0L209.5 299.2" stroke="#707070" stroke-width="0.9" stroke-dasharray="1.5,2.8"/>
<path d="M39.5 295.4L40.5 295.3L41.5 295.1L42.5 295.0L43.5 294.7L44.5 294.5L45.5 294.2L46.5 293.8L47.5 293.4L48.5 293.0L49.5 292.5L50.5 291.9L51.5 291.3L52.5 290.7L53.5 290.0L54.5 289.2L55.5 288.4L56.5 287.6L57.5 286.6L58.5 285.7L59.5 284.6L60.5 283.5L61.5 282.3L62.5 281.1L63.5 279.8L64.5 278.4L65.5 277.0L66.5 275.5L67.5 273.9L68.5 272.3L69.5 270.6L70.5 268.8L71.5 267.0L72.5 265.1L73.5 263.1L74.5 261.1L75.5 259.1L76.5 257.0L77.5 254.9L78.5 252.8L79.5 250.7L80.5 248.6L81.5 246.5L82.5 244.5L83.5 242.4L84.5 240.4L85.5 238.5L86.5 236.6L87.5 234.7L88.5 233.0L89.5 231.3L90.5 229.7L91.5 228.1L92.5 226.7L93.5 225.4L94.5 224.2L95.5 223.1L96.5 222.1L97.5 221.3L98.5 220.7L99.5 220.2L100.5 219.8L101.5 219.6L102.5 219.5L103.5 219.5L104.5 219.7L105.5 220.0L106.5 220.3L107.5 220.8L108.5 221.4L109.5 222.1L110.5 222.8L111.5 223.6L112.5 224.6L113.5 225.5L114.5 226.6L115.5 227.7L116.5 228.9L117.5 230.2L118.5 231.5L119.5 232.8L120.5 234.2L121.5 235.6L122.5 237.1L123.5 238.6L124.5 240.2L125.5 241.8L126.5 243.3L127.5 245.0L128.5 246.6L129.5 248.2L130.5 249.8L131.5 251.4L132.5 253.0L133.5 254.6L134.5 256.2L135.5 257.8L136.5 259.3L137.5 260.8L138.5 262.2L139.5 263.6L140.5 265.0L141.5 266.3L142.5 267.6L143.5 268.8L144.5 270.0L145.5 271.2L146.5 272.3L147.5 273.3L148.5 274.3L149.5 275.3L150.5 276.2L151.5 277.1L152.5 278.0L153.5 278.8L154.5 279.6L155.5 280.3L156.5 281.0L157.5 281.7L158.5 282.4L159.5 283.0L160.5 283.6L161.5 284.2L162.5 284.7L163.5 285.2L164.5 285.7L165.5 286.2L166.5 286.7L167.5 287.1L168.5 287.5L169.5 287.9L170.5 288.3L171.5 288.7L172.5 289.1L173.5 289.4L174.5 289.8L175.5 290.1L176.5 290.5L177.5 290.8L178.5 291.1L179.5 291.4L180.5 291.8L181.5 292.1L182.5 292.4L183.5 292.7L184.5 293.0L185.5 293.2L186.5 293.5L187.5 293.8L188.5 294.1L189.5 294.3L190.5 294.6L191.5 294.9L192.5 295.1L193.5 295.4L194.5 295.6L195.5 295.9L196.5 296.1L197.5 296.3L198.5 296.6L199.5 296.8L200.5 297.0L201.5 297.3L202.5 297.5L203.5 297.7L204.5 297.9L205.5 298.2L206.5 298.4L207.5 298.6L208.5 298.8L209.5 299.0" stroke="#707070" stroke-width="0.9" stroke-dasharray="1.5,2.8"/>
<path d="M39.5 296.0L40.5 296.2L41.5 296.3L42.5 296.5L43.5 296.7L44.5 296.8L45.5 296.9L46.5 297.0L47.5 297.1L48.5 297.2L49.5 297.2L50.5 297.3L51.5 297.3L52.5 297.4L53.5 297.4L54.5 297.4L55.5 297.4L56.5 297.4L57.5 297.4L58.5 297.4L59.5 297.4L60.5 297.4L61.5 297.4L62.5 297.3L63.5 297.3L64.5 297.2L65.5 297.2L66.5 297.1L67.5 297.1L68.5 297.0L69.5 297.0L70.5 296.9L71.5 296.8L72.5 296.7L73.5 296.6L74.5 296.6L75.5 296.5L76.5 296.3L77.5 296.2L78.5 296.0L79.5 295.9L80.5 295.7L81.5 295.5L82.5 295.2L83.5 295.0L84.5 294.9L85.5 294.7L86.5 294.5L87.5 294.4L88.5 294.3L89.5 294.1L90.5 294.0L91.5 293.9L92.5 293.8L93.5 293.7L94.5 293.6L95.5 293.5L96.5 293.4L97.5 293.4L98.5 293.3L99.5 293.3L100.5 293.3L101.5 293.3L102.5 293.4L103.5 293.4L104.5 293.5L105.5 293.6L106.5 293.7L107.5 293.8L108.5 293.9L109.5 294.0L110.5 294.1L111.5 294.2L112.5 294.4L113.5 294.5L114.5 294.6L115.5 294.7L116.5 294.8L117.5 294.9L118.5 295.0L119.5 295.1L120.5 295.2L121.5 295.3L122.5 295.4L123.5 295.5L124.5 295.6L125.5 295.7L126.5 295.8L127.5 295.8L128.5 295.9L129.5 296.0L130.5 296.1L131.5 296.2L132.5 296.3L133.5 296.3L134.5 296.4L135.5 296.5L136.5 296.6L137.5 296.7L138.5 296.8L139.5 296.9L140.5 297.0L141.5 297.1L142.5 297.2L143.5 297.3L144.5 297.4L145.5 297.5L146.5 297.6L147.5 297.7L148.5 297.8L149.5 297.9L150.5 298.0L151.5 298.1L152.5 298.3L153.5 298.4L154.5 298.5L155.5 298.6L156.5 298.7L157.5 298.8L158.5 298.9L159.5 299.0L160.5 299.1L161.5 299.2L162.5 299.2L163.5 299.3L164.5 299.4L165.5 299.4L166.5 299.5L167.5 299.6L168.5 299.6L169.5 299.7L170.5 299.7L171.5 299.8L172.5 299.8L173.5 299.9L174.5 299.9L175.5 299.9L176.5 300.0L177.5 300.0L178.5 300.0L179.5 300.1L180.5 300.1L181.5 300.1L182.5 300.2L183.5 300.2L184.5 300.2L185.5 300.3L186.5 300.3L187.5 300.3L188.5 300.4L189.5 300.4L190.5 300.4L191.5 300.4L192.5 300.5L193.5 300.5L194.5 300.5L195.5 300.5L196.5 300.5L197.5 300.6L198.5 300.6L199.5 300.6L200.5 300.6L201.5 300.6L202.5 300.7L203.5 300.7L204.5 300.7L205.5 300.7L206.5 300.7L207.5 300.8L208.5 300.8L209.5 300.8" stroke="#111" stroke-width="1.0"/>
<path d="M39.5 295.3L40.5 295.2L41.5 295.0L42.5 294.8L43.5 294.6L44.5 294.3L45.5 293.9L46.5 293.6L47.5 293.1L48.5 292.6L49.5 292.1L50.5 291.5L51.5 290.8L52.5 290.1L53.5 289.4L54.5 288.5L55.5 287.7L56.5 286.7L57.5 285.7L58.5 284.6L59.5 283.5L60.5 282.3L61.5 281.0L62.5 279.7L63.5 278.3L64.5 276.8L65.5 275.3L66.5 273.7L67.5 272.0L68.5 270.2L69.5 268.3L70.5 266.4L71.5 264.4L72.5 262.3L73.5 260.2L74.5 258.1L75.5 255.9L76.5 253.6L77.5 251.4L78.5 249.1L79.5 246.9L80.5 244.6L81.5 242.4L82.5 240.1L83.5 237.9L84.5 235.8L85.5 233.7L86.5 231.6L87.5 229.6L88.5 227.7L89.5 225.9L90.5 224.1L91.5 222.5L92.5 221.0L93.5 219.5L94.5 218.2L95.5 217.1L96.5 216.0L97.5 215.2L98.5 214.4L99.5 213.9L100.5 213.5L101.5 213.2L102.5 213.1L103.5 213.2L104.5 213.4L105.5 213.6L106.5 214.0L107.5 214.6L108.5 215.2L109.5 215.9L110.5 216.7L111.5 217.6L112.5 218.6L113.5 219.6L114.5 220.8L115.5 222.0L116.5 223.3L117.5 224.6L118.5 226.0L119.5 227.5L120.5 229.0L121.5 230.5L122.5 232.1L123.5 233.8L124.5 235.4L125.5 237.1L126.5 238.8L127.5 240.6L128.5 242.3L129.5 244.1L130.5 245.8L131.5 247.6L132.5 249.3L133.5 251.1L134.5 252.8L135.5 254.4L136.5 256.1L137.5 257.7L138.5 259.3L139.5 260.8L140.5 262.3L141.5 263.7L142.5 265.1L143.5 266.4L144.5 267.7L145.5 268.9L146.5 270.1L147.5 271.2L148.5 272.3L149.5 273.4L150.5 274.4L151.5 275.3L152.5 276.2L153.5 277.1L154.5 277.9L155.5 278.7L156.5 279.5L157.5 280.2L158.5 280.9L159.5 281.6L160.5 282.3L161.5 282.9L162.5 283.5L163.5 284.0L164.5 284.6L165.5 285.1L166.5 285.6L167.5 286.0L168.5 286.5L169.5 286.9L170.5 287.4L171.5 287.8L172.5 288.2L173.5 288.5L174.5 288.9L175.5 289.3L176.5 289.7L177.5 290.0L178.5 290.4L179.5 290.7L180.5 291.0L181.5 291.4L182.5 291.7L183.5 292.0L184.5 292.3L185.5 292.6L186.5 292.9L187.5 293.2L188.5 293.5L189.5 293.8L190.5 294.1L191.5 294.4L192.5 294.7L193.5 294.9L194.5 295.2L195.5 295.5L196.5 295.7L197.5 296.0L198.5 296.2L199.5 296.5L200.5 296.7L201.5 297.0L202.5 297.2L203.5 297.5L204.5 297.7L205.5 297.9L206.5 298.2L207.5 298.4L208.5 298.6L209.5 298.9" stroke="#d0f7f9" stroke-width="2.05"/>
<path d="M39.5 295.3L40.5 295.2L41.5 295.0L42.5 294.8L43.5 294.6L44.5 294.3L45.5 293.9L46.5 293.6L47.5 293.1L48.5 292.6L49.5 292.1L50.5 291.5L51.5 290.8L52.5 290.1L53.5 289.4L54.5 288.5L55.5 287.7L56.5 286.7L57.5 285.7L58.5 284.6L59.5 283.5L60.5 282.3L61.5 281.0L62.5 279.7L63.5 278.3L64.5 276.8L65.5 275.3L66.5 273.7L67.5 272.0L68.5 270.2L69.5 268.3L70.5 266.4L71.5 264.4L72.5 262.3L73.5 260.2L74.5 258.1L75.5 255.9L76.5 253.6L77.5 251.4L78.5 249.1L79.5 246.9L80.5 244.6L81.5 242.4L82.5 240.1L83.5 237.9L84.5 235.8L85.5 233.7L86.5 231.6L87.5 229.6L88.5 227.7L89.5 225.9L90.5 224.1L91.5 222.5L92.5 221.0L93.5 219.5L94.5 218.2L95.5 217.1L96.5 216.0L97.5 215.2L98.5 214.4L99.5 213.9L100.5 213.5L101.5 213.2L102.5 213.1L103.5 213.2L104.5 213.4L105.5 213.6L106.5 214.0L107.5 214.6L108.5 215.2L109.5 215.9L110.5 216.7L111.5 217.6L112.5 218.6L113.5 219.6L114.5 220.8L115.5 222.0L116.5 223.3L117.5 224.6L118.5 226.0L119.5 227.5L120.5 229.0L121.5 230.5L122.5 232.1L123.5 233.8L124.5 235.4L125.5 237.1L126.5 238.8L127.5 240.6L128.5 242.3L129.5 244.1L130.5 245.8L131.5 247.6L132.5 249.3L133.5 251.1L134.5 252.8L135.5 254.4L136.5 256.1L137.5 257.7L138.5 259.3L139.5 260.8L140.5 262.3L141.5 263.7L142.5 265.1L143.5 266.4L144.5 267.7L145.5 268.9L146.5 270.1L147.5 271.2L148.5 272.3L149.5 273.4L150.5 274.4L151.5 275.3L152.5 276.2L153.5 277.1L154.5 277.9L155.5 278.7L156.5 279.5L157.5 280.2L158.5 280.9L159.5 281.6L160.5 282.3L161.5 282.9L162.5 283.5L163.5 284.0L164.5 284.6L165.5 285.1L166.5 285.6L167.5 286.0L168.5 286.5L169.5 286.9L170.5 287.4L171.5 287.8L172.5 288.2L173.5 288.5L174.5 288.9L175.5 289.3L176.5 289.7L177.5 290.0L178.5 290.4L179.5 290.7L180.5 291.0L181.5 291.4L182.5 291.7L183.5 292.0L184.5 292.3L185.5 292.6L186.5 292.9L187.5 293.2L188.5 293.5L189.5 293.8L190.5 294.1L191.5 294.4L192.5 294.7L193.5 294.9L194.5 295.2L195.5 295.5L196.5 295.7L197.5 296.0L198.5 296.2L199.5 296.5L200.5 296.7L201.5 297.0L202.5 297.2L203.5 297.5L204.5 297.7L205.5 297.9L206.5 298.2L207.5 298.4L208.5 298.6L209.5 298.9" stroke="#45c4c8" stroke-width="1.05"/>
</g>
<g clip-path="url(#ce)" fill="none">
<path d="M270.5 295.4L271.5 295.6L272.5 295.9L273.5 296.2L274.5 296.4L275.5 296.6L276.5 296.8L277.5 297.0L278.5 297.2L279.5 297.3L280.5 297.4L281.5 297.4L282.5 297.5L283.5 297.4L284.5 297.4L285.5 297.3L286.5 297.2L287.5 297.1L288.5 296.9L289.5 296.8L290.5 296.7L291.5 296.5L292.5 296.3L293.5 296.1L294.5 295.9L295.5 295.7L296.5 295.5L297.5 295.3L298.5 295.0L299.5 294.8L300.5 294.5L301.5 294.2L302.5 293.9L303.5 293.6L304.5 293.2L305.5 292.9L306.5 292.5L307.5 292.1L308.5 291.7L309.5 291.4L310.5 291.0L311.5 290.6L312.5 290.3L313.5 290.0L314.5 289.7L315.5 289.4L316.5 289.1L317.5 288.9L318.5 288.6L319.5 288.4L320.5 288.2L321.5 288.0L322.5 287.8L323.5 287.6L324.5 287.5L325.5 287.3L326.5 287.2L327.5 287.1L328.5 287.0L329.5 286.9L330.5 286.9L331.5 286.8L332.5 286.8L333.5 286.8L334.5 286.8L335.5 286.9L336.5 287.0L337.5 287.0L338.5 287.2L339.5 287.3L340.5 287.5L341.5 287.7L342.5 287.9L343.5 288.1L344.5 288.3L345.5 288.6L346.5 288.8L347.5 289.1L348.5 289.3L349.5 289.6L350.5 289.9L351.5 290.2L352.5 290.4L353.5 290.7L354.5 290.9L355.5 291.2L356.5 291.4L357.5 291.7L358.5 291.9L359.5 292.2L360.5 292.4L361.5 292.6L362.5 292.9L363.5 293.1L364.5 293.4L365.5 293.6L366.5 293.9L367.5 294.1L368.5 294.4L369.5 294.6L370.5 294.8L371.5 295.1L372.5 295.3L373.5 295.5L374.5 295.8L375.5 296.0L376.5 296.2L377.5 296.4L378.5 296.6L379.5 296.8L380.5 296.9L381.5 297.1L382.5 297.2L383.5 297.4L384.5 297.5L385.5 297.7L386.5 297.8L387.5 297.9L388.5 298.1L389.5 298.2L390.5 298.3L391.5 298.4L392.5 298.5L393.5 298.6L394.5 298.7L395.5 298.8L396.5 298.8L397.5 298.9L398.5 299.0L399.5 299.1L400.5 299.2L401.5 299.3L402.5 299.3L403.5 299.4L404.5 299.5L405.5 299.6L406.5 299.6L407.5 299.7L408.5 299.8L409.5 299.8L410.5 299.9L411.5 300.0L412.5 300.0L413.5 300.1L414.5 300.1L415.5 300.2L416.5 300.2L417.5 300.3L418.5 300.3L419.5 300.4L420.5 300.4L421.5 300.5L422.5 300.5L423.5 300.6L424.5 300.6L425.5 300.6L426.5 300.7L427.5 300.7L428.5 300.8L429.5 300.8L430.5 300.8L431.5 300.8L432.5 300.9L433.5 300.9L434.5 300.9L435.5 300.9L436.5 301.0L437.5 301.0L438.5 301.0L439.5 301.0L440.5 301.0L440.6 301.0" stroke="#707070" stroke-width="0.9" stroke-dasharray="1.5,2.8"/>
<path d="M270.5 295.3L271.5 295.5L272.5 295.7L273.5 295.9L274.5 296.1L275.5 296.2L276.5 296.3L277.5 296.5L278.5 296.6L279.5 296.6L280.5 296.6L281.5 296.5L282.5 296.5L283.5 296.3L284.5 296.2L285.5 296.0L286.5 295.8L287.5 295.6L288.5 295.4L289.5 295.1L290.5 294.8L291.5 294.5L292.5 294.2L293.5 293.9L294.5 293.5L295.5 293.2L296.5 292.8L297.5 292.4L298.5 291.9L299.5 291.5L300.5 291.0L301.5 290.5L302.5 290.0L303.5 289.4L304.5 288.8L305.5 288.2L306.5 287.5L307.5 286.8L308.5 286.2L309.5 285.5L310.5 284.8L311.5 284.2L312.5 283.6L313.5 283.0L314.5 282.5L315.5 282.0L316.5 281.5L317.5 281.1L318.5 280.6L319.5 280.2L320.5 279.9L321.5 279.5L322.5 279.1L323.5 278.8L324.5 278.5L325.5 278.3L326.5 278.0L327.5 277.8L328.5 277.6L329.5 277.5L330.5 277.4L331.5 277.3L332.5 277.2L333.5 277.2L334.5 277.3L335.5 277.3L336.5 277.4L337.5 277.6L338.5 277.8L339.5 278.0L340.5 278.3L341.5 278.6L342.5 278.9L343.5 279.3L344.5 279.7L345.5 280.1L346.5 280.5L347.5 280.9L348.5 281.4L349.5 281.8L350.5 282.3L351.5 282.7L352.5 283.2L353.5 283.6L354.5 284.1L355.5 284.5L356.5 284.9L357.5 285.3L358.5 285.7L359.5 286.1L360.5 286.5L361.5 286.9L362.5 287.3L363.5 287.8L364.5 288.2L365.5 288.6L366.5 289.0L367.5 289.4L368.5 289.8L369.5 290.2L370.5 290.6L371.5 291.0L372.5 291.4L373.5 291.8L374.5 292.2L375.5 292.5L376.5 292.9L377.5 293.2L378.5 293.6L379.5 293.9L380.5 294.2L381.5 294.4L382.5 294.7L383.5 294.9L384.5 295.2L385.5 295.4L386.5 295.6L387.5 295.8L388.5 296.0L389.5 296.2L390.5 296.4L391.5 296.6L392.5 296.7L393.5 296.9L394.5 297.1L395.5 297.2L396.5 297.4L397.5 297.5L398.5 297.6L399.5 297.8L400.5 297.9L401.5 298.0L402.5 298.2L403.5 298.3L404.5 298.4L405.5 298.5L406.5 298.6L407.5 298.7L408.5 298.9L409.5 299.0L410.5 299.1L411.5 299.2L412.5 299.3L413.5 299.4L414.5 299.5L415.5 299.5L416.5 299.6L417.5 299.7L418.5 299.8L419.5 299.9L420.5 299.9L421.5 300.0L422.5 300.1L423.5 300.1L424.5 300.2L425.5 300.3L426.5 300.3L427.5 300.4L428.5 300.4L429.5 300.5L430.5 300.5L431.5 300.6L432.5 300.6L433.5 300.6L434.5 300.7L435.5 300.7L436.5 300.7L437.5 300.7L438.5 300.8L439.5 300.8L440.5 300.8L440.6 300.8" stroke="#707070" stroke-width="0.9" stroke-dasharray="1.5,2.8"/>
<path d="M270.5 295.2L271.5 295.4L272.5 295.5L273.5 295.7L274.5 295.8L275.5 295.9L276.5 295.9L277.5 296.0L278.5 296.0L279.5 295.9L280.5 295.9L281.5 295.7L282.5 295.6L283.5 295.4L284.5 295.2L285.5 294.9L286.5 294.6L287.5 294.3L288.5 294.0L289.5 293.6L290.5 293.2L291.5 292.8L292.5 292.4L293.5 291.9L294.5 291.4L295.5 290.9L296.5 290.4L297.5 289.8L298.5 289.2L299.5 288.6L300.5 287.9L301.5 287.2L302.5 286.5L303.5 285.7L304.5 284.9L305.5 284.0L306.5 283.1L307.5 282.2L308.5 281.3L309.5 280.4L310.5 279.4L311.5 278.6L312.5 277.7L313.5 276.9L314.5 276.2L315.5 275.5L316.5 274.9L317.5 274.2L318.5 273.6L319.5 273.1L320.5 272.5L321.5 272.0L322.5 271.6L323.5 271.1L324.5 270.7L325.5 270.3L326.5 270.0L327.5 269.7L328.5 269.5L329.5 269.2L330.5 269.1L331.5 269.0L332.5 268.9L333.5 268.9L334.5 268.9L335.5 269.0L336.5 269.1L337.5 269.3L338.5 269.6L339.5 269.9L340.5 270.2L341.5 270.7L342.5 271.1L343.5 271.6L344.5 272.1L345.5 272.7L346.5 273.2L347.5 273.8L348.5 274.4L349.5 275.0L350.5 275.7L351.5 276.3L352.5 276.9L353.5 277.5L354.5 278.0L355.5 278.6L356.5 279.2L357.5 279.7L358.5 280.3L359.5 280.8L360.5 281.4L361.5 281.9L362.5 282.5L363.5 283.0L364.5 283.6L365.5 284.2L366.5 284.7L367.5 285.3L368.5 285.9L369.5 286.4L370.5 287.0L371.5 287.5L372.5 288.0L373.5 288.6L374.5 289.1L375.5 289.5L376.5 290.0L377.5 290.5L378.5 290.9L379.5 291.3L380.5 291.7L381.5 292.1L382.5 292.5L383.5 292.8L384.5 293.1L385.5 293.4L386.5 293.7L387.5 294.0L388.5 294.3L389.5 294.5L390.5 294.8L391.5 295.0L392.5 295.2L393.5 295.4L394.5 295.7L395.5 295.9L396.5 296.0L397.5 296.2L398.5 296.4L399.5 296.6L400.5 296.8L401.5 297.0L402.5 297.1L403.5 297.3L404.5 297.5L405.5 297.6L406.5 297.8L407.5 297.9L408.5 298.1L409.5 298.2L410.5 298.3L411.5 298.5L412.5 298.6L413.5 298.7L414.5 298.9L415.5 299.0L416.5 299.1L417.5 299.2L418.5 299.3L419.5 299.4L420.5 299.5L421.5 299.6L422.5 299.7L423.5 299.8L424.5 299.9L425.5 299.9L426.5 300.0L427.5 300.1L428.5 300.2L429.5 300.2L430.5 300.3L431.5 300.3L432.5 300.4L433.5 300.4L434.5 300.5L435.5 300.5L436.5 300.5L437.5 300.6L438.5 300.6L439.5 300.6L440.5 300.6L440.6 300.6" stroke="#707070" stroke-width="0.9" stroke-dasharray="1.5,2.8"/>
<path d="M270.5 295.1L271.5 295.2L272.5 295.4L273.5 295.4L274.5 295.5L275.5 295.5L276.5 295.6L277.5 295.5L278.5 295.5L279.5 295.4L280.5 295.2L281.5 295.0L282.5 294.8L283.5 294.5L284.5 294.2L285.5 293.9L286.5 293.5L287.5 293.1L288.5 292.7L289.5 292.2L290.5 291.8L291.5 291.3L292.5 290.7L293.5 290.2L294.5 289.6L295.5 288.9L296.5 288.3L297.5 287.6L298.5 286.8L299.5 286.0L300.5 285.2L301.5 284.4L302.5 283.4L303.5 282.5L304.5 281.5L305.5 280.4L306.5 279.3L307.5 278.1L308.5 276.9L309.5 275.8L310.5 274.6L311.5 273.5L312.5 272.5L313.5 271.5L314.5 270.6L315.5 269.7L316.5 268.9L317.5 268.1L318.5 267.4L319.5 266.7L320.5 266.0L321.5 265.4L322.5 264.8L323.5 264.3L324.5 263.7L325.5 263.3L326.5 262.9L327.5 262.5L328.5 262.2L329.5 261.9L330.5 261.7L331.5 261.5L332.5 261.4L333.5 261.4L334.5 261.4L335.5 261.5L336.5 261.7L337.5 261.9L338.5 262.2L339.5 262.6L340.5 263.1L341.5 263.6L342.5 264.1L343.5 264.7L344.5 265.4L345.5 266.1L346.5 266.8L347.5 267.5L348.5 268.2L349.5 269.0L350.5 269.7L351.5 270.5L352.5 271.2L353.5 272.0L354.5 272.7L355.5 273.4L356.5 274.1L357.5 274.7L358.5 275.4L359.5 276.1L360.5 276.8L361.5 277.5L362.5 278.2L363.5 278.9L364.5 279.6L365.5 280.3L366.5 281.0L367.5 281.6L368.5 282.3L369.5 283.0L370.5 283.7L371.5 284.4L372.5 285.0L373.5 285.7L374.5 286.3L375.5 286.9L376.5 287.5L377.5 288.0L378.5 288.6L379.5 289.1L380.5 289.6L381.5 290.0L382.5 290.5L383.5 290.9L384.5 291.3L385.5 291.7L386.5 292.0L387.5 292.4L388.5 292.7L389.5 293.0L390.5 293.3L391.5 293.6L392.5 293.9L393.5 294.1L394.5 294.4L395.5 294.6L396.5 294.9L397.5 295.1L398.5 295.3L399.5 295.6L400.5 295.8L401.5 296.0L402.5 296.2L403.5 296.4L404.5 296.6L405.5 296.8L406.5 297.0L407.5 297.2L408.5 297.4L409.5 297.5L410.5 297.7L411.5 297.9L412.5 298.0L413.5 298.2L414.5 298.3L415.5 298.5L416.5 298.6L417.5 298.7L418.5 298.9L419.5 299.0L420.5 299.1L421.5 299.2L422.5 299.3L423.5 299.5L424.5 299.6L425.5 299.6L426.5 299.7L427.5 299.8L428.5 299.9L429.5 300.0L430.5 300.0L431.5 300.1L432.5 300.2L433.5 300.2L434.5 300.3L435.5 300.3L436.5 300.4L437.5 300.4L438.5 300.4L439.5 300.4L440.5 300.4L440.6 300.4" stroke="#707070" stroke-width="0.9" stroke-dasharray="1.5,2.8"/>
<path d="M270.5 295.0L271.5 295.1L272.5 295.2L273.5 295.2L274.5 295.3L275.5 295.2L276.5 295.2L277.5 295.1L278.5 295.0L279.5 294.8L280.5 294.6L281.5 294.3L282.5 294.0L283.5 293.7L284.5 293.3L285.5 292.9L286.5 292.5L287.5 292.0L288.5 291.5L289.5 290.9L290.5 290.3L291.5 289.7L292.5 289.1L293.5 288.4L294.5 287.7L295.5 286.9L296.5 286.1L297.5 285.3L298.5 284.4L299.5 283.5L300.5 282.5L301.5 281.5L302.5 280.4L303.5 279.2L304.5 278.0L305.5 276.7L306.5 275.4L307.5 274.0L308.5 272.6L309.5 271.2L310.5 269.8L311.5 268.5L312.5 267.3L313.5 266.1L314.5 265.0L315.5 264.0L316.5 263.0L317.5 262.1L318.5 261.2L319.5 260.3L320.5 259.5L321.5 258.8L322.5 258.1L323.5 257.4L324.5 256.8L325.5 256.2L326.5 255.7L327.5 255.3L328.5 254.9L329.5 254.5L330.5 254.3L331.5 254.1L332.5 254.0L333.5 253.9L334.5 254.0L335.5 254.1L336.5 254.3L337.5 254.6L338.5 254.9L339.5 255.4L340.5 255.9L341.5 256.5L342.5 257.2L343.5 257.9L344.5 258.6L345.5 259.5L346.5 260.3L347.5 261.2L348.5 262.0L349.5 262.9L350.5 263.8L351.5 264.7L352.5 265.6L353.5 266.5L354.5 267.3L355.5 268.1L356.5 269.0L357.5 269.8L358.5 270.6L359.5 271.4L360.5 272.2L361.5 273.0L362.5 273.8L363.5 274.7L364.5 275.5L365.5 276.3L366.5 277.2L367.5 278.0L368.5 278.8L369.5 279.6L370.5 280.4L371.5 281.2L372.5 282.0L373.5 282.7L374.5 283.5L375.5 284.2L376.5 284.9L377.5 285.6L378.5 286.2L379.5 286.8L380.5 287.4L381.5 288.0L382.5 288.5L383.5 289.0L384.5 289.5L385.5 289.9L386.5 290.3L387.5 290.7L388.5 291.1L389.5 291.5L390.5 291.9L391.5 292.2L392.5 292.5L393.5 292.8L394.5 293.1L395.5 293.4L396.5 293.7L397.5 294.0L398.5 294.3L399.5 294.5L400.5 294.8L401.5 295.0L402.5 295.3L403.5 295.5L404.5 295.8L405.5 296.0L406.5 296.2L407.5 296.4L408.5 296.6L409.5 296.9L410.5 297.1L411.5 297.2L412.5 297.4L413.5 297.6L414.5 297.8L415.5 298.0L416.5 298.1L417.5 298.3L418.5 298.4L419.5 298.6L420.5 298.7L421.5 298.9L422.5 299.0L423.5 299.1L424.5 299.2L425.5 299.4L426.5 299.5L427.5 299.6L428.5 299.7L429.5 299.7L430.5 299.8L431.5 299.9L432.5 300.0L433.5 300.0L434.5 300.1L435.5 300.1L436.5 300.2L437.5 300.2L438.5 300.2L439.5 300.3L440.5 300.3L440.6 300.3" stroke="#707070" stroke-width="0.9" stroke-dasharray="1.5,2.8"/>
<path d="M270.5 294.9L271.5 295.0L272.5 295.0L273.5 295.0L274.5 295.0L275.5 294.9L276.5 294.8L277.5 294.7L278.5 294.5L279.5 294.3L280.5 294.0L281.5 293.7L282.5 293.3L283.5 292.9L284.5 292.4L285.5 291.9L286.5 291.4L287.5 290.8L288.5 290.2L289.5 289.6L290.5 288.9L291.5 288.2L292.5 287.5L293.5 286.7L294.5 285.9L295.5 285.0L296.5 284.1L297.5 283.1L298.5 282.1L299.5 281.0L300.5 279.9L301.5 278.7L302.5 277.4L303.5 276.0L304.5 274.6L305.5 273.1L306.5 271.6L307.5 270.0L308.5 268.4L309.5 266.8L310.5 265.2L311.5 263.7L312.5 262.2L313.5 260.9L314.5 259.6L315.5 258.4L316.5 257.2L317.5 256.1L318.5 255.1L319.5 254.1L320.5 253.2L321.5 252.3L322.5 251.5L323.5 250.7L324.5 250.0L325.5 249.4L326.5 248.8L327.5 248.2L328.5 247.8L329.5 247.4L330.5 247.1L331.5 246.9L332.5 246.7L333.5 246.7L334.5 246.7L335.5 246.8L336.5 247.1L337.5 247.4L338.5 247.8L339.5 248.3L340.5 248.9L341.5 249.6L342.5 250.4L343.5 251.2L344.5 252.1L345.5 253.0L346.5 254.0L347.5 255.0L348.5 256.0L349.5 257.0L350.5 258.1L351.5 259.1L352.5 260.1L353.5 261.1L354.5 262.1L355.5 263.1L356.5 264.0L357.5 264.9L358.5 265.9L359.5 266.8L360.5 267.8L361.5 268.7L362.5 269.6L363.5 270.6L364.5 271.5L365.5 272.5L366.5 273.5L367.5 274.4L368.5 275.4L369.5 276.3L370.5 277.2L371.5 278.2L372.5 279.1L373.5 279.9L374.5 280.8L375.5 281.6L376.5 282.4L377.5 283.2L378.5 283.9L379.5 284.6L380.5 285.3L381.5 285.9L382.5 286.5L383.5 287.1L384.5 287.7L385.5 288.2L386.5 288.7L387.5 289.2L388.5 289.6L389.5 290.0L390.5 290.4L391.5 290.8L392.5 291.2L393.5 291.6L394.5 291.9L395.5 292.3L396.5 292.6L397.5 292.9L398.5 293.2L399.5 293.5L400.5 293.8L401.5 294.1L402.5 294.4L403.5 294.7L404.5 294.9L405.5 295.2L406.5 295.5L407.5 295.7L408.5 296.0L409.5 296.2L410.5 296.4L411.5 296.7L412.5 296.9L413.5 297.1L414.5 297.3L415.5 297.5L416.5 297.7L417.5 297.9L418.5 298.0L419.5 298.2L420.5 298.4L421.5 298.5L422.5 298.7L423.5 298.8L424.5 298.9L425.5 299.1L426.5 299.2L427.5 299.3L428.5 299.4L429.5 299.5L430.5 299.6L431.5 299.7L432.5 299.8L433.5 299.8L434.5 299.9L435.5 300.0L436.5 300.0L437.5 300.0L438.5 300.1L439.5 300.1L440.5 300.1L440.6 300.1" stroke="#707070" stroke-width="0.9" stroke-dasharray="1.5,2.8"/>
<path d="M270.5 294.8L271.5 294.9L272.5 294.9L273.5 294.8L274.5 294.7L275.5 294.6L276.5 294.4L277.5 294.2L278.5 293.9L279.5 293.6L280.5 293.3L281.5 292.9L282.5 292.4L283.5 291.9L284.5 291.4L285.5 290.8L286.5 290.2L287.5 289.6L288.5 288.9L289.5 288.1L290.5 287.3L291.5 286.5L292.5 285.7L293.5 284.7L294.5 283.8L295.5 282.8L296.5 281.7L297.5 280.6L298.5 279.4L299.5 278.2L300.5 276.8L301.5 275.4L302.5 274.0L303.5 272.4L304.5 270.8L305.5 269.1L306.5 267.2L307.5 265.4L308.5 263.5L309.5 261.7L310.5 259.8L311.5 258.1L312.5 256.4L313.5 254.8L314.5 253.3L315.5 251.9L316.5 250.6L317.5 249.4L318.5 248.2L319.5 247.1L320.5 246.0L321.5 245.0L322.5 244.0L323.5 243.1L324.5 242.3L325.5 241.5L326.5 240.8L327.5 240.2L328.5 239.7L329.5 239.2L330.5 238.9L331.5 238.6L332.5 238.4L333.5 238.4L334.5 238.4L335.5 238.6L336.5 238.8L337.5 239.2L338.5 239.7L339.5 240.3L340.5 241.0L341.5 241.8L342.5 242.6L343.5 243.6L344.5 244.6L345.5 245.7L346.5 246.8L347.5 247.9L348.5 249.1L349.5 250.3L350.5 251.5L351.5 252.7L352.5 253.8L353.5 255.0L354.5 256.1L355.5 257.2L356.5 258.3L357.5 259.4L358.5 260.5L359.5 261.6L360.5 262.6L361.5 263.7L362.5 264.8L363.5 265.9L364.5 267.0L365.5 268.1L366.5 269.2L367.5 270.3L368.5 271.4L369.5 272.5L370.5 273.6L371.5 274.6L372.5 275.7L373.5 276.7L374.5 277.7L375.5 278.6L376.5 279.6L377.5 280.5L378.5 281.3L379.5 282.1L380.5 282.9L381.5 283.6L382.5 284.3L383.5 285.0L384.5 285.6L385.5 286.2L386.5 286.8L387.5 287.3L388.5 287.9L389.5 288.4L390.5 288.8L391.5 289.3L392.5 289.7L393.5 290.1L394.5 290.5L395.5 290.9L396.5 291.3L397.5 291.7L398.5 292.0L399.5 292.4L400.5 292.7L401.5 293.0L402.5 293.4L403.5 293.7L404.5 294.0L405.5 294.3L406.5 294.6L407.5 294.9L408.5 295.2L409.5 295.4L410.5 295.7L411.5 296.0L412.5 296.2L413.5 296.5L414.5 296.7L415.5 296.9L416.5 297.1L417.5 297.3L418.5 297.6L419.5 297.7L420.5 297.9L421.5 298.1L422.5 298.3L423.5 298.4L424.5 298.6L425.5 298.7L426.5 298.9L427.5 299.0L428.5 299.1L429.5 299.2L430.5 299.3L431.5 299.4L432.5 299.5L433.5 299.6L434.5 299.7L435.5 299.8L436.5 299.8L437.5 299.9L438.5 299.9L439.5 299.9L440.5 299.9L440.6 299.9" stroke="#707070" stroke-width="0.9" stroke-dasharray="1.5,2.8"/>
<path d="M270.5 294.8L271.5 294.8L272.5 294.8L273.5 294.7L274.5 294.6L275.5 294.4L276.5 294.2L277.5 293.9L278.5 293.6L279.5 293.3L280.5 292.9L281.5 292.4L282.5 292.0L283.5 291.4L284.5 290.9L285.5 290.2L286.5 289.6L287.5 288.9L288.5 288.1L289.5 287.3L290.5 286.5L291.5 285.6L292.5 284.7L293.5 283.7L294.5 282.7L295.5 281.6L296.5 280.5L297.5 279.3L298.5 278.0L299.5 276.6L300.5 275.2L301.5 273.7L302.5 272.1L303.5 270.5L304.5 268.7L305.5 266.9L306.5 264.9L307.5 262.9L308.5 260.9L309.5 258.9L310.5 257.0L311.5 255.1L312.5 253.3L313.5 251.6L314.5 250.0L315.5 248.5L316.5 247.1L317.5 245.8L318.5 244.5L319.5 243.3L320.5 242.1L321.5 241.0L322.5 240.0L323.5 239.0L324.5 238.1L325.5 237.3L326.5 236.6L327.5 235.9L328.5 235.3L329.5 234.9L330.5 234.5L331.5 234.2L332.5 234.0L333.5 233.9L334.5 234.0L335.5 234.1L336.5 234.4L337.5 234.8L338.5 235.3L339.5 236.0L340.5 236.7L341.5 237.6L342.5 238.5L343.5 239.5L344.5 240.6L345.5 241.7L346.5 242.9L347.5 244.2L348.5 245.4L349.5 246.7L350.5 248.0L351.5 249.2L352.5 250.5L353.5 251.7L354.5 252.9L355.5 254.1L356.5 255.3L357.5 256.5L358.5 257.6L359.5 258.8L360.5 259.9L361.5 261.1L362.5 262.3L363.5 263.4L364.5 264.6L365.5 265.8L366.5 267.0L367.5 268.2L368.5 269.3L369.5 270.5L370.5 271.6L371.5 272.8L372.5 273.9L373.5 275.0L374.5 276.0L375.5 277.1L376.5 278.0L377.5 279.0L378.5 279.9L379.5 280.8L380.5 281.6L381.5 282.4L382.5 283.1L383.5 283.9L384.5 284.5L385.5 285.2L386.5 285.8L387.5 286.4L388.5 286.9L389.5 287.5L390.5 288.0L391.5 288.4L392.5 288.9L393.5 289.3L394.5 289.8L395.5 290.2L396.5 290.6L397.5 291.0L398.5 291.4L399.5 291.7L400.5 292.1L401.5 292.5L402.5 292.8L403.5 293.2L404.5 293.5L405.5 293.8L406.5 294.1L407.5 294.4L408.5 294.7L409.5 295.0L410.5 295.3L411.5 295.6L412.5 295.9L413.5 296.1L414.5 296.4L415.5 296.6L416.5 296.9L417.5 297.1L418.5 297.3L419.5 297.5L420.5 297.7L421.5 297.9L422.5 298.1L423.5 298.2L424.5 298.4L425.5 298.6L426.5 298.7L427.5 298.9L428.5 299.0L429.5 299.1L430.5 299.2L431.5 299.3L432.5 299.4L433.5 299.5L434.5 299.6L435.5 299.6L436.5 299.7L437.5 299.8L438.5 299.8L439.5 299.8L440.5 299.8L440.6 299.8" stroke="#707070" stroke-width="0.9" stroke-dasharray="1.5,2.8"/>
<path d="M270.5 294.8L271.5 294.8L272.5 294.7L273.5 294.6L274.5 294.5L275.5 294.3L276.5 294.1L277.5 293.8L278.5 293.5L279.5 293.1L280.5 292.7L281.5 292.2L282.5 291.7L283.5 291.1L284.5 290.5L285.5 289.9L286.5 289.2L287.5 288.5L288.5 287.7L289.5 286.9L290.5 286.0L291.5 285.1L292.5 284.1L293.5 283.1L294.5 282.0L295.5 280.9L296.5 279.7L297.5 278.5L298.5 277.2L299.5 275.8L300.5 274.3L301.5 272.7L302.5 271.1L303.5 269.4L304.5 267.5L305.5 265.6L306.5 263.6L307.5 261.5L308.5 259.5L309.5 257.4L310.5 255.3L311.5 253.4L312.5 251.5L313.5 249.8L314.5 248.1L315.5 246.6L316.5 245.1L317.5 243.7L318.5 242.4L319.5 241.1L320.5 239.9L321.5 238.8L322.5 237.7L323.5 236.7L324.5 235.7L325.5 234.9L326.5 234.1L327.5 233.4L328.5 232.9L329.5 232.4L330.5 232.0L331.5 231.7L332.5 231.5L333.5 231.4L334.5 231.4L335.5 231.6L336.5 231.9L337.5 232.3L338.5 232.8L339.5 233.5L340.5 234.3L341.5 235.2L342.5 236.1L343.5 237.2L344.5 238.3L345.5 239.5L346.5 240.7L347.5 242.0L348.5 243.3L349.5 244.6L350.5 246.0L351.5 247.3L352.5 248.6L353.5 249.9L354.5 251.1L355.5 252.3L356.5 253.6L357.5 254.8L358.5 256.0L359.5 257.2L360.5 258.4L361.5 259.6L362.5 260.8L363.5 262.0L364.5 263.2L365.5 264.5L366.5 265.7L367.5 266.9L368.5 268.1L369.5 269.3L370.5 270.5L371.5 271.7L372.5 272.9L373.5 274.0L374.5 275.1L375.5 276.1L376.5 277.2L377.5 278.2L378.5 279.1L379.5 280.0L380.5 280.9L381.5 281.7L382.5 282.5L383.5 283.2L384.5 283.9L385.5 284.6L386.5 285.2L387.5 285.8L388.5 286.4L389.5 286.9L390.5 287.5L391.5 288.0L392.5 288.4L393.5 288.9L394.5 289.4L395.5 289.8L396.5 290.2L397.5 290.6L398.5 291.0L399.5 291.4L400.5 291.8L401.5 292.1L402.5 292.5L403.5 292.9L404.5 293.2L405.5 293.5L406.5 293.9L407.5 294.2L408.5 294.5L409.5 294.8L410.5 295.1L411.5 295.4L412.5 295.7L413.5 295.9L414.5 296.2L415.5 296.4L416.5 296.7L417.5 296.9L418.5 297.1L419.5 297.4L420.5 297.6L421.5 297.8L422.5 298.0L423.5 298.1L424.5 298.3L425.5 298.5L426.5 298.6L427.5 298.8L428.5 298.9L429.5 299.0L430.5 299.1L431.5 299.2L432.5 299.3L433.5 299.4L434.5 299.5L435.5 299.6L436.5 299.6L437.5 299.7L438.5 299.7L439.5 299.8L440.5 299.8L440.6 299.8" stroke="#707070" stroke-width="0.9" stroke-dasharray="1.5,2.8"/>
<path d="M270.5 295.5L271.5 295.8L272.5 296.2L273.5 296.5L274.5 296.8L275.5 297.2L276.5 297.5L277.5 297.8L278.5 298.1L279.5 298.3L280.5 298.5L281.5 298.7L282.5 298.8L283.5 298.9L284.5 299.0L285.5 299.1L286.5 299.1L287.5 299.1L288.5 299.2L289.5 299.2L290.5 299.2L291.5 299.2L292.5 299.2L293.5 299.2L294.5 299.2L295.5 299.2L296.5 299.3L297.5 299.3L298.5 299.3L299.5 299.3L300.5 299.3L301.5 299.3L302.5 299.3L303.5 299.4L304.5 299.4L305.5 299.4L306.5 299.4L307.5 299.4L308.5 299.5L309.5 299.5L310.5 299.5L311.5 299.5L312.5 299.5L313.5 299.6L314.5 299.6L315.5 299.6L316.5 299.6L317.5 299.7L318.5 299.7L319.5 299.7L320.5 299.7L321.5 299.8L322.5 299.8L323.5 299.8L324.5 299.8L325.5 299.9L326.5 299.9L327.5 299.9L328.5 299.9L329.5 300.0L330.5 300.0L331.5 300.0L332.5 300.0L333.5 300.0L334.5 300.1L335.5 300.1L336.5 300.1L337.5 300.1L338.5 300.2L339.5 300.2L340.5 300.2L341.5 300.2L342.5 300.2L343.5 300.3L344.5 300.3L345.5 300.3L346.5 300.3L347.5 300.3L348.5 300.3L349.5 300.4L350.5 300.4L351.5 300.4L352.5 300.4L353.5 300.4L354.5 300.4L355.5 300.5L356.5 300.5L357.5 300.5L358.5 300.5L359.5 300.5L360.5 300.5L361.5 300.5L362.5 300.6L363.5 300.6L364.5 300.6L365.5 300.6L366.5 300.6L367.5 300.6L368.5 300.6L369.5 300.6L370.5 300.7L371.5 300.7L372.5 300.7L373.5 300.7L374.5 300.7L375.5 300.7L376.5 300.7L377.5 300.7L378.5 300.7L379.5 300.8L380.5 300.8L381.5 300.8L382.5 300.8L383.5 300.8L384.5 300.8L385.5 300.8L386.5 300.8L387.5 300.8L388.5 300.8L389.5 300.8L390.5 300.9L391.5 300.9L392.5 300.9L393.5 300.9L394.5 300.9L395.5 300.9L396.5 300.9L397.5 300.9L398.5 300.9L399.5 300.9L400.5 301.0L401.5 301.0L402.5 301.0L403.5 301.0L404.5 301.0L405.5 301.0L406.5 301.0L407.5 301.0L408.5 301.0L409.5 301.0L410.5 301.0L411.5 301.0L412.5 301.1L413.5 301.1L414.5 301.1L415.5 301.1L416.5 301.1L417.5 301.1L418.5 301.1L419.5 301.1L420.5 301.1L421.5 301.1L422.5 301.1L423.5 301.2L424.5 301.2L425.5 301.2L426.5 301.2L427.5 301.2L428.5 301.2L429.5 301.2L430.5 301.2L431.5 301.2L432.5 301.2L433.5 301.2L434.5 301.2L435.5 301.3L436.5 301.3L437.5 301.3L438.5 301.3L439.5 301.3L440.5 301.3L440.6 301.3" stroke="#111" stroke-width="1.0"/>
<path d="M270.5 294.8L271.5 294.7L272.5 294.7L273.5 294.6L274.5 294.4L275.5 294.2L276.5 294.0L277.5 293.7L278.5 293.3L279.5 293.0L280.5 292.5L281.5 292.0L282.5 291.5L283.5 290.9L284.5 290.3L285.5 289.7L286.5 289.0L287.5 288.2L288.5 287.4L289.5 286.6L290.5 285.7L291.5 284.7L292.5 283.7L293.5 282.7L294.5 281.6L295.5 280.5L296.5 279.2L297.5 278.0L298.5 276.6L299.5 275.2L300.5 273.7L301.5 272.1L302.5 270.4L303.5 268.6L304.5 266.7L305.5 264.8L306.5 262.7L307.5 260.6L308.5 258.4L309.5 256.3L310.5 254.2L311.5 252.2L312.5 250.3L313.5 248.5L314.5 246.8L315.5 245.2L316.5 243.7L317.5 242.3L318.5 240.9L319.5 239.6L320.5 238.4L321.5 237.2L322.5 236.1L323.5 235.1L324.5 234.1L325.5 233.2L326.5 232.4L327.5 231.7L328.5 231.1L329.5 230.6L330.5 230.2L331.5 229.9L332.5 229.7L333.5 229.6L334.5 229.7L335.5 229.8L336.5 230.1L337.5 230.5L338.5 231.1L339.5 231.8L340.5 232.6L341.5 233.5L342.5 234.5L343.5 235.6L344.5 236.7L345.5 237.9L346.5 239.2L347.5 240.5L348.5 241.9L349.5 243.2L350.5 244.6L351.5 245.9L352.5 247.3L353.5 248.6L354.5 249.8L355.5 251.1L356.5 252.4L357.5 253.6L358.5 254.8L359.5 256.1L360.5 257.3L361.5 258.5L362.5 259.8L363.5 261.0L364.5 262.3L365.5 263.5L366.5 264.8L367.5 266.1L368.5 267.3L369.5 268.5L370.5 269.8L371.5 271.0L372.5 272.1L373.5 273.3L374.5 274.4L375.5 275.5L376.5 276.6L377.5 277.6L378.5 278.6L379.5 279.5L380.5 280.4L381.5 281.2L382.5 282.0L383.5 282.8L384.5 283.5L385.5 284.2L386.5 284.8L387.5 285.4L388.5 286.0L389.5 286.6L390.5 287.1L391.5 287.6L392.5 288.1L393.5 288.6L394.5 289.1L395.5 289.5L396.5 289.9L397.5 290.3L398.5 290.7L399.5 291.1L400.5 291.5L401.5 291.9L402.5 292.3L403.5 292.7L404.5 293.0L405.5 293.4L406.5 293.7L407.5 294.0L408.5 294.3L409.5 294.7L410.5 295.0L411.5 295.2L412.5 295.5L413.5 295.8L414.5 296.1L415.5 296.3L416.5 296.6L417.5 296.8L418.5 297.0L419.5 297.3L420.5 297.5L421.5 297.7L422.5 297.9L423.5 298.1L424.5 298.2L425.5 298.4L426.5 298.6L427.5 298.7L428.5 298.8L429.5 299.0L430.5 299.1L431.5 299.2L432.5 299.3L433.5 299.4L434.5 299.5L435.5 299.5L436.5 299.6L437.5 299.7L438.5 299.7L439.5 299.7L440.5 299.8L440.6 299.8" stroke="#d0f7f9" stroke-width="2.05"/>
<path d="M270.5 294.8L271.5 294.7L272.5 294.7L273.5 294.6L274.5 294.4L275.5 294.2L276.5 294.0L277.5 293.7L278.5 293.3L279.5 293.0L280.5 292.5L281.5 292.0L282.5 291.5L283.5 290.9L284.5 290.3L285.5 289.7L286.5 289.0L287.5 288.2L288.5 287.4L289.5 286.6L290.5 285.7L291.5 284.7L292.5 283.7L293.5 282.7L294.5 281.6L295.5 280.5L296.5 279.2L297.5 278.0L298.5 276.6L299.5 275.2L300.5 273.7L301.5 272.1L302.5 270.4L303.5 268.6L304.5 266.7L305.5 264.8L306.5 262.7L307.5 260.6L308.5 258.4L309.5 256.3L310.5 254.2L311.5 252.2L312.5 250.3L313.5 248.5L314.5 246.8L315.5 245.2L316.5 243.7L317.5 242.3L318.5 240.9L319.5 239.6L320.5 238.4L321.5 237.2L322.5 236.1L323.5 235.1L324.5 234.1L325.5 233.2L326.5 232.4L327.5 231.7L328.5 231.1L329.5 230.6L330.5 230.2L331.5 229.9L332.5 229.7L333.5 229.6L334.5 229.7L335.5 229.8L336.5 230.1L337.5 230.5L338.5 231.1L339.5 231.8L340.5 232.6L341.5 233.5L342.5 234.5L343.5 235.6L344.5 236.7L345.5 237.9L346.5 239.2L347.5 240.5L348.5 241.9L349.5 243.2L350.5 244.6L351.5 245.9L352.5 247.3L353.5 248.6L354.5 249.8L355.5 251.1L356.5 252.4L357.5 253.6L358.5 254.8L359.5 256.1L360.5 257.3L361.5 258.5L362.5 259.8L363.5 261.0L364.5 262.3L365.5 263.5L366.5 264.8L367.5 266.1L368.5 267.3L369.5 268.5L370.5 269.8L371.5 271.0L372.5 272.1L373.5 273.3L374.5 274.4L375.5 275.5L376.5 276.6L377.5 277.6L378.5 278.6L379.5 279.5L380.5 280.4L381.5 281.2L382.5 282.0L383.5 282.8L384.5 283.5L385.5 284.2L386.5 284.8L387.5 285.4L388.5 286.0L389.5 286.6L390.5 287.1L391.5 287.6L392.5 288.1L393.5 288.6L394.5 289.1L395.5 289.5L396.5 289.9L397.5 290.3L398.5 290.7L399.5 291.1L400.5 291.5L401.5 291.9L402.5 292.3L403.5 292.7L404.5 293.0L405.5 293.4L406.5 293.7L407.5 294.0L408.5 294.3L409.5 294.7L410.5 295.0L411.5 295.2L412.5 295.5L413.5 295.8L414.5 296.1L415.5 296.3L416.5 296.6L417.5 296.8L418.5 297.0L419.5 297.3L420.5 297.5L421.5 297.7L422.5 297.9L423.5 298.1L424.5 298.2L425.5 298.4L426.5 298.6L427.5 298.7L428.5 298.8L429.5 299.0L430.5 299.1L431.5 299.2L432.5 299.3L433.5 299.4L434.5 299.5L435.5 299.5L436.5 299.6L437.5 299.7L438.5 299.7L439.5 299.7L440.5 299.8L440.6 299.8" stroke="#45c4c8" stroke-width="1.05"/>
</g>
<g clip-path="url(#cf)" fill="none">
<path d="M502.5 290.4L503.5 290.8L504.5 291.3L505.5 291.7L506.5 292.1L507.5 292.3L508.5 292.5L509.5 292.7L510.5 292.8L511.5 292.9L512.5 293.0L513.5 293.1L514.5 293.2L515.5 293.2L516.5 293.3L517.5 293.3L518.5 293.3L519.5 293.3L520.5 293.4L521.5 293.3L522.5 293.3L523.5 293.3L524.5 293.3L525.5 293.2L526.5 293.2L527.5 293.1L528.5 293.1L529.5 293.0L530.5 293.0L531.5 292.9L532.5 292.9L533.5 292.8L534.5 292.8L535.5 292.7L536.5 292.7L537.5 292.6L538.5 292.6L539.5 292.6L540.5 292.5L541.5 292.5L542.5 292.5L543.5 292.4L544.5 292.4L545.5 292.4L546.5 292.4L547.5 292.4L548.5 292.3L549.5 292.3L550.5 292.3L551.5 292.3L552.5 292.3L553.5 292.3L554.5 292.3L555.5 292.4L556.5 292.4L557.5 292.4L558.5 292.5L559.5 292.5L560.5 292.6L561.5 292.6L562.5 292.7L563.5 292.8L564.5 292.8L565.5 292.9L566.5 293.0L567.5 293.1L568.5 293.2L569.5 293.3L570.5 293.4L571.5 293.5L572.5 293.5L573.5 293.6L574.5 293.7L575.5 293.8L576.5 293.8L577.5 293.9L578.5 294.0L579.5 294.1L580.5 294.1L581.5 294.2L582.5 294.3L583.5 294.4L584.5 294.5L585.5 294.5L586.5 294.6L587.5 294.7L588.5 294.8L589.5 294.9L590.5 295.0L591.5 295.1L592.5 295.2L593.5 295.3L594.5 295.4L595.5 295.5L596.5 295.6L597.5 295.8L598.5 295.9L599.5 296.0L600.5 296.0L601.5 296.1L602.5 296.2L603.5 296.2L604.5 296.3L605.5 296.4L606.5 296.4L607.5 296.5L608.5 296.5L609.5 296.6L610.5 296.6L611.5 296.7L612.5 296.7L613.5 296.8L614.5 296.8L615.5 296.9L616.5 296.9L617.5 297.0L618.5 297.0L619.5 297.1L620.5 297.1L621.5 297.2L622.5 297.3L623.5 297.3L624.5 297.4L625.5 297.4L626.5 297.5L627.5 297.5L628.5 297.6L629.5 297.6L630.5 297.7L631.5 297.7L632.5 297.7L633.5 297.8L634.5 297.8L635.5 297.9L636.5 297.9L637.5 297.9L638.5 298.0L639.5 298.0L640.5 298.0L641.5 298.1L642.5 298.1L643.5 298.1L644.5 298.2L645.5 298.2L646.5 298.2L647.5 298.2L648.5 298.3L649.5 298.3L650.5 298.3L651.5 298.3L652.5 298.4L653.5 298.4L654.5 298.4L655.5 298.4L656.5 298.5L657.5 298.5L658.5 298.5L659.5 298.5L660.5 298.6L661.5 298.6L662.5 298.6L663.5 298.6L664.5 298.6L665.5 298.7L666.5 298.7L667.5 298.7L668.5 298.7L669.5 298.8L670.5 298.8L671.5 298.8" stroke="#707070" stroke-width="0.9" stroke-dasharray="2,3.2"/>
<path d="M502.5 290.4L503.5 290.8L504.5 291.3L505.5 291.7L506.5 292.1L507.5 292.3L508.5 292.5L509.5 292.7L510.5 292.8L511.5 292.9L512.5 293.0L513.5 293.0L514.5 293.1L515.5 293.1L516.5 293.1L517.5 293.0L518.5 293.0L519.5 292.9L520.5 292.9L521.5 292.8L522.5 292.7L523.5 292.6L524.5 292.5L525.5 292.3L526.5 292.2L527.5 292.1L528.5 292.0L529.5 291.8L530.5 291.7L531.5 291.6L532.5 291.5L533.5 291.3L534.5 291.2L535.5 291.1L536.5 291.0L537.5 290.9L538.5 290.9L539.5 290.8L540.5 290.7L541.5 290.6L542.5 290.5L543.5 290.5L544.5 290.4L545.5 290.3L546.5 290.3L547.5 290.2L548.5 290.1L549.5 290.1L550.5 290.1L551.5 290.0L552.5 290.0L553.5 290.0L554.5 289.9L555.5 289.9L556.5 289.9L557.5 290.0L558.5 290.0L559.5 290.1L560.5 290.1L561.5 290.2L562.5 290.3L563.5 290.4L564.5 290.5L565.5 290.7L566.5 290.8L567.5 290.9L568.5 291.1L569.5 291.2L570.5 291.3L571.5 291.5L572.5 291.6L573.5 291.7L574.5 291.8L575.5 291.9L576.5 292.0L577.5 292.1L578.5 292.2L579.5 292.3L580.5 292.4L581.5 292.6L582.5 292.7L583.5 292.8L584.5 292.9L585.5 293.0L586.5 293.1L587.5 293.2L588.5 293.3L589.5 293.4L590.5 293.6L591.5 293.7L592.5 293.8L593.5 293.9L594.5 294.1L595.5 294.2L596.5 294.4L597.5 294.6L598.5 294.8L599.5 294.9L600.5 295.1L601.5 295.2L602.5 295.3L603.5 295.4L604.5 295.5L605.5 295.6L606.5 295.7L607.5 295.8L608.5 295.9L609.5 296.0L610.5 296.1L611.5 296.2L612.5 296.3L613.5 296.4L614.5 296.4L615.5 296.5L616.5 296.6L617.5 296.7L618.5 296.8L619.5 296.8L620.5 296.9L621.5 297.0L622.5 297.0L623.5 297.1L624.5 297.2L625.5 297.2L626.5 297.3L627.5 297.3L628.5 297.4L629.5 297.4L630.5 297.5L631.5 297.5L632.5 297.6L633.5 297.6L634.5 297.6L635.5 297.7L636.5 297.7L637.5 297.8L638.5 297.8L639.5 297.8L640.5 297.9L641.5 297.9L642.5 297.9L643.5 298.0L644.5 298.0L645.5 298.0L646.5 298.1L647.5 298.1L648.5 298.1L649.5 298.1L650.5 298.2L651.5 298.2L652.5 298.2L653.5 298.2L654.5 298.3L655.5 298.3L656.5 298.3L657.5 298.4L658.5 298.4L659.5 298.4L660.5 298.4L661.5 298.5L662.5 298.5L663.5 298.5L664.5 298.5L665.5 298.5L666.5 298.6L667.5 298.6L668.5 298.6L669.5 298.6L670.5 298.7L671.5 298.7" stroke="#707070" stroke-width="0.9" stroke-dasharray="2,3.2"/>
<path d="M502.5 290.4L503.5 290.9L504.5 291.3L505.5 291.7L506.5 292.1L507.5 292.3L508.5 292.5L509.5 292.7L510.5 292.9L511.5 293.0L512.5 293.1L513.5 293.2L514.5 293.3L515.5 293.4L516.5 293.5L517.5 293.6L518.5 293.7L519.5 293.8L520.5 293.8L521.5 293.9L522.5 294.0L523.5 294.0L524.5 294.1L525.5 294.1L526.5 294.2L527.5 294.2L528.5 294.2L529.5 294.3L530.5 294.3L531.5 294.3L532.5 294.3L533.5 294.3L534.5 294.3L535.5 294.3L536.5 294.3L537.5 294.3L538.5 294.3L539.5 294.3L540.5 294.3L541.5 294.4L542.5 294.4L543.5 294.4L544.5 294.4L545.5 294.4L546.5 294.5L547.5 294.5L548.5 294.5L549.5 294.6L550.5 294.6L551.5 294.6L552.5 294.7L553.5 294.7L554.5 294.8L555.5 294.8L556.5 294.8L557.5 294.9L558.5 294.9L559.5 294.9L560.5 295.0L561.5 295.0L562.5 295.1L563.5 295.1L564.5 295.2L565.5 295.2L566.5 295.2L567.5 295.3L568.5 295.3L569.5 295.4L570.5 295.4L571.5 295.4L572.5 295.5L573.5 295.5L574.5 295.6L575.5 295.6L576.5 295.7L577.5 295.7L578.5 295.8L579.5 295.8L580.5 295.9L581.5 295.9L582.5 295.9L583.5 296.0L584.5 296.0L585.5 296.1L586.5 296.1L587.5 296.2L588.5 296.3L589.5 296.3L590.5 296.4L591.5 296.4L592.5 296.5L593.5 296.6L594.5 296.7L595.5 296.8L596.5 296.8L597.5 296.9L598.5 296.9L599.5 297.0L600.5 297.0L601.5 297.0L602.5 297.1L603.5 297.1L604.5 297.1L605.5 297.1L606.5 297.1L607.5 297.1L608.5 297.1L609.5 297.2L610.5 297.2L611.5 297.2L612.5 297.2L613.5 297.2L614.5 297.2L615.5 297.2L616.5 297.3L617.5 297.3L618.5 297.3L619.5 297.4L620.5 297.4L621.5 297.4L622.5 297.5L623.5 297.5L624.5 297.6L625.5 297.6L626.5 297.7L627.5 297.7L628.5 297.7L629.5 297.8L630.5 297.8L631.5 297.9L632.5 297.9L633.5 298.0L634.5 298.0L635.5 298.0L636.5 298.1L637.5 298.1L638.5 298.2L639.5 298.2L640.5 298.2L641.5 298.2L642.5 298.3L643.5 298.3L644.5 298.3L645.5 298.3L646.5 298.4L647.5 298.4L648.5 298.4L649.5 298.4L650.5 298.5L651.5 298.5L652.5 298.5L653.5 298.5L654.5 298.6L655.5 298.6L656.5 298.6L657.5 298.6L658.5 298.6L659.5 298.7L660.5 298.7L661.5 298.7L662.5 298.7L663.5 298.7L664.5 298.8L665.5 298.8L666.5 298.8L667.5 298.8L668.5 298.8L669.5 298.9L670.5 298.9L671.5 298.9" stroke="#111" stroke-width="1.0"/>
<path d="M502.5 290.4L503.5 290.8L504.5 291.3L505.5 291.7L506.5 292.1L507.5 292.3L508.5 292.5L509.5 292.7L510.5 292.8L511.5 292.9L512.5 292.9L513.5 292.9L514.5 292.9L515.5 292.9L516.5 292.8L517.5 292.8L518.5 292.7L519.5 292.5L520.5 292.4L521.5 292.2L522.5 292.0L523.5 291.9L524.5 291.7L525.5 291.5L526.5 291.2L527.5 291.0L528.5 290.8L529.5 290.6L530.5 290.4L531.5 290.2L532.5 290.0L533.5 289.9L534.5 289.7L535.5 289.6L536.5 289.4L537.5 289.3L538.5 289.1L539.5 289.0L540.5 288.9L541.5 288.7L542.5 288.6L543.5 288.5L544.5 288.4L545.5 288.3L546.5 288.1L547.5 288.0L548.5 287.9L549.5 287.9L550.5 287.8L551.5 287.7L552.5 287.6L553.5 287.6L554.5 287.5L555.5 287.5L556.5 287.5L557.5 287.5L558.5 287.6L559.5 287.6L560.5 287.7L561.5 287.8L562.5 287.9L563.5 288.1L564.5 288.2L565.5 288.4L566.5 288.6L567.5 288.8L568.5 289.0L569.5 289.1L570.5 289.3L571.5 289.5L572.5 289.6L573.5 289.8L574.5 289.9L575.5 290.0L576.5 290.2L577.5 290.3L578.5 290.5L579.5 290.6L580.5 290.7L581.5 290.9L582.5 291.0L583.5 291.2L584.5 291.3L585.5 291.4L586.5 291.6L587.5 291.7L588.5 291.9L589.5 292.0L590.5 292.2L591.5 292.3L592.5 292.5L593.5 292.6L594.5 292.8L595.5 293.0L596.5 293.2L597.5 293.5L598.5 293.7L599.5 293.9L600.5 294.1L601.5 294.2L602.5 294.4L603.5 294.5L604.5 294.7L605.5 294.8L606.5 295.0L607.5 295.1L608.5 295.3L609.5 295.4L610.5 295.5L611.5 295.7L612.5 295.8L613.5 295.9L614.5 296.0L615.5 296.2L616.5 296.3L617.5 296.4L618.5 296.5L619.5 296.6L620.5 296.6L621.5 296.7L622.5 296.8L623.5 296.9L624.5 296.9L625.5 297.0L626.5 297.1L627.5 297.1L628.5 297.2L629.5 297.2L630.5 297.3L631.5 297.3L632.5 297.4L633.5 297.4L634.5 297.5L635.5 297.5L636.5 297.6L637.5 297.6L638.5 297.6L639.5 297.7L640.5 297.7L641.5 297.7L642.5 297.8L643.5 297.8L644.5 297.8L645.5 297.9L646.5 297.9L647.5 297.9L648.5 298.0L649.5 298.0L650.5 298.0L651.5 298.1L652.5 298.1L653.5 298.1L654.5 298.1L655.5 298.2L656.5 298.2L657.5 298.2L658.5 298.2L659.5 298.3L660.5 298.3L661.5 298.3L662.5 298.4L663.5 298.4L664.5 298.4L665.5 298.4L666.5 298.5L667.5 298.5L668.5 298.5L669.5 298.5L670.5 298.6L671.5 298.6" stroke="#d0f7f9" stroke-width="2.3"/>
<path d="M502.5 290.4L503.5 290.8L504.5 291.3L505.5 291.7L506.5 292.1L507.5 292.3L508.5 292.5L509.5 292.7L510.5 292.8L511.5 292.9L512.5 292.9L513.5 292.9L514.5 292.9L515.5 292.9L516.5 292.8L517.5 292.8L518.5 292.7L519.5 292.5L520.5 292.4L521.5 292.2L522.5 292.0L523.5 291.9L524.5 291.7L525.5 291.5L526.5 291.2L527.5 291.0L528.5 290.8L529.5 290.6L530.5 290.4L531.5 290.2L532.5 290.0L533.5 289.9L534.5 289.7L535.5 289.6L536.5 289.4L537.5 289.3L538.5 289.1L539.5 289.0L540.5 288.9L541.5 288.7L542.5 288.6L543.5 288.5L544.5 288.4L545.5 288.3L546.5 288.1L547.5 288.0L548.5 287.9L549.5 287.9L550.5 287.8L551.5 287.7L552.5 287.6L553.5 287.6L554.5 287.5L555.5 287.5L556.5 287.5L557.5 287.5L558.5 287.6L559.5 287.6L560.5 287.7L561.5 287.8L562.5 287.9L563.5 288.1L564.5 288.2L565.5 288.4L566.5 288.6L567.5 288.8L568.5 289.0L569.5 289.1L570.5 289.3L571.5 289.5L572.5 289.6L573.5 289.8L574.5 289.9L575.5 290.0L576.5 290.2L577.5 290.3L578.5 290.5L579.5 290.6L580.5 290.7L581.5 290.9L582.5 291.0L583.5 291.2L584.5 291.3L585.5 291.4L586.5 291.6L587.5 291.7L588.5 291.9L589.5 292.0L590.5 292.2L591.5 292.3L592.5 292.5L593.5 292.6L594.5 292.8L595.5 293.0L596.5 293.2L597.5 293.5L598.5 293.7L599.5 293.9L600.5 294.1L601.5 294.2L602.5 294.4L603.5 294.5L604.5 294.7L605.5 294.8L606.5 295.0L607.5 295.1L608.5 295.3L609.5 295.4L610.5 295.5L611.5 295.7L612.5 295.8L613.5 295.9L614.5 296.0L615.5 296.2L616.5 296.3L617.5 296.4L618.5 296.5L619.5 296.6L620.5 296.6L621.5 296.7L622.5 296.8L623.5 296.9L624.5 296.9L625.5 297.0L626.5 297.1L627.5 297.1L628.5 297.2L629.5 297.2L630.5 297.3L631.5 297.3L632.5 297.4L633.5 297.4L634.5 297.5L635.5 297.5L636.5 297.6L637.5 297.6L638.5 297.6L639.5 297.7L640.5 297.7L641.5 297.7L642.5 297.8L643.5 297.8L644.5 297.8L645.5 297.9L646.5 297.9L647.5 297.9L648.5 298.0L649.5 298.0L650.5 298.0L651.5 298.1L652.5 298.1L653.5 298.1L654.5 298.1L655.5 298.2L656.5 298.2L657.5 298.2L658.5 298.2L659.5 298.3L660.5 298.3L661.5 298.3L662.5 298.4L663.5 298.4L664.5 298.4L665.5 298.4L666.5 298.5L667.5 298.5L668.5 298.5L669.5 298.5L670.5 298.6L671.5 298.6" stroke="#45c4c8" stroke-width="1.3"/>
</g>
<path d="M40.50 354.80L40.50 483.50" stroke="#5a5a5a" stroke-width="1.0"/>
<path d="M40.50 483.50L215.35 483.50" stroke="#5a5a5a" stroke-width="1.0"/>
<path d="M37.90 460.06L40.50 460.06" stroke="#5a5a5a" stroke-width="1.0"/>
<path d="M37.90 413.18L40.50 413.18" stroke="#5a5a5a" stroke-width="1.0"/>
<path d="M37.90 366.30L40.50 366.30" stroke="#5a5a5a" stroke-width="1.0"/>
<path d="M39.00 483.50L40.50 483.50" stroke="#5a5a5a" stroke-width="1.0"/>
<path d="M39.00 436.62L40.50 436.62" stroke="#5a5a5a" stroke-width="1.0"/>
<path d="M39.00 389.74L40.50 389.74" stroke="#5a5a5a" stroke-width="1.0"/>
<rect x="57.25" y="394.90" width="23.50" height="88.60" fill="url(#gg0)"/>
<rect x="115.85" y="382.12" width="23.50" height="101.38" fill="url(#gg1)"/>
<rect x="174.30" y="373.33" width="23.50" height="110.17" fill="url(#gg2)"/>
<path d="M39.70 483.50L39.70 485.50" stroke="#5a5a5a" stroke-width="1.0"/>
<path d="M98.30 483.50L98.30 485.50" stroke="#5a5a5a" stroke-width="1.0"/>
<path d="M156.90 483.50L156.90 485.50" stroke="#5a5a5a" stroke-width="1.0"/>
<path d="M215.50 483.50L215.50 485.50" stroke="#5a5a5a" stroke-width="1.0"/>
<path d="M272.50 354.60L272.50 482.50" stroke="#5a5a5a" stroke-width="1.0"/>
<path d="M272.50 482.50L446.25 482.50" stroke="#5a5a5a" stroke-width="1.0"/>
<path d="M269.90 482.50L272.50 482.50" stroke="#5a5a5a" stroke-width="1.0"/>
<path d="M269.90 450.55L272.50 450.55" stroke="#5a5a5a" stroke-width="1.0"/>
<path d="M269.90 418.60L272.50 418.60" stroke="#5a5a5a" stroke-width="1.0"/>
<path d="M269.90 386.65L272.50 386.65" stroke="#5a5a5a" stroke-width="1.0"/>
<path d="M269.90 354.70L272.50 354.70" stroke="#5a5a5a" stroke-width="1.0"/>
<path d="M271.00 466.52L272.50 466.52" stroke="#5a5a5a" stroke-width="1.0"/>
<path d="M271.00 434.57L272.50 434.57" stroke="#5a5a5a" stroke-width="1.0"/>
<path d="M271.00 402.62L272.50 402.62" stroke="#5a5a5a" stroke-width="1.0"/>
<path d="M271.00 370.68L272.50 370.68" stroke="#5a5a5a" stroke-width="1.0"/>
<rect x="289.55" y="386.97" width="23.50" height="95.53" fill="url(#gh0)"/>
<rect x="347.45" y="378.09" width="23.50" height="104.41" fill="url(#gh1)"/>
<rect x="405.55" y="376.17" width="23.50" height="106.33" fill="url(#gh2)"/>
<path d="M272.35 482.50L272.35 484.50" stroke="#5a5a5a" stroke-width="1.0"/>
<path d="M330.25 482.50L330.25 484.50" stroke="#5a5a5a" stroke-width="1.0"/>
<path d="M388.15 482.50L388.15 484.50" stroke="#5a5a5a" stroke-width="1.0"/>
<path d="M446.05 482.50L446.05 484.50" stroke="#5a5a5a" stroke-width="1.0"/>
<path d="M507.00 354.30L507.00 482.00" stroke="#5a5a5a" stroke-width="1.0"/>
<path d="M507.00 482.00L680.42 482.00" stroke="#5a5a5a" stroke-width="1.0"/>
<path d="M504.40 482.00L507.00 482.00" stroke="#5a5a5a" stroke-width="1.0"/>
<path d="M504.40 439.43L507.00 439.43" stroke="#5a5a5a" stroke-width="1.0"/>
<path d="M504.40 396.86L507.00 396.86" stroke="#5a5a5a" stroke-width="1.0"/>
<path d="M504.40 354.30L507.00 354.30" stroke="#5a5a5a" stroke-width="1.0"/>
<path d="M505.50 460.72L507.00 460.72" stroke="#5a5a5a" stroke-width="1.0"/>
<path d="M505.50 418.15L507.00 418.15" stroke="#5a5a5a" stroke-width="1.0"/>
<path d="M505.50 375.58L507.00 375.58" stroke="#5a5a5a" stroke-width="1.0"/>
<rect x="523.90" y="410.27" width="23.50" height="71.73" fill="url(#gi0)"/>
<rect x="581.95" y="393.78" width="23.50" height="88.22" fill="url(#gi1)"/>
<rect x="639.65" y="364.30" width="23.50" height="117.70" fill="url(#gi2)"/>
<path d="M506.62 482.00L506.62 484.00" stroke="#5a5a5a" stroke-width="1.0"/>
<path d="M564.67 482.00L564.67 484.00" stroke="#5a5a5a" stroke-width="1.0"/>
<path d="M622.73 482.00L622.73 484.00" stroke="#5a5a5a" stroke-width="1.0"/>
<path d="M680.78 482.00L680.78 484.00" stroke="#5a5a5a" stroke-width="1.0"/>
<text transform="translate(35.40 142.50) scale(0.95 1)" font-size="10.1" text-anchor="end" stroke="#111" stroke-width="0.25">0.0</text>
<text transform="translate(35.40 119.56) scale(0.95 1)" font-size="10.1" text-anchor="end" stroke="#111" stroke-width="0.25">0.3</text>
<text transform="translate(35.40 96.11) scale(0.95 1)" font-size="10.1" text-anchor="end" stroke="#111" stroke-width="0.25">0.6</text>
<text transform="translate(35.40 72.67) scale(0.95 1)" font-size="10.1" text-anchor="end" stroke="#111" stroke-width="0.25">0.9</text>
<text transform="translate(35.40 49.72) scale(0.95 1)" font-size="10.1" text-anchor="end" stroke="#111" stroke-width="0.25">1.2</text>
<text transform="translate(35.40 26.28) scale(0.95 1)" font-size="10.1" text-anchor="end" stroke="#111" stroke-width="0.25">1.5</text>
<text transform="translate(68.59 156.52) scale(0.95 1)" font-size="10.1" text-anchor="middle" stroke="#111" stroke-width="0.25">300</text>
<text transform="translate(109.00 156.52) scale(0.95 1)" font-size="10.1" text-anchor="middle" stroke="#111" stroke-width="0.25">400</text>
<text transform="translate(149.16 156.52) scale(0.95 1)" font-size="10.1" text-anchor="middle" stroke="#111" stroke-width="0.25">500</text>
<text transform="translate(189.32 156.52) scale(0.95 1)" font-size="10.1" text-anchor="middle" stroke="#111" stroke-width="0.25">600</text>
<text transform="translate(12.88 14.52) scale(0.93 1)" font-size="14.2" text-anchor="middle" letter-spacing="0.8" stroke="#111" stroke-width="0.6">a)</text>
<text transform="translate(16.42 70.65) rotate(-90)" font-size="12.5" text-anchor="middle" stroke="#111" stroke-width="0.3">Absorbance</text>
<text transform="translate(127.65 168.40)" font-size="12.5" text-anchor="middle" stroke="#111" stroke-width="0.3">Wavelength (nm)</text>
<text transform="translate(266.75 142.50) scale(0.95 1)" font-size="10.1" text-anchor="end" stroke="#111" stroke-width="0.25">0.0</text>
<text transform="translate(266.75 119.56) scale(0.95 1)" font-size="10.1" text-anchor="end" stroke="#111" stroke-width="0.25">0.3</text>
<text transform="translate(266.75 96.11) scale(0.95 1)" font-size="10.1" text-anchor="end" stroke="#111" stroke-width="0.25">0.6</text>
<text transform="translate(266.75 72.67) scale(0.95 1)" font-size="10.1" text-anchor="end" stroke="#111" stroke-width="0.25">0.9</text>
<text transform="translate(266.75 49.72) scale(0.95 1)" font-size="10.1" text-anchor="end" stroke="#111" stroke-width="0.25">1.2</text>
<text transform="translate(266.75 26.28) scale(0.95 1)" font-size="10.1" text-anchor="end" stroke="#111" stroke-width="0.25">1.5</text>
<text transform="translate(299.80 156.30) scale(0.95 1)" font-size="10.1" text-anchor="middle" stroke="#111" stroke-width="0.25">300</text>
<text transform="translate(340.11 156.30) scale(0.95 1)" font-size="10.1" text-anchor="middle" stroke="#111" stroke-width="0.25">400</text>
<text transform="translate(380.43 156.30) scale(0.95 1)" font-size="10.1" text-anchor="middle" stroke="#111" stroke-width="0.25">500</text>
<text transform="translate(420.49 156.30) scale(0.95 1)" font-size="10.1" text-anchor="middle" stroke="#111" stroke-width="0.25">600</text>
<text transform="translate(238.75 15.10) scale(0.93 1)" font-size="14.2" text-anchor="middle" letter-spacing="0.8" stroke="#111" stroke-width="0.6">b)</text>
<text transform="translate(245.45 70.45) rotate(-90)" font-size="12.5" text-anchor="middle" stroke="#111" stroke-width="0.3">Absorbance</text>
<text transform="translate(355.35 168.30)" font-size="12.5" text-anchor="middle" stroke="#111" stroke-width="0.3">Wavelength (nm)</text>
<text transform="translate(496.90 142.50) scale(0.95 1)" font-size="10.1" text-anchor="end" stroke="#111" stroke-width="0.25">0.0</text>
<text transform="translate(496.90 119.56) scale(0.95 1)" font-size="10.1" text-anchor="end" stroke="#111" stroke-width="0.25">0.3</text>
<text transform="translate(496.90 96.11) scale(0.95 1)" font-size="10.1" text-anchor="end" stroke="#111" stroke-width="0.25">0.6</text>
<text transform="translate(496.90 72.67) scale(0.95 1)" font-size="10.1" text-anchor="end" stroke="#111" stroke-width="0.25">0.9</text>
<text transform="translate(496.90 49.72) scale(0.95 1)" font-size="10.1" text-anchor="end" stroke="#111" stroke-width="0.25">1.2</text>
<text transform="translate(496.90 26.28) scale(0.95 1)" font-size="10.1" text-anchor="end" stroke="#111" stroke-width="0.25">1.5</text>
<text transform="translate(532.60 156.50) scale(0.95 1)" font-size="10.1" text-anchor="middle" stroke="#111" stroke-width="0.25">300</text>
<text transform="translate(572.54 156.50) scale(0.95 1)" font-size="10.1" text-anchor="middle" stroke="#111" stroke-width="0.25">400</text>
<text transform="translate(612.47 156.50) scale(0.95 1)" font-size="10.1" text-anchor="middle" stroke="#111" stroke-width="0.25">500</text>
<text transform="translate(651.90 156.50) scale(0.95 1)" font-size="10.1" text-anchor="middle" stroke="#111" stroke-width="0.25">600</text>
<text transform="translate(469.62 14.15) scale(0.93 1)" font-size="14.2" text-anchor="middle" letter-spacing="0.8" stroke="#111" stroke-width="0.6">c)</text>
<text transform="translate(476.15 70.65) rotate(-90)" font-size="12.5" text-anchor="middle" stroke="#111" stroke-width="0.3">Absorbance</text>
<text transform="translate(584.40 168.30)" font-size="12.5" text-anchor="middle" stroke="#111" stroke-width="0.3">Wavelength (nm)</text>
<text transform="translate(35.00 305.87) scale(0.95 1)" font-size="10.1" text-anchor="end" stroke="#111" stroke-width="0.25">0</text>
<text transform="translate(35.00 283.52) scale(0.95 1)" font-size="10.1" text-anchor="end" stroke="#111" stroke-width="0.25">100</text>
<text transform="translate(35.00 260.67) scale(0.95 1)" font-size="10.1" text-anchor="end" stroke="#111" stroke-width="0.25">200</text>
<text transform="translate(35.00 237.82) scale(0.95 1)" font-size="10.1" text-anchor="end" stroke="#111" stroke-width="0.25">300</text>
<text transform="translate(35.00 215.47) scale(0.95 1)" font-size="10.1" text-anchor="end" stroke="#111" stroke-width="0.25">400</text>
<text transform="translate(35.00 192.62) scale(0.95 1)" font-size="10.1" text-anchor="end" stroke="#111" stroke-width="0.25">500</text>
<text transform="translate(41.00 316.50) scale(0.95 1)" font-size="10.1" text-anchor="middle" stroke="#111" stroke-width="0.25">550</text>
<text transform="translate(83.44 316.50) scale(0.95 1)" font-size="10.1" text-anchor="middle" stroke="#111" stroke-width="0.25">600</text>
<text transform="translate(125.38 316.50) scale(0.95 1)" font-size="10.1" text-anchor="middle" stroke="#111" stroke-width="0.25">650</text>
<text transform="translate(167.56 316.50) scale(0.95 1)" font-size="10.1" text-anchor="middle" stroke="#111" stroke-width="0.25">700</text>
<text transform="translate(209.50 316.50) scale(0.95 1)" font-size="10.1" text-anchor="middle" stroke="#111" stroke-width="0.25">750</text>
<text transform="translate(12.34 180.10) scale(0.93 1)" font-size="14.2" text-anchor="middle" letter-spacing="0.8" stroke="#111" stroke-width="0.6">d)</text>
<text transform="translate(12.33 245.65) rotate(-90)" font-size="12.5" text-anchor="middle" stroke="#111" stroke-width="0.3">F.L. Intensity (a.u.)</text>
<text transform="translate(132.40 330.50)" font-size="12.5" text-anchor="middle" stroke="#111" stroke-width="0.3">Wavelength (nm)</text>
<text transform="translate(267.70 307.43) scale(0.95 1)" font-size="10.1" text-anchor="end" stroke="#111" stroke-width="0.25">0</text>
<text transform="translate(267.70 284.49) scale(0.95 1)" font-size="10.1" text-anchor="end" stroke="#111" stroke-width="0.25">100</text>
<text transform="translate(267.70 262.55) scale(0.95 1)" font-size="10.1" text-anchor="end" stroke="#111" stroke-width="0.25">200</text>
<text transform="translate(267.70 239.61) scale(0.95 1)" font-size="10.1" text-anchor="end" stroke="#111" stroke-width="0.25">300</text>
<text transform="translate(267.70 217.16) scale(0.95 1)" font-size="10.1" text-anchor="end" stroke="#111" stroke-width="0.25">400</text>
<text transform="translate(267.70 194.72) scale(0.95 1)" font-size="10.1" text-anchor="end" stroke="#111" stroke-width="0.25">500</text>
<text transform="translate(279.62 318.25) scale(0.95 1)" font-size="10.1" text-anchor="middle" stroke="#111" stroke-width="0.25">550</text>
<text transform="translate(320.40 318.25) scale(0.95 1)" font-size="10.1" text-anchor="middle" stroke="#111" stroke-width="0.25">600</text>
<text transform="translate(360.68 318.25) scale(0.95 1)" font-size="10.1" text-anchor="middle" stroke="#111" stroke-width="0.25">650</text>
<text transform="translate(401.45 318.25) scale(0.95 1)" font-size="10.1" text-anchor="middle" stroke="#111" stroke-width="0.25">700</text>
<text transform="translate(441.98 318.25) scale(0.95 1)" font-size="10.1" text-anchor="middle" stroke="#111" stroke-width="0.25">750</text>
<text transform="translate(239.78 181.25) scale(0.93 1)" font-size="14.2" text-anchor="middle" letter-spacing="0.8" stroke="#111" stroke-width="0.6">e)</text>
<text transform="translate(244.70 245.65) rotate(-90)" font-size="12.5" text-anchor="middle" stroke="#111" stroke-width="0.3">F.L. Intensity (a.u.)</text>
<text transform="translate(370.75 332.43)" font-size="12.5" text-anchor="middle" stroke="#111" stroke-width="0.3">Wavelength (nm)</text>
<text transform="translate(497.20 302.43) scale(0.95 1)" font-size="10.1" text-anchor="end" stroke="#111" stroke-width="0.25">0</text>
<text transform="translate(497.20 280.27) scale(0.95 1)" font-size="10.1" text-anchor="end" stroke="#111" stroke-width="0.25">100</text>
<text transform="translate(497.20 258.61) scale(0.95 1)" font-size="10.1" text-anchor="end" stroke="#111" stroke-width="0.25">200</text>
<text transform="translate(497.20 236.95) scale(0.95 1)" font-size="10.1" text-anchor="end" stroke="#111" stroke-width="0.25">300</text>
<text transform="translate(497.20 215.29) scale(0.95 1)" font-size="10.1" text-anchor="end" stroke="#111" stroke-width="0.25">400</text>
<text transform="translate(497.20 193.63) scale(0.95 1)" font-size="10.1" text-anchor="end" stroke="#111" stroke-width="0.25">500</text>
<text transform="translate(505.28 314.55) scale(0.95 1)" font-size="10.1" text-anchor="middle" stroke="#111" stroke-width="0.25">550</text>
<text transform="translate(547.30 314.55) scale(0.95 1)" font-size="10.1" text-anchor="middle" stroke="#111" stroke-width="0.25">600</text>
<text transform="translate(589.32 314.55) scale(0.95 1)" font-size="10.1" text-anchor="middle" stroke="#111" stroke-width="0.25">650</text>
<text transform="translate(631.35 314.55) scale(0.95 1)" font-size="10.1" text-anchor="middle" stroke="#111" stroke-width="0.25">700</text>
<text transform="translate(673.38 314.55) scale(0.95 1)" font-size="10.1" text-anchor="middle" stroke="#111" stroke-width="0.25">750</text>
<text transform="translate(471.00 180.15) scale(0.93 1)" font-size="14.2" text-anchor="middle" letter-spacing="0.8" stroke="#111" stroke-width="0.6">f)</text>
<text transform="translate(473.10 245.65) rotate(-90)" font-size="12.5" text-anchor="middle" stroke="#111" stroke-width="0.3">F.L. Intensity (a.u.)</text>
<text transform="translate(599.68 331.47)" font-size="12.5" text-anchor="middle" stroke="#111" stroke-width="0.3">Wavelength (nm)</text>
<text transform="translate(34.75 464.37) scale(0.95 1)" font-size="10.1" text-anchor="end" stroke="#111" stroke-width="0.25">120</text>
<text transform="translate(34.75 417.25) scale(0.95 1)" font-size="10.1" text-anchor="end" stroke="#111" stroke-width="0.25">160</text>
<text transform="translate(34.75 370.63) scale(0.95 1)" font-size="10.1" text-anchor="end" stroke="#111" stroke-width="0.25">200</text>
<text transform="translate(69.00 389.79) scale(0.95 1)" font-size="11.3" text-anchor="middle" stroke="#111" stroke-width="0.3">175.6</text>
<text transform="translate(69.25 495.12) scale(0.95 1)" font-size="10.1" text-anchor="middle" stroke="#111" stroke-width="0.25">0</text>
<text transform="translate(127.55 378.25) scale(0.95 1)" font-size="11.3" text-anchor="middle" stroke="#111" stroke-width="0.3">186.5</text>
<text transform="translate(127.55 495.12) scale(0.95 1)" font-size="10.1" text-anchor="middle" stroke="#111" stroke-width="0.25">4</text>
<text transform="translate(186.28 370.42) scale(0.95 1)" font-size="11.3" text-anchor="middle" stroke="#111" stroke-width="0.3">194.0</text>
<text transform="translate(186.03 495.12) scale(0.95 1)" font-size="10.1" text-anchor="middle" stroke="#111" stroke-width="0.25">8</text>
<text transform="translate(10.65 357.53) scale(0.93 1)" font-size="14.2" text-anchor="middle" letter-spacing="0.8" stroke="#111" stroke-width="0.6">g)</text>
<text transform="translate(14.30 422.05) rotate(-90)" font-size="12.5" text-anchor="middle" stroke="#111" stroke-width="0.3">d / nm</text>
<text transform="translate(124.60 509.43)" font-size="12.5" text-anchor="middle" stroke="#111" stroke-width="0.3">Time / h</text>
<text transform="translate(268.55 486.60) scale(0.95 1)" font-size="10.1" text-anchor="end" stroke="#111" stroke-width="0.25">100</text>
<text transform="translate(268.55 454.38) scale(0.95 1)" font-size="10.1" text-anchor="end" stroke="#111" stroke-width="0.25">150</text>
<text transform="translate(268.55 422.65) scale(0.95 1)" font-size="10.1" text-anchor="end" stroke="#111" stroke-width="0.25">200</text>
<text transform="translate(268.55 390.43) scale(0.95 1)" font-size="10.1" text-anchor="end" stroke="#111" stroke-width="0.25">250</text>
<text transform="translate(268.55 358.70) scale(0.95 1)" font-size="10.1" text-anchor="end" stroke="#111" stroke-width="0.25">300</text>
<text transform="translate(301.15 383.68) scale(0.95 1)" font-size="11.3" text-anchor="middle" stroke="#111" stroke-width="0.3">249.5</text>
<text transform="translate(301.40 494.52) scale(0.95 1)" font-size="10.1" text-anchor="middle" stroke="#111" stroke-width="0.25">0</text>
<text transform="translate(358.85 374.80) scale(0.95 1)" font-size="11.3" text-anchor="middle" stroke="#111" stroke-width="0.3">263.4</text>
<text transform="translate(359.35 494.52) scale(0.95 1)" font-size="10.1" text-anchor="middle" stroke="#111" stroke-width="0.25">4</text>
<text transform="translate(416.90 372.49) scale(0.95 1)" font-size="11.3" text-anchor="middle" stroke="#111" stroke-width="0.3">266.4</text>
<text transform="translate(417.40 494.52) scale(0.95 1)" font-size="10.1" text-anchor="middle" stroke="#111" stroke-width="0.25">8</text>
<text transform="translate(240.58 357.25) scale(0.93 1)" font-size="14.2" text-anchor="middle" letter-spacing="0.8" stroke="#111" stroke-width="0.6">h)</text>
<text transform="translate(247.40 420.00) rotate(-90)" font-size="12.5" text-anchor="middle" stroke="#111" stroke-width="0.3">d / nm</text>
<text transform="translate(360.55 509.45)" font-size="12.5" text-anchor="middle" stroke="#111" stroke-width="0.3">Time / h</text>
<text transform="translate(502.80 486.52) scale(0.95 1)" font-size="10.1" text-anchor="end" stroke="#111" stroke-width="0.25">200</text>
<text transform="translate(502.80 443.29) scale(0.95 1)" font-size="10.1" text-anchor="end" stroke="#111" stroke-width="0.25">240</text>
<text transform="translate(502.80 401.06) scale(0.95 1)" font-size="10.1" text-anchor="end" stroke="#111" stroke-width="0.25">280</text>
<text transform="translate(502.80 358.33) scale(0.95 1)" font-size="10.1" text-anchor="end" stroke="#111" stroke-width="0.25">320</text>
<text transform="translate(535.82 406.49) scale(0.95 1)" font-size="11.3" text-anchor="middle" stroke="#111" stroke-width="0.3">267.4</text>
<text transform="translate(535.82 495.30) scale(0.95 1)" font-size="10.1" text-anchor="middle" stroke="#111" stroke-width="0.25">0</text>
<text transform="translate(593.85 390.53) scale(0.95 1)" font-size="11.3" text-anchor="middle" stroke="#111" stroke-width="0.3">282.9</text>
<text transform="translate(593.60 495.30) scale(0.95 1)" font-size="10.1" text-anchor="middle" stroke="#111" stroke-width="0.25">4</text>
<text transform="translate(651.45 361.31) scale(0.95 1)" font-size="11.3" text-anchor="middle" stroke="#111" stroke-width="0.3">310.6</text>
<text transform="translate(651.45 495.30) scale(0.95 1)" font-size="10.1" text-anchor="middle" stroke="#111" stroke-width="0.25">8</text>
<text transform="translate(474.70 357.15) scale(0.93 1)" font-size="14.2" text-anchor="middle" letter-spacing="0.8" stroke="#111" stroke-width="0.6">i)</text>
<text transform="translate(481.40 417.05) rotate(-90)" font-size="12.5" text-anchor="middle" stroke="#111" stroke-width="0.3">d / nm</text>
<text transform="translate(593.20 509.35)" font-size="12.5" text-anchor="middle" stroke="#111" stroke-width="0.3">Time / h</text>
</svg></body></html>
